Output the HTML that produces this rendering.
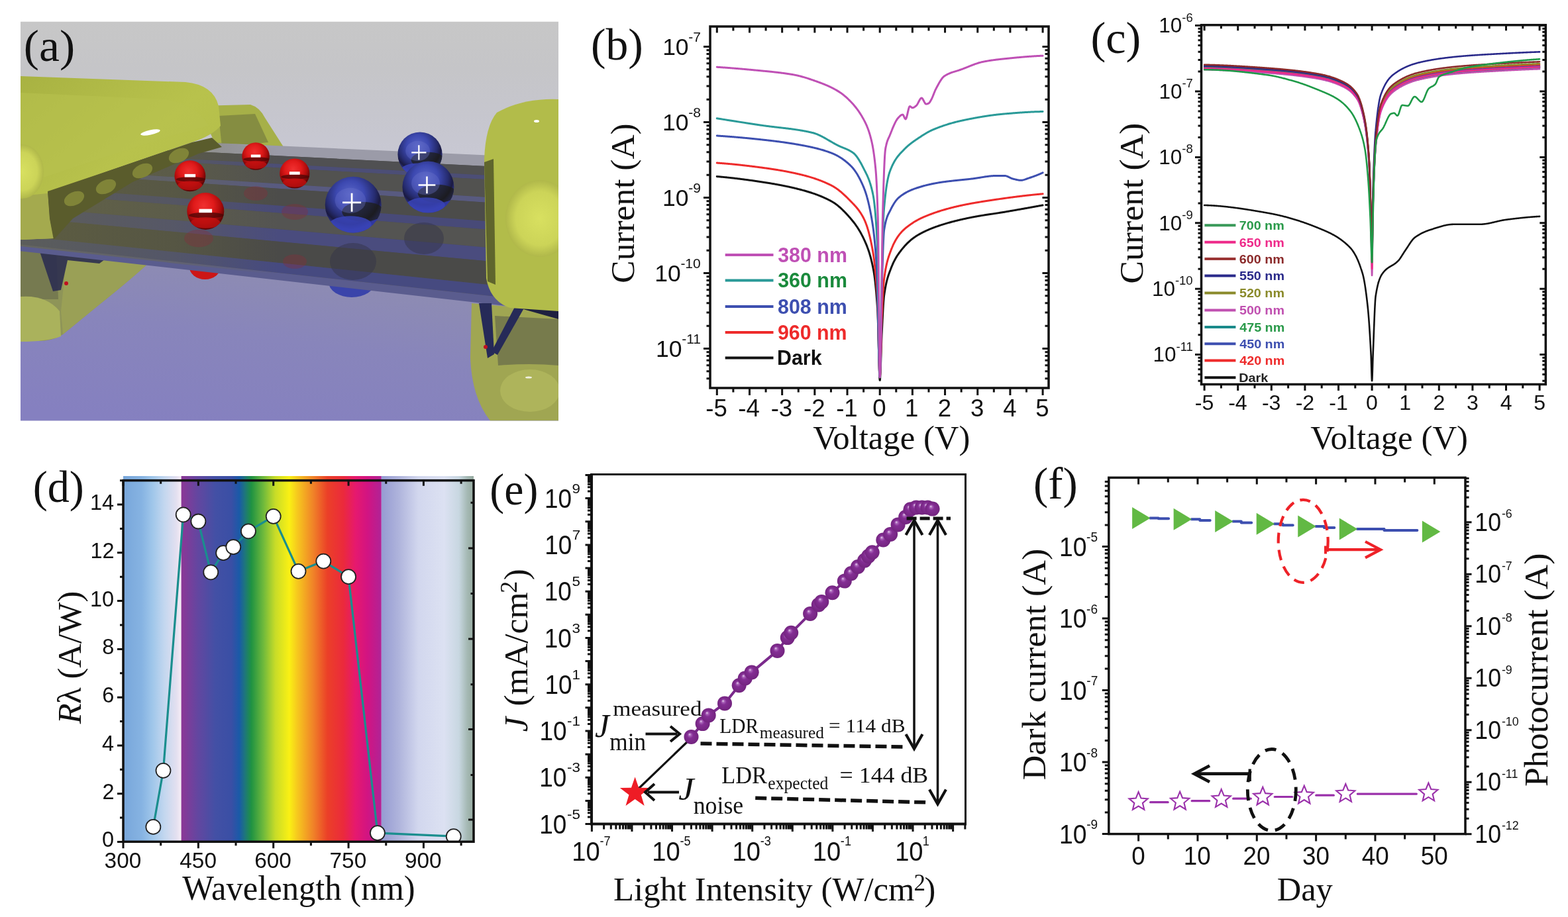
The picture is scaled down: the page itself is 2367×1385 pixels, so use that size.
<!DOCTYPE html><html><head><meta charset="utf-8"><title>Figure</title><style>html,body{margin:0;padding:0;background:#fff;overflow:hidden;}svg{display:block;}</style></head><body><svg width="2367" height="1385" viewBox="0 0 2367 1385"><defs><clipPath id="clipA"><rect x="31" y="32.5" width="812" height="603.0"/></clipPath><linearGradient id="bgA" x1="0" y1="0" x2="0" y2="1"><stop offset="0" stop-color="#c7c7c7"/><stop offset="0.12" stop-color="#c5c5c8"/><stop offset="0.3" stop-color="#c7c7d1"/><stop offset="0.45" stop-color="#cbcbd8"/><stop offset="0.62" stop-color="#9c9cbc"/><stop offset="0.75" stop-color="#8e8ebd"/><stop offset="1" stop-color="#8482c2"/></linearGradient><linearGradient id="yelA" x1="0" y1="0" x2="1" y2="1"><stop offset="0" stop-color="#a8b242"/><stop offset="0.5" stop-color="#b8c24c"/><stop offset="1" stop-color="#b2bc48"/></linearGradient><radialGradient id="capA" cx="0.5" cy="0.5" r="0.5"><stop offset="0" stop-color="#d8e060"/><stop offset="0.7" stop-color="#ccd458"/><stop offset="1" stop-color="#b0b84a"/></radialGradient><radialGradient id="redS" cx="0.45" cy="0.35" r="0.6"><stop offset="0" stop-color="#f03030"/><stop offset="0.45" stop-color="#e01a1a"/><stop offset="0.75" stop-color="#b00c0c"/><stop offset="1" stop-color="#600606"/></radialGradient><radialGradient id="bluS" cx="0.45" cy="0.32" r="0.62"><stop offset="0" stop-color="#5a66c8"/><stop offset="0.4" stop-color="#3c48b0"/><stop offset="0.7" stop-color="#262c70"/><stop offset="0.85" stop-color="#1a1a40"/><stop offset="1" stop-color="#3038a0"/></radialGradient><linearGradient id="floorA" x1="0.2" y1="1" x2="0.6" y2="0"><stop offset="0" stop-color="#8580c0"/><stop offset="0.5" stop-color="#8885bb"/><stop offset="1" stop-color="#908fae"/></linearGradient><linearGradient id="oliveOv" gradientUnits="userSpaceOnUse" x1="31" y1="0" x2="420" y2="0"><stop offset="0" stop-color="#6c6c3c" stop-opacity="0.55"/><stop offset="0.6" stop-color="#6c6c3c" stop-opacity="0.35"/><stop offset="1" stop-color="#6c6c3c" stop-opacity="0"/></linearGradient><clipPath id="rs0"><circle cx="386.1" cy="236" r="20.8"/></clipPath><clipPath id="rs1"><circle cx="286.9" cy="265.7" r="23.5"/></clipPath><clipPath id="rs2"><circle cx="444.8" cy="262" r="22.6"/></clipPath><clipPath id="rs3"><circle cx="310.3" cy="319" r="28"/></clipPath><clipPath id="bs0"><circle cx="634" cy="233" r="33.6"/></clipPath><clipPath id="bs1"><circle cx="533.2" cy="309.2" r="42.5"/></clipPath><clipPath id="bs2"><circle cx="646.4" cy="282.6" r="39"/></clipPath><linearGradient id="spA" x1="0" y1="0" x2="1" y2="0"><stop offset="0" stop-color="#78a6da"/><stop offset="0.32" stop-color="#86b3e2"/><stop offset="0.5" stop-color="#9fc6ea"/><stop offset="0.71" stop-color="#c3d7ef"/><stop offset="0.92" stop-color="#e4e0f0"/><stop offset="0.99" stop-color="#f4ecf5"/></linearGradient><linearGradient id="spB" x1="0" y1="0" x2="1" y2="0"><stop offset="0" stop-color="#8c3796"/><stop offset="0.08" stop-color="#6446a0"/><stop offset="0.17" stop-color="#4350a5"/><stop offset="0.25" stop-color="#3a4fa5"/><stop offset="0.29" stop-color="#1a5aa8"/><stop offset="0.32" stop-color="#1e7878"/><stop offset="0.35" stop-color="#1f9242"/><stop offset="0.41" stop-color="#6eb93c"/><stop offset="0.47" stop-color="#c8dc28"/><stop offset="0.54" stop-color="#faf014"/><stop offset="0.58" stop-color="#f6c81e"/><stop offset="0.66" stop-color="#f08228"/><stop offset="0.73" stop-color="#eb4028"/><stop offset="0.81" stop-color="#eb2a3c"/><stop offset="0.87" stop-color="#e6196e"/><stop offset="0.93" stop-color="#d21482"/><stop offset="1" stop-color="#b02396"/></linearGradient><linearGradient id="spC" x1="0" y1="0" x2="1" y2="0"><stop offset="0" stop-color="#969bd2"/><stop offset="0.19" stop-color="#afb4dc"/><stop offset="0.4" stop-color="#d2d7ee"/><stop offset="0.68" stop-color="#dce1f2"/><stop offset="0.84" stop-color="#c8d7e1"/><stop offset="0.93" stop-color="#a5b9b4"/><stop offset="1" stop-color="#96aaa0"/></linearGradient><clipPath id="clipD"><rect x="186" y="725.7" width="529" height="545.6"/></clipPath><radialGradient id="dotg" cx="0.5" cy="0.5" r="0.5" fx="0.38" fy="0.32"><stop offset="0" stop-color="#e8d8ee"/><stop offset="0.18" stop-color="#a860b8"/><stop offset="0.4" stop-color="#842e94"/><stop offset="1" stop-color="#73247f"/></radialGradient></defs><rect width="2367" height="1385" fill="#ffffff"/><g clip-path="url(#clipA)">
<rect x="31" y="32.5" width="812" height="603.0" fill="url(#bgA)"/>
<polygon points="31,372 775,455 843,470 843,635.5 31,635.5" fill="url(#floorA)"/>
<path d="M31,362 L230,392 Q200,420 150,460 L95,505 Q80,515 60,515 L31,515 Z" fill="#8e9458"/>
<path d="M100,392 L228,394 Q200,420 150,460 L95,505 L92,470 Z" fill="#9aa056"/>
<path d="M31,372 L85,378 L88,452 L31,452 Z" fill="#767a50"/>
<path d="M31,448 Q70,445 90,470 L92,508 Q70,516 31,516 Z" fill="#aab25c"/>
<path d="M57,371 L162,389 L150,398 L102,393 L92,438 L80,440 Z" fill="#2c2e50" opacity="0.9"/>
<circle cx="100" cy="428" r="3" fill="#c01020"/>
<path d="M300,160 L378,158 Q392,162 400,178 L430,225 L330,230 Z" fill="#a6b048"/>
<path d="M330,175 L385,172 L405,215 L335,222 Z" fill="#7d8440" opacity="0.8"/>
<ellipse cx="309.5" cy="402" rx="24" ry="20" fill="#cc1616"/>
<ellipse cx="531" cy="426" rx="35" ry="23" fill="#3a44aa"/>
<polygon points="31,207.17 790,243.37 790,457.55 31,373.6" fill="#4e4e50"/>
<polygon points="31,202.63 790,236.93 790,253.82 31,215.71" fill="#9b9ba8"/>
<polygon points="31,215.71 790,253.82 790,267.76 31,226.49" fill="#505052"/>
<polygon points="31,226.49 790,267.76 790,274.3 31,231.56" fill="#4c4e76"/>
<polygon points="31,231.56 790,274.3 790,301.33 31,252.48" fill="#525250"/>
<polygon points="31,252.48 790,301.33 790,309.57 31,258.85" fill="#585a80"/>
<polygon points="31,258.85 790,309.57 790,338.29 31,281.08" fill="#4c4c4a"/>
<polygon points="31,281.08 790,338.29 790,350.96 31,290.88" fill="#484a78"/>
<polygon points="31,290.88 790,350.96 790,378.41 31,312.13" fill="#545452"/>
<polygon points="31,312.13 790,378.41 790,399.53 31,328.47" fill="#4a4c7e"/>
<polygon points="31,328.47 790,399.53 790,435.43 31,356.26" fill="#4a4a48"/>
<polygon points="31,356.26 790,435.43 790,452.32 31,369.33" fill="#464a80"/>
<polygon points="31,369.33 790,452.32 790,464.99 31,379.14" fill="#5a5c8e"/>
<polygon points="31,300 330,215 420,225 420,415 31,372" fill="url(#oliveOv)"/>
<ellipse cx="386" cy="292" rx="18" ry="10.799999999999999" fill="#8a2a3a" opacity="0.35"/>
<ellipse cx="445" cy="320" rx="20" ry="12.0" fill="#8a2a3a" opacity="0.35"/>
<ellipse cx="300" cy="360" rx="22" ry="13.2" fill="#8a2a3a" opacity="0.35"/>
<ellipse cx="445" cy="395" rx="18" ry="10.799999999999999" fill="#8a2a3a" opacity="0.35"/>
<ellipse cx="533" cy="395" rx="35" ry="28.0" fill="#333348" opacity="0.5"/>
<ellipse cx="640" cy="360" rx="30" ry="24.0" fill="#333348" opacity="0.5"/>
<path d="M31,115 L280,124 Q322,128 330,160 L333,190 Q320,205 290,215 L170,256 L80,288 L72,289 L75,330 L81,360 L31,362 Z" fill="url(#yelA)"/>
<path d="M31,296 L72,292 L75,330 L81,360 L31,362 Z" fill="#a4aa4e"/>
<path d="M31,140 L250,150 Q300,160 315,190 L260,205 L150,240 L60,270 L31,272 Z" fill="#b8c24e" opacity="0.6"/>
<path d="M72,289 L170,256 L290,215 L320,208 L335,222 L300,232 L200,275 L110,330 L81,362 L75,330 Z" fill="#5a5c2c"/>
<ellipse cx="112" cy="300" rx="16" ry="10" transform="rotate(-25 112 300)" fill="#8a8e3c" opacity="0.8"/>
<ellipse cx="160" cy="282" rx="16" ry="10" transform="rotate(-25 160 282)" fill="#8a8e3c" opacity="0.8"/>
<ellipse cx="215" cy="258" rx="16" ry="10" transform="rotate(-25 215 258)" fill="#8a8e3c" opacity="0.8"/>
<ellipse cx="270" cy="235" rx="16" ry="10" transform="rotate(-25 270 235)" fill="#8a8e3c" opacity="0.8"/>
<ellipse cx="33" cy="259" rx="33" ry="41" fill="url(#capA)"/>
<ellipse cx="227" cy="200" rx="15" ry="3.5" transform="rotate(-12 227 200)" fill="#ffffff"/>
<path d="M712,458 L843,470 L843,635.5 L740,635.5 Q712,600 710,540 Z" fill="#a0a652"/>
<path d="M747,477 L843,482 L843,552 Q800,548 752,552 Z" fill="#777b4c"/>
<ellipse cx="800" cy="590" rx="45" ry="32" fill="#b2b85e" opacity="0.8"/>
<ellipse cx="798" cy="570" rx="5" ry="1.6" fill="#f0f0e0"/>
<path d="M723,458 L742,458 L746,535 L736,541 Z" fill="#262a58"/>
<path d="M780,458 L793,462 L751,536 L742,531 Z" fill="#262a58"/>
<path d="M780,455 L843,468 L843,482 L790,467 Z" fill="#1e2040"/>
<circle cx="733" cy="524" r="3" fill="#c01020"/>
<path d="M750,170 Q790,148 843,150 L843,470 L770,465 Q740,455 734,420 L731,240 Q733,190 750,170 Z" fill="#b2bc4a"/>
<path d="M731,245 L745,240 L748,430 L736,425 Z" fill="#505628" opacity="0.85"/>
<ellipse cx="815" cy="330" rx="52" ry="58" fill="url(#capA)"/>
<ellipse cx="810" cy="183" rx="4" ry="2" fill="#fff"/>
<circle cx="386.1" cy="236" r="20.8" fill="url(#redS)"/>
<g clip-path="url(#rs0)">
<ellipse cx="387.14" cy="240.58" rx="19.76" ry="3.33" fill="#4a0505" opacity="0.75"/>
<ellipse cx="386.1" cy="248.9" rx="16.64" ry="6.24" fill="#c01010" opacity="0.8"/>
</g>
<rect x="378.82" y="233.5" width="14.56" height="4.16" fill="#fff"/>
<circle cx="286.9" cy="265.7" r="23.5" fill="url(#redS)"/>
<g clip-path="url(#rs1)">
<ellipse cx="288.07" cy="270.87" rx="22.32" ry="3.76" fill="#4a0505" opacity="0.75"/>
<ellipse cx="286.9" cy="280.27" rx="18.8" ry="7.05" fill="#c01010" opacity="0.8"/>
</g>
<rect x="278.67" y="262.88" width="16.45" height="4.7" fill="#fff"/>
<circle cx="444.8" cy="262" r="22.6" fill="url(#redS)"/>
<g clip-path="url(#rs2)">
<ellipse cx="445.93" cy="266.97" rx="21.47" ry="3.62" fill="#4a0505" opacity="0.75"/>
<ellipse cx="444.8" cy="276.01" rx="18.08" ry="6.78" fill="#c01010" opacity="0.8"/>
</g>
<rect x="436.89" y="259.29" width="15.82" height="4.52" fill="#fff"/>
<circle cx="310.3" cy="319" r="28" fill="url(#redS)"/>
<g clip-path="url(#rs3)">
<ellipse cx="311.7" cy="325.16" rx="26.6" ry="4.48" fill="#4a0505" opacity="0.75"/>
<ellipse cx="310.3" cy="336.36" rx="22.4" ry="8.4" fill="#c01010" opacity="0.8"/>
</g>
<rect x="300.5" y="315.64" width="19.6" height="5.6" fill="#fff"/>
<circle cx="634" cy="233" r="33.6" fill="url(#bluS)"/>
<g clip-path="url(#bs0)">
<ellipse cx="645.76" cy="241.4" rx="25.2" ry="11.76" fill="#1c1c14" opacity="0.7"/>
<ellipse cx="630.64" cy="256.52" rx="25.2" ry="10.08" fill="#3a44b8" opacity="0.85"/>
<ellipse cx="630.64" cy="227.96" rx="18.48" ry="15.12" fill="#6a74cc" opacity="0.35"/>
</g>
<path d="M621.23 230.31h22.18 M632.32 219.22v22.18" stroke="#ffffff" stroke-width="2.2"/>
<circle cx="533.2" cy="309.2" r="42.5" fill="url(#bluS)"/>
<g clip-path="url(#bs1)">
<ellipse cx="548.08" cy="319.82" rx="31.88" ry="14.87" fill="#1c1c14" opacity="0.7"/>
<ellipse cx="528.95" cy="338.95" rx="31.88" ry="12.75" fill="#3a44b8" opacity="0.85"/>
<ellipse cx="528.95" cy="302.82" rx="23.38" ry="19.12" fill="#6a74cc" opacity="0.35"/>
</g>
<path d="M517.05 305.8h28.05 M531.08 291.78v28.05" stroke="#ffffff" stroke-width="2.76"/>
<circle cx="646.4" cy="282.6" r="39" fill="url(#bluS)"/>
<g clip-path="url(#bs2)">
<ellipse cx="660.05" cy="292.35" rx="29.25" ry="13.65" fill="#1c1c14" opacity="0.7"/>
<ellipse cx="642.5" cy="309.9" rx="29.25" ry="11.7" fill="#3a44b8" opacity="0.85"/>
<ellipse cx="642.5" cy="276.75" rx="21.45" ry="17.55" fill="#6a74cc" opacity="0.35"/>
</g>
<path d="M631.58 279.48h25.74 M644.45 266.61v25.74" stroke="#ffffff" stroke-width="2.54"/>
</g>
<text x="35.87" y="92.47" font-family="'Liberation Serif', 'Times New Roman', serif" font-size="67.58" fill="#111" textLength="77.26" lengthAdjust="spacingAndGlyphs">(a)</text>
<polyline points="1082.3,266.58 1083.12,266.65 1083.94,266.72 1084.76,266.79 1085.58,266.86 1086.41,266.93 1087.23,267 1088.05,267.08 1088.87,267.15 1089.69,267.23 1090.51,267.3 1091.33,267.38 1092.15,267.46 1092.97,267.54 1093.79,267.62 1094.62,267.7 1095.44,267.78 1096.26,267.86 1097.08,267.95 1097.9,268.03 1098.72,268.12 1099.54,268.2 1100.36,268.29 1101.18,268.38 1102,268.47 1102.83,268.56 1103.65,268.65 1104.47,268.74 1105.29,268.83 1106.11,268.92 1106.93,269.02 1107.75,269.11 1108.57,269.21 1109.39,269.3 1110.22,269.4 1111.04,269.5 1111.86,269.6 1112.68,269.7 1113.5,269.8 1114.32,269.9 1115.14,270 1115.96,270.1 1116.78,270.2 1117.6,270.3 1118.43,270.41 1119.25,270.51 1120.07,270.62 1120.89,270.72 1121.71,270.83 1122.53,270.94 1123.35,271.04 1124.17,271.15 1124.99,271.26 1125.81,271.37 1126.64,271.48 1127.46,271.59 1128.28,271.7 1129.1,271.81 1129.92,271.93 1130.74,272.04 1131.56,272.15 1132.38,272.27 1133.2,272.38 1134.03,272.5 1134.85,272.61 1135.67,272.73 1136.49,272.85 1137.31,272.96 1138.13,273.08 1138.95,273.2 1139.77,273.32 1140.59,273.44 1141.41,273.56 1142.24,273.68 1143.06,273.8 1143.88,273.92 1144.7,274.04 1145.52,274.16 1146.34,274.28 1147.16,274.4 1147.98,274.53 1148.8,274.65 1149.62,274.77 1150.45,274.9 1151.27,275.02 1152.09,275.15 1152.91,275.28 1153.73,275.4 1154.55,275.53 1155.37,275.66 1156.19,275.79 1157.01,275.92 1157.84,276.05 1158.66,276.18 1159.48,276.32 1160.3,276.45 1161.12,276.58 1161.94,276.72 1162.76,276.85 1163.58,276.99 1164.4,277.13 1165.22,277.27 1166.05,277.41 1166.87,277.55 1167.69,277.69 1168.51,277.83 1169.33,277.98 1170.15,278.12 1170.97,278.27 1171.79,278.42 1172.61,278.56 1173.43,278.71 1174.26,278.86 1175.08,279.02 1175.9,279.17 1176.72,279.32 1177.54,279.48 1178.36,279.64 1179.18,279.79 1180,279.95 1180.82,280.11 1181.65,280.28 1182.47,280.44 1183.29,280.6 1184.11,280.77 1184.93,280.94 1185.75,281.11 1186.57,281.28 1187.39,281.45 1188.21,281.62 1189.03,281.8 1189.86,281.97 1190.68,282.15 1191.5,282.33 1192.32,282.51 1193.14,282.69 1193.96,282.88 1194.78,283.06 1195.6,283.25 1196.42,283.44 1197.24,283.63 1198.07,283.82 1198.89,284.02 1199.71,284.21 1200.53,284.41 1201.35,284.61 1202.17,284.81 1202.99,285.01 1203.81,285.22 1204.63,285.42 1205.46,285.63 1206.28,285.84 1207.1,286.06 1207.92,286.27 1208.74,286.49 1209.56,286.7 1210.38,286.92 1211.2,287.14 1212.02,287.37 1212.84,287.59 1213.67,287.82 1214.49,288.05 1215.31,288.28 1216.13,288.52 1216.95,288.76 1217.77,289 1218.59,289.24 1219.41,289.48 1220.23,289.73 1221.05,289.98 1221.88,290.24 1222.7,290.49 1223.52,290.76 1224.34,291.02 1225.16,291.29 1225.98,291.56 1226.8,291.83 1227.62,292.11 1228.44,292.39 1229.27,292.67 1230.09,292.96 1230.91,293.26 1231.73,293.55 1232.55,293.85 1233.37,294.16 1234.19,294.47 1235.01,294.78 1235.83,295.1 1236.65,295.42 1237.48,295.75 1238.3,296.08 1239.12,296.42 1239.94,296.76 1240.76,297.11 1241.58,297.46 1242.4,297.81 1243.22,298.17 1244.04,298.54 1244.86,298.91 1245.69,299.29 1246.51,299.67 1247.33,300.06 1248.15,300.46 1248.97,300.86 1249.79,301.26 1250.61,301.67 1251.43,302.09 1252.25,302.51 1253.08,302.94 1253.9,303.38 1254.72,303.82 1255.54,304.27 1256.36,304.73 1257.18,305.22 1258,305.72 1258.82,306.25 1259.64,306.79 1260.46,307.35 1261.29,307.93 1262.11,308.53 1262.93,309.15 1263.75,309.78 1264.57,310.43 1265.39,311.1 1266.21,311.79 1267.03,312.49 1267.85,313.2 1268.67,313.93 1269.5,314.68 1270.32,315.44 1271.14,316.22 1271.96,317 1272.78,317.81 1273.6,318.62 1274.42,319.45 1275.24,320.29 1276.06,321.14 1276.89,322.01 1277.71,322.88 1278.53,323.77 1279.35,324.66 1280.17,325.57 1280.99,326.48 1281.81,327.41 1282.63,328.34 1283.45,329.29 1284.27,330.24 1285.1,331.2 1285.92,332.18 1286.74,333.18 1287.56,334.19 1288.38,335.23 1289.2,336.29 1290.02,337.37 1290.84,338.48 1291.66,339.62 1292.48,340.78 1293.31,341.98 1294.13,343.2 1294.95,344.46 1295.77,345.76 1296.59,347.09 1297.41,348.46 1298.23,349.86 1299.05,351.31 1299.87,352.8 1300.7,354.34 1301.52,355.91 1302.34,357.54 1303.16,359.21 1303.98,360.94 1304.8,362.7 1305.62,364.49 1306.44,366.33 1307.26,368.22 1308.08,370.18 1308.53,371.27 1308.66,371.6 1308.79,371.93 1308.91,372.22 1308.92,372.27 1309.05,372.61 1309.19,372.95 1309.32,373.29 1309.45,373.63 1309.58,373.98 1309.71,374.33 1309.73,374.37 1309.84,374.69 1309.98,375.05 1310.11,375.41 1310.24,375.77 1310.37,376.14 1310.5,376.51 1310.55,376.64 1310.63,376.88 1310.76,377.26 1310.9,377.64 1311.03,378.02 1311.16,378.41 1311.29,378.8 1311.37,379.03 1311.42,379.19 1311.55,379.59 1311.69,379.99 1311.82,380.4 1311.95,380.81 1312.08,381.22 1312.19,381.57 1312.21,381.64 1312.34,382.06 1312.48,382.49 1312.61,382.92 1312.74,383.36 1312.87,383.79 1313,384.24 1313.01,384.27 1313.13,384.69 1313.27,385.14 1313.4,385.6 1313.53,386.06 1313.66,386.52 1313.79,387 1313.83,387.14 1313.92,387.47 1314.05,387.95 1314.19,388.44 1314.32,388.93 1314.45,389.43 1314.58,389.93 1314.65,390.2 1314.71,390.43 1314.84,390.94 1314.98,391.46 1315.11,391.98 1315.24,392.51 1315.37,393.05 1315.47,393.47 1315.5,393.58 1315.63,394.13 1315.77,394.68 1315.9,395.23 1316.03,395.8 1316.16,396.36 1316.29,396.94 1316.29,396.95 1316.42,397.52 1316.55,398.1 1316.69,398.69 1316.82,399.29 1316.95,399.9 1317.08,400.51 1317.12,400.67 1317.21,401.12 1317.34,401.75 1317.48,402.38 1317.61,403.01 1317.74,403.66 1317.87,404.3 1317.94,404.64 1318,404.96 1318.13,405.62 1318.27,406.29 1318.4,406.97 1318.53,407.66 1318.66,408.37 1318.76,408.92 1318.79,409.11 1318.92,409.86 1319.05,410.63 1319.19,411.42 1319.32,412.24 1319.45,413.07 1319.58,413.92 1319.58,413.93 1319.71,414.81 1319.84,415.71 1319.98,416.64 1320.11,417.59 1320.24,418.57 1320.37,419.56 1320.4,419.79 1320.5,420.59 1320.63,421.64 1320.77,422.71 1320.9,423.81 1321.03,424.94 1321.16,426.09 1321.22,426.63 1321.29,427.27 1321.42,428.48 1321.55,429.72 1321.69,430.98 1321.82,432.27 1321.95,433.6 1322.04,434.54 1322.08,434.95 1322.21,436.33 1322.34,437.74 1322.48,439.19 1322.61,440.66 1322.74,442.17 1322.86,443.62 1322.87,443.7 1323,445.27 1323.13,446.88 1323.27,448.51 1323.4,450.18 1323.53,451.89 1323.66,453.62 1323.68,453.94 1323.79,455.4 1323.92,457.2 1324.06,459.05 1324.19,460.93 1324.32,462.84 1324.45,464.79 1324.51,465.63 1324.58,466.78 1324.71,468.81 1324.84,470.99 1324.98,473.72 1325.11,476.96 1325.24,480.67 1325.33,483.35 1325.37,484.79 1325.5,489.27 1325.63,494.06 1325.77,499.1 1325.9,504.36 1326.03,509.76 1326.15,514.72 1326.16,515.26 1326.29,520.81 1326.42,526.36 1326.56,531.85 1326.69,537.23 1326.82,542.45 1326.95,547.46 1326.97,548.14 1327.08,552.2 1327.21,556.62 1327.34,560.67 1327.48,564.3 1327.61,567.46 1327.74,570.09 1327.79,570.94 1327.87,572.13 1328,573.55 1328.13,574.29 1328.27,574.3 1328.4,573.72 1328.53,572.58 1328.61,571.62 1328.66,570.95 1328.79,568.85 1328.92,566.35 1329.06,563.47 1329.19,560.27 1329.32,556.79 1329.43,553.61 1329.45,553.08 1329.58,549.17 1329.71,545.12 1329.84,540.96 1329.98,536.75 1330.11,532.52 1330.24,528.32 1330.25,527.91 1330.37,524.2 1330.5,520.19 1330.63,516.35 1330.77,512.72 1330.9,509.34 1331.03,506.25 1331.07,505.28 1331.16,503.51 1331.29,500.9 1331.42,498.27 1331.56,495.63 1331.69,492.97 1331.82,490.32 1331.89,488.78 1331.95,487.67 1332.08,485.03 1332.21,482.41 1332.34,479.82 1332.48,477.26 1332.61,474.74 1332.72,472.72 1332.74,472.27 1332.87,469.86 1333,467.5 1333.13,465.22 1333.27,463.02 1333.4,460.9 1333.53,458.87 1333.54,458.76 1333.66,456.94 1333.79,455.11 1333.92,453.4 1334.06,451.81 1334.19,450.34 1334.32,449.01 1334.36,448.65 1334.45,447.82 1334.58,446.78 1334.71,445.84 1334.85,444.91 1334.98,444.01 1335.11,443.11 1335.18,442.64 1335.24,442.24 1335.37,441.38 1335.5,440.53 1335.63,439.71 1335.77,438.89 1335.9,438.1 1336,437.49 1336.03,437.31 1336.16,436.55 1336.29,435.79 1336.42,435.05 1336.56,434.33 1336.69,433.62 1336.82,432.92 1336.82,432.91 1336.95,432.23 1337.08,431.56 1337.21,430.9 1337.35,430.25 1337.48,429.62 1337.61,428.99 1337.64,428.84 1337.74,428.38 1337.87,427.78 1338,427.19 1338.13,426.61 1338.27,426.05 1338.4,425.49 1338.46,425.22 1338.53,424.94 1338.66,424.4 1338.79,423.88 1338.92,423.36 1339.06,422.85 1339.19,422.35 1339.28,421.99 1339.32,421.86 1339.45,421.37 1339.58,420.9 1339.71,420.43 1339.85,419.97 1339.98,419.52 1340.11,419.08 1340.11,419.07 1340.24,418.63 1340.37,418.2 1340.5,417.78 1340.63,417.36 1340.77,416.95 1340.9,416.54 1340.93,416.45 1341.03,416.14 1341.16,415.74 1341.29,415.35 1341.42,414.96 1341.56,414.57 1341.69,414.2 1341.75,414.03 1341.82,413.82 1341.95,413.45 1342.08,413.08 1342.21,412.72 1342.35,412.35 1342.48,411.99 1342.57,411.75 1342.61,411.64 1342.74,411.28 1342.87,410.93 1343,410.58 1343.13,410.23 1343.27,409.88 1343.39,409.55 1343.4,409.53 1343.53,409.18 1343.66,408.83 1343.79,408.49 1343.92,408.14 1344.06,407.79 1344.19,407.44 1344.21,407.38 1344.32,407.09 1344.45,406.74 1344.58,406.39 1344.71,406.05 1344.85,405.7 1344.98,405.36 1345.03,405.22 1345.11,405.02 1345.24,404.68 1345.37,404.35 1345.5,404.02 1345.64,403.69 1345.77,403.36 1345.85,403.15 1345.9,403.03 1346.03,402.71 1346.16,402.39 1346.29,402.07 1346.42,401.76 1346.56,401.44 1346.67,401.17 1346.69,401.13 1346.82,400.82 1346.95,400.51 1347.08,400.21 1347.21,399.91 1347.35,399.61 1347.48,399.31 1347.49,399.27 1347.61,399.01 1347.74,398.72 1347.87,398.43 1348.32,397.46 1349.14,395.72 1349.96,394.07 1350.78,392.48 1351.6,390.97 1352.42,389.52 1353.24,388.13 1354.06,386.8 1354.88,385.53 1355.7,384.31 1356.53,383.14 1357.35,382 1358.17,380.89 1358.99,379.8 1359.81,378.72 1360.63,377.67 1361.45,376.64 1362.27,375.63 1363.09,374.63 1363.92,373.66 1364.74,372.71 1365.56,371.78 1366.38,370.86 1367.2,369.97 1368.02,369.1 1368.84,368.25 1369.66,367.42 1370.48,366.61 1371.3,365.81 1372.13,365.04 1372.95,364.29 1373.77,363.56 1374.59,362.85 1375.41,362.16 1376.23,361.49 1377.05,360.84 1377.87,360.21 1378.69,359.6 1379.51,359 1380.34,358.43 1381.16,357.88 1381.98,357.35 1382.8,356.82 1383.62,356.31 1384.44,355.8 1385.26,355.3 1386.08,354.81 1386.9,354.33 1387.73,353.86 1388.55,353.39 1389.37,352.93 1390.19,352.48 1391.01,352.04 1391.83,351.6 1392.65,351.18 1393.47,350.76 1394.29,350.34 1395.11,349.93 1395.94,349.53 1396.76,349.14 1397.58,348.75 1398.4,348.37 1399.22,348 1400.04,347.63 1400.86,347.26 1401.68,346.91 1402.5,346.55 1403.32,346.21 1404.15,345.87 1404.97,345.53 1405.79,345.2 1406.61,344.87 1407.43,344.55 1408.25,344.23 1409.07,343.92 1409.89,343.61 1410.71,343.3 1411.54,343 1412.36,342.7 1413.18,342.41 1414,342.12 1414.82,341.83 1415.64,341.55 1416.46,341.27 1417.28,340.99 1418.1,340.71 1418.92,340.44 1419.75,340.17 1420.57,339.9 1421.39,339.64 1422.21,339.37 1423.03,339.12 1423.85,338.86 1424.67,338.6 1425.49,338.35 1426.31,338.1 1427.13,337.86 1427.96,337.61 1428.78,337.37 1429.6,337.13 1430.42,336.89 1431.24,336.66 1432.06,336.42 1432.88,336.19 1433.7,335.97 1434.52,335.74 1435.35,335.52 1436.17,335.29 1436.99,335.07 1437.81,334.86 1438.63,334.64 1439.45,334.43 1440.27,334.22 1441.09,334.01 1441.91,333.8 1442.73,333.59 1443.56,333.39 1444.38,333.19 1445.2,332.99 1446.02,332.79 1446.84,332.59 1447.66,332.39 1448.48,332.2 1449.3,332.01 1450.12,331.82 1450.94,331.63 1451.77,331.44 1452.59,331.26 1453.41,331.07 1454.23,330.89 1455.05,330.71 1455.87,330.53 1456.69,330.35 1457.51,330.17 1458.33,330 1459.16,329.82 1459.98,329.65 1460.8,329.48 1461.62,329.31 1462.44,329.14 1463.26,328.97 1464.08,328.8 1464.9,328.64 1465.72,328.47 1466.54,328.31 1467.37,328.14 1468.19,327.98 1469.01,327.82 1469.83,327.66 1470.65,327.51 1471.47,327.35 1472.29,327.2 1473.11,327.05 1473.93,326.9 1474.75,326.76 1475.58,326.61 1476.4,326.47 1477.22,326.33 1478.04,326.19 1478.86,326.05 1479.68,325.91 1480.5,325.78 1481.32,325.64 1482.14,325.51 1482.97,325.37 1483.79,325.24 1484.61,325.11 1485.43,324.98 1486.25,324.85 1487.07,324.72 1487.89,324.6 1488.71,324.47 1489.53,324.34 1490.35,324.22 1491.18,324.09 1492,323.97 1492.82,323.85 1493.64,323.72 1494.46,323.6 1495.28,323.48 1496.1,323.35 1496.92,323.23 1497.74,323.11 1498.56,322.98 1499.39,322.86 1500.21,322.74 1501.03,322.61 1501.85,322.49 1502.67,322.37 1503.49,322.24 1504.31,322.12 1505.13,321.99 1505.95,321.86 1506.78,321.74 1507.6,321.61 1508.42,321.48 1509.24,321.35 1510.06,321.22 1510.88,321.09 1511.7,320.96 1512.52,320.83 1513.34,320.7 1514.16,320.56 1514.99,320.42 1515.81,320.29 1516.63,320.15 1517.45,320.01 1518.27,319.87 1519.09,319.73 1519.91,319.59 1520.73,319.45 1521.55,319.31 1522.37,319.17 1523.2,319.03 1524.02,318.89 1524.84,318.74 1525.66,318.6 1526.48,318.46 1527.3,318.32 1528.12,318.18 1528.94,318.04 1529.76,317.89 1530.59,317.75 1531.41,317.61 1532.23,317.46 1533.05,317.32 1533.87,317.18 1534.69,317.03 1535.51,316.89 1536.33,316.75 1537.15,316.6 1537.97,316.46 1538.8,316.31 1539.62,316.17 1540.44,316.02 1541.26,315.88 1542.08,315.73 1542.9,315.59 1543.72,315.44 1544.54,315.29 1545.36,315.15 1546.18,315 1547.01,314.85 1547.83,314.71 1548.65,314.56 1549.47,314.41 1550.29,314.27 1551.11,314.12 1551.93,313.97 1552.75,313.82 1553.57,313.67 1554.4,313.53 1555.22,313.38 1556.04,313.23 1556.86,313.08 1557.68,312.93 1558.5,312.78 1559.32,312.63 1560.14,312.48 1560.96,312.33 1561.78,312.18 1562.61,312.03 1563.43,311.88 1564.25,311.73 1565.07,311.58 1565.89,311.42 1566.71,311.27 1567.53,311.12 1568.35,310.97 1569.17,310.82 1569.99,310.66 1570.82,310.51 1571.64,310.36 1572.46,310.21 1573.28,310.05 1574.1,309.9" fill="none" stroke="#111111" stroke-width="3" stroke-linejoin="round" stroke-linecap="round"/>
<polyline points="1082.3,246.06 1083.12,246.11 1083.94,246.17 1084.76,246.23 1085.58,246.28 1086.41,246.34 1087.23,246.4 1088.05,246.46 1088.87,246.52 1089.69,246.59 1090.51,246.65 1091.33,246.71 1092.15,246.78 1092.97,246.84 1093.79,246.91 1094.62,246.98 1095.44,247.05 1096.26,247.12 1097.08,247.19 1097.9,247.26 1098.72,247.33 1099.54,247.4 1100.36,247.48 1101.18,247.55 1102,247.63 1102.83,247.7 1103.65,247.78 1104.47,247.86 1105.29,247.93 1106.11,248.01 1106.93,248.09 1107.75,248.17 1108.57,248.26 1109.39,248.34 1110.22,248.42 1111.04,248.5 1111.86,248.59 1112.68,248.67 1113.5,248.76 1114.32,248.84 1115.14,248.93 1115.96,249.02 1116.78,249.11 1117.6,249.2 1118.43,249.29 1119.25,249.38 1120.07,249.47 1120.89,249.56 1121.71,249.65 1122.53,249.74 1123.35,249.84 1124.17,249.93 1124.99,250.03 1125.81,250.12 1126.64,250.22 1127.46,250.31 1128.28,250.41 1129.1,250.51 1129.92,250.6 1130.74,250.7 1131.56,250.8 1132.38,250.9 1133.2,251 1134.03,251.1 1134.85,251.2 1135.67,251.3 1136.49,251.4 1137.31,251.51 1138.13,251.61 1138.95,251.71 1139.77,251.81 1140.59,251.92 1141.41,252.02 1142.24,252.13 1143.06,252.23 1143.88,252.34 1144.7,252.44 1145.52,252.55 1146.34,252.66 1147.16,252.76 1147.98,252.87 1148.8,252.98 1149.62,253.09 1150.45,253.2 1151.27,253.31 1152.09,253.42 1152.91,253.53 1153.73,253.64 1154.55,253.75 1155.37,253.87 1156.19,253.98 1157.01,254.09 1157.84,254.21 1158.66,254.33 1159.48,254.44 1160.3,254.56 1161.12,254.68 1161.94,254.8 1162.76,254.92 1163.58,255.04 1164.4,255.17 1165.22,255.29 1166.05,255.42 1166.87,255.54 1167.69,255.67 1168.51,255.8 1169.33,255.93 1170.15,256.05 1170.97,256.19 1171.79,256.32 1172.61,256.45 1173.43,256.58 1174.26,256.72 1175.08,256.86 1175.9,256.99 1176.72,257.13 1177.54,257.27 1178.36,257.41 1179.18,257.56 1180,257.7 1180.82,257.85 1181.65,257.99 1182.47,258.14 1183.29,258.29 1184.11,258.44 1184.93,258.59 1185.75,258.74 1186.57,258.9 1187.39,259.05 1188.21,259.21 1189.03,259.37 1189.86,259.53 1190.68,259.69 1191.5,259.85 1192.32,260.02 1193.14,260.18 1193.96,260.35 1194.78,260.52 1195.6,260.69 1196.42,260.86 1197.24,261.03 1198.07,261.21 1198.89,261.39 1199.71,261.57 1200.53,261.75 1201.35,261.93 1202.17,262.11 1202.99,262.3 1203.81,262.48 1204.63,262.67 1205.46,262.86 1206.28,263.05 1207.1,263.25 1207.92,263.44 1208.74,263.64 1209.56,263.84 1210.38,264.04 1211.2,264.25 1212.02,264.46 1212.84,264.66 1213.67,264.88 1214.49,265.09 1215.31,265.31 1216.13,265.53 1216.95,265.75 1217.77,265.97 1218.59,266.2 1219.41,266.43 1220.23,266.66 1221.05,266.9 1221.88,267.14 1222.7,267.38 1223.52,267.63 1224.34,267.88 1225.16,268.13 1225.98,268.38 1226.8,268.64 1227.62,268.9 1228.44,269.17 1229.27,269.44 1230.09,269.71 1230.91,269.99 1231.73,270.27 1232.55,270.55 1233.37,270.84 1234.19,271.13 1235.01,271.43 1235.83,271.73 1236.65,272.04 1237.48,272.34 1238.3,272.66 1239.12,272.97 1239.94,273.3 1240.76,273.62 1241.58,273.95 1242.4,274.29 1243.22,274.63 1244.04,274.97 1244.86,275.32 1245.69,275.68 1246.51,276.03 1247.33,276.4 1248.15,276.77 1248.97,277.14 1249.79,277.52 1250.61,277.91 1251.43,278.29 1252.25,278.69 1253.08,279.09 1253.9,279.5 1254.72,279.91 1255.54,280.32 1256.36,280.76 1257.18,281.21 1258,281.67 1258.82,282.16 1259.64,282.67 1260.46,283.19 1261.29,283.73 1262.11,284.29 1262.93,284.86 1263.75,285.45 1264.57,286.05 1265.39,286.67 1266.21,287.3 1267.03,287.95 1267.85,288.61 1268.67,289.28 1269.5,289.97 1270.32,290.66 1271.14,291.38 1271.96,292.1 1272.78,292.83 1273.6,293.58 1274.42,294.33 1275.24,295.09 1276.06,295.87 1276.89,296.65 1277.71,297.44 1278.53,298.24 1279.35,299.05 1280.17,299.87 1280.99,300.69 1281.81,301.52 1282.63,302.35 1283.45,303.19 1284.27,304.04 1285.1,304.89 1285.92,305.73 1286.74,306.58 1287.56,307.43 1288.38,308.29 1289.2,309.15 1290.02,310.03 1290.84,310.93 1291.66,311.85 1292.48,312.79 1293.31,313.75 1294.13,314.75 1294.95,315.78 1295.77,316.84 1296.59,317.95 1297.41,319.09 1298.23,320.29 1299.05,321.53 1299.87,322.82 1300.7,324.17 1301.52,325.57 1302.34,327.04 1303.16,328.57 1303.98,330.18 1304.8,331.87 1305.62,333.69 1306.44,335.65 1307.26,337.76 1308.08,340.02 1308.53,341.3 1308.66,341.7 1308.79,342.09 1308.91,342.44 1308.92,342.49 1309.05,342.89 1309.19,343.3 1309.32,343.71 1309.45,344.13 1309.58,344.55 1309.71,344.97 1309.73,345.02 1309.84,345.4 1309.98,345.84 1310.11,346.28 1310.24,346.72 1310.37,347.17 1310.5,347.62 1310.55,347.78 1310.63,348.07 1310.76,348.53 1310.9,349 1311.03,349.47 1311.16,349.95 1311.29,350.43 1311.37,350.71 1311.42,350.91 1311.55,351.4 1311.69,351.89 1311.82,352.39 1311.95,352.9 1312.08,353.41 1312.19,353.83 1312.21,353.92 1312.34,354.44 1312.48,354.96 1312.61,355.49 1312.74,356.03 1312.87,356.56 1313,357.11 1313.01,357.15 1313.13,357.66 1313.27,358.21 1313.4,358.77 1313.53,359.34 1313.66,359.91 1313.79,360.48 1313.83,360.66 1313.92,361.06 1314.05,361.65 1314.19,362.24 1314.32,362.83 1314.45,363.44 1314.58,364.04 1314.65,364.38 1314.71,364.66 1314.84,365.27 1314.98,365.9 1315.11,366.53 1315.24,367.16 1315.37,367.8 1315.47,368.31 1315.5,368.45 1315.63,369.1 1315.77,369.76 1315.9,370.42 1316.03,371.09 1316.16,371.76 1316.29,372.44 1316.29,372.46 1316.42,373.13 1316.55,373.82 1316.69,374.52 1316.82,375.22 1316.95,375.93 1317.08,376.65 1317.12,376.84 1317.21,377.37 1317.34,378.1 1317.48,378.83 1317.61,379.59 1317.74,380.35 1317.87,381.13 1317.94,381.53 1318,381.93 1318.13,382.74 1318.27,383.57 1318.4,384.42 1318.53,385.28 1318.66,386.17 1318.76,386.84 1318.79,387.07 1318.92,387.99 1319.05,388.93 1319.19,389.89 1319.32,390.87 1319.45,391.87 1319.58,392.88 1319.58,392.89 1319.71,393.94 1319.84,395 1319.98,396.09 1320.11,397.2 1320.24,398.34 1320.37,399.5 1320.4,399.76 1320.5,400.68 1320.63,401.89 1320.77,403.12 1320.9,404.38 1321.03,405.67 1321.16,406.98 1321.22,407.59 1321.29,408.31 1321.42,409.68 1321.55,411.07 1321.69,412.5 1321.82,413.95 1321.95,415.43 1322.04,416.48 1322.08,416.93 1322.21,418.47 1322.34,420.04 1322.48,421.64 1322.61,423.27 1322.74,424.94 1322.86,426.54 1322.87,426.63 1323,428.36 1323.13,430.12 1323.27,431.92 1323.4,433.75 1323.53,435.61 1323.66,437.51 1323.68,437.86 1323.79,439.44 1323.92,441.41 1324.06,443.42 1324.19,445.46 1324.32,447.58 1324.45,450.13 1324.51,451.36 1324.58,453.18 1324.71,456.68 1324.84,460.58 1324.98,464.85 1325.11,469.44 1325.24,474.32 1325.33,477.68 1325.37,479.44 1325.5,484.76 1325.63,490.24 1325.77,495.83 1325.9,501.51 1326.03,507.22 1326.15,512.36 1326.16,512.92 1326.29,518.58 1326.42,524.15 1326.56,529.59 1326.69,534.86 1326.82,539.92 1326.95,544.72 1326.97,545.37 1327.08,549.23 1327.21,553.4 1327.34,557.2 1327.48,560.57 1327.61,563.49 1327.74,565.91 1327.79,566.69 1327.87,567.78 1328,569.07 1328.13,569.73 1328.27,569.72 1328.4,568.95 1328.53,567.47 1328.61,566.22 1328.66,565.34 1328.79,562.61 1328.92,559.35 1329.06,555.62 1329.19,551.48 1329.32,546.99 1329.43,542.89 1329.45,542.2 1329.58,537.18 1329.71,531.99 1329.84,526.69 1329.98,521.34 1330.11,515.99 1330.24,510.71 1330.25,510.19 1330.37,505.56 1330.5,500.59 1330.63,495.88 1330.77,491.47 1330.9,487.43 1331.03,483.81 1331.07,482.69 1331.16,480.68 1331.29,477.78 1331.42,474.88 1331.56,472 1331.69,469.13 1331.82,466.29 1331.89,464.66 1331.95,463.48 1332.08,460.7 1332.21,457.96 1332.34,455.26 1332.48,452.62 1332.61,450.03 1332.72,447.96 1332.74,447.51 1332.87,445.05 1333,442.66 1333.13,440.35 1333.27,438.13 1333.4,436 1333.53,433.96 1333.54,433.84 1333.66,432.02 1333.79,430.18 1333.92,428.46 1334.06,426.85 1334.19,425.37 1334.32,424.01 1334.36,423.64 1334.45,422.79 1334.58,421.71 1334.71,420.71 1334.85,419.74 1334.98,418.78 1335.11,417.84 1335.18,417.34 1335.24,416.92 1335.37,416.01 1335.5,415.12 1335.63,414.24 1335.77,413.38 1335.9,412.54 1336,411.9 1336.03,411.71 1336.16,410.9 1336.29,410.1 1336.42,409.32 1336.56,408.55 1336.69,407.79 1336.82,407.05 1336.82,407.04 1336.95,406.32 1337.08,405.61 1337.21,404.91 1337.35,404.22 1337.48,403.54 1337.61,402.88 1337.64,402.71 1337.74,402.23 1337.87,401.59 1338,400.96 1338.13,400.35 1338.27,399.74 1338.4,399.15 1338.46,398.86 1338.53,398.57 1338.66,397.99 1338.79,397.43 1338.92,396.88 1339.06,396.33 1339.19,395.8 1339.28,395.41 1339.32,395.28 1339.45,394.76 1339.58,394.25 1339.71,393.76 1339.85,393.27 1339.98,392.78 1340.11,392.32 1340.11,392.31 1340.24,391.84 1340.37,391.38 1340.5,390.93 1340.63,390.48 1340.77,390.04 1340.9,389.61 1340.93,389.52 1341.03,389.18 1341.16,388.76 1341.29,388.35 1341.42,387.94 1341.56,387.53 1341.69,387.13 1341.75,386.95 1341.82,386.73 1341.95,386.34 1342.08,385.95 1342.21,385.57 1342.35,385.19 1342.48,384.81 1342.57,384.55 1342.61,384.44 1342.74,384.07 1342.87,383.7 1343,383.33 1343.13,382.97 1343.27,382.6 1343.39,382.27 1343.4,382.24 1343.53,381.88 1343.66,381.52 1343.79,381.17 1343.92,380.81 1344.06,380.45 1344.19,380.1 1344.21,380.03 1344.32,379.74 1344.45,379.38 1344.58,379.03 1344.71,378.67 1344.85,378.32 1344.98,377.97 1345.03,377.83 1345.11,377.63 1345.24,377.29 1345.37,376.95 1345.5,376.61 1345.64,376.27 1345.77,375.94 1345.85,375.73 1345.9,375.61 1346.03,375.28 1346.16,374.96 1346.29,374.63 1346.42,374.31 1346.56,374 1346.67,373.71 1346.69,373.68 1346.82,373.37 1346.95,373.06 1347.08,372.75 1347.21,372.44 1347.35,372.14 1347.48,371.83 1347.49,371.8 1347.61,371.53 1347.74,371.24 1347.87,370.94 1348.32,369.96 1349.14,368.22 1349.96,366.56 1350.78,364.97 1351.6,363.46 1352.42,362.02 1353.24,360.65 1354.06,359.34 1354.88,358.09 1355.7,356.9 1356.53,355.77 1357.35,354.68 1358.17,353.63 1358.99,352.63 1359.81,351.66 1360.63,350.73 1361.45,349.84 1362.27,348.98 1363.09,348.15 1363.92,347.35 1364.74,346.58 1365.56,345.84 1366.38,345.12 1367.2,344.43 1368.02,343.75 1368.84,343.1 1369.66,342.46 1370.48,341.83 1371.3,341.22 1372.13,340.61 1372.95,340.01 1373.77,339.43 1374.59,338.85 1375.41,338.28 1376.23,337.73 1377.05,337.18 1377.87,336.64 1378.69,336.11 1379.51,335.6 1380.34,335.09 1381.16,334.59 1381.98,334.1 1382.8,333.62 1383.62,333.15 1384.44,332.69 1385.26,332.23 1386.08,331.79 1386.9,331.36 1387.73,330.93 1388.55,330.51 1389.37,330.11 1390.19,329.71 1391.01,329.32 1391.83,328.94 1392.65,328.56 1393.47,328.2 1394.29,327.84 1395.11,327.49 1395.94,327.14 1396.76,326.79 1397.58,326.45 1398.4,326.11 1399.22,325.78 1400.04,325.44 1400.86,325.12 1401.68,324.79 1402.5,324.47 1403.32,324.15 1404.15,323.84 1404.97,323.52 1405.79,323.22 1406.61,322.91 1407.43,322.61 1408.25,322.31 1409.07,322.01 1409.89,321.72 1410.71,321.43 1411.54,321.15 1412.36,320.86 1413.18,320.58 1414,320.3 1414.82,320.03 1415.64,319.76 1416.46,319.49 1417.28,319.22 1418.1,318.96 1418.92,318.7 1419.75,318.44 1420.57,318.18 1421.39,317.93 1422.21,317.68 1423.03,317.44 1423.85,317.19 1424.67,316.95 1425.49,316.71 1426.31,316.47 1427.13,316.24 1427.96,316 1428.78,315.77 1429.6,315.55 1430.42,315.32 1431.24,315.1 1432.06,314.88 1432.88,314.66 1433.7,314.44 1434.52,314.23 1435.35,314.01 1436.17,313.8 1436.99,313.6 1437.81,313.39 1438.63,313.19 1439.45,312.98 1440.27,312.78 1441.09,312.58 1441.91,312.39 1442.73,312.19 1443.56,312 1444.38,311.81 1445.2,311.62 1446.02,311.43 1446.84,311.25 1447.66,311.06 1448.48,310.88 1449.3,310.7 1450.12,310.52 1450.94,310.34 1451.77,310.17 1452.59,309.99 1453.41,309.82 1454.23,309.65 1455.05,309.48 1455.87,309.31 1456.69,309.15 1457.51,308.98 1458.33,308.82 1459.16,308.65 1459.98,308.49 1460.8,308.33 1461.62,308.18 1462.44,308.02 1463.26,307.86 1464.08,307.71 1464.9,307.56 1465.72,307.4 1466.54,307.25 1467.37,307.1 1468.19,306.96 1469.01,306.81 1469.83,306.66 1470.65,306.52 1471.47,306.37 1472.29,306.23 1473.11,306.09 1473.93,305.95 1474.75,305.81 1475.58,305.67 1476.4,305.53 1477.22,305.4 1478.04,305.26 1478.86,305.12 1479.68,304.99 1480.5,304.86 1481.32,304.72 1482.14,304.59 1482.97,304.46 1483.79,304.33 1484.61,304.2 1485.43,304.07 1486.25,303.94 1487.07,303.81 1487.89,303.69 1488.71,303.56 1489.53,303.43 1490.35,303.31 1491.18,303.18 1492,303.06 1492.82,302.93 1493.64,302.81 1494.46,302.68 1495.28,302.56 1496.1,302.44 1496.92,302.31 1497.74,302.19 1498.56,302.07 1499.39,301.95 1500.21,301.82 1501.03,301.7 1501.85,301.58 1502.67,301.46 1503.49,301.34 1504.31,301.22 1505.13,301.1 1505.95,300.98 1506.78,300.86 1507.6,300.74 1508.42,300.62 1509.24,300.51 1510.06,300.39 1510.88,300.27 1511.7,300.15 1512.52,300.04 1513.34,299.92 1514.16,299.8 1514.99,299.69 1515.81,299.57 1516.63,299.46 1517.45,299.35 1518.27,299.23 1519.09,299.12 1519.91,299.01 1520.73,298.89 1521.55,298.78 1522.37,298.67 1523.2,298.56 1524.02,298.45 1524.84,298.34 1525.66,298.23 1526.48,298.12 1527.3,298.01 1528.12,297.9 1528.94,297.79 1529.76,297.69 1530.59,297.58 1531.41,297.47 1532.23,297.37 1533.05,297.26 1533.87,297.16 1534.69,297.06 1535.51,296.95 1536.33,296.85 1537.15,296.75 1537.97,296.65 1538.8,296.54 1539.62,296.44 1540.44,296.34 1541.26,296.24 1542.08,296.14 1542.9,296.05 1543.72,295.95 1544.54,295.85 1545.36,295.75 1546.18,295.66 1547.01,295.56 1547.83,295.47 1548.65,295.37 1549.47,295.28 1550.29,295.19 1551.11,295.1 1551.93,295 1552.75,294.91 1553.57,294.82 1554.4,294.73 1555.22,294.65 1556.04,294.56 1556.86,294.47 1557.68,294.38 1558.5,294.3 1559.32,294.21 1560.14,294.13 1560.96,294.04 1561.78,293.96 1562.61,293.88 1563.43,293.8 1564.25,293.71 1565.07,293.63 1565.89,293.55 1566.71,293.48 1567.53,293.4 1568.35,293.32 1569.17,293.24 1569.99,293.17 1570.82,293.09 1571.64,293.02 1572.46,292.94 1573.28,292.87 1574.1,292.8" fill="none" stroke="#ee2b2b" stroke-width="3" stroke-linejoin="round" stroke-linecap="round"/>
<polyline points="1082.3,205.02 1083.12,205.07 1083.94,205.12 1084.76,205.17 1085.58,205.22 1086.41,205.27 1087.23,205.33 1088.05,205.38 1088.87,205.44 1089.69,205.49 1090.51,205.55 1091.33,205.6 1092.15,205.66 1092.97,205.72 1093.79,205.77 1094.62,205.83 1095.44,205.89 1096.26,205.95 1097.08,206.01 1097.9,206.07 1098.72,206.13 1099.54,206.2 1100.36,206.26 1101.18,206.32 1102,206.39 1102.83,206.45 1103.65,206.52 1104.47,206.58 1105.29,206.65 1106.11,206.71 1106.93,206.78 1107.75,206.85 1108.57,206.92 1109.39,206.99 1110.22,207.05 1111.04,207.12 1111.86,207.19 1112.68,207.26 1113.5,207.34 1114.32,207.41 1115.14,207.48 1115.96,207.55 1116.78,207.63 1117.6,207.7 1118.43,207.77 1119.25,207.85 1120.07,207.92 1120.89,208 1121.71,208.07 1122.53,208.15 1123.35,208.23 1124.17,208.3 1124.99,208.38 1125.81,208.46 1126.64,208.54 1127.46,208.61 1128.28,208.69 1129.1,208.77 1129.92,208.85 1130.74,208.93 1131.56,209.01 1132.38,209.09 1133.2,209.18 1134.03,209.26 1134.85,209.34 1135.67,209.42 1136.49,209.5 1137.31,209.59 1138.13,209.67 1138.95,209.75 1139.77,209.84 1140.59,209.92 1141.41,210.01 1142.24,210.09 1143.06,210.18 1143.88,210.26 1144.7,210.35 1145.52,210.44 1146.34,210.52 1147.16,210.61 1147.98,210.7 1148.8,210.78 1149.62,210.87 1150.45,210.96 1151.27,211.05 1152.09,211.14 1152.91,211.23 1153.73,211.32 1154.55,211.41 1155.37,211.5 1156.19,211.59 1157.01,211.68 1157.84,211.77 1158.66,211.87 1159.48,211.96 1160.3,212.05 1161.12,212.15 1161.94,212.24 1162.76,212.34 1163.58,212.44 1164.4,212.53 1165.22,212.63 1166.05,212.73 1166.87,212.83 1167.69,212.93 1168.51,213.03 1169.33,213.13 1170.15,213.23 1170.97,213.33 1171.79,213.44 1172.61,213.54 1173.43,213.65 1174.26,213.75 1175.08,213.86 1175.9,213.96 1176.72,214.07 1177.54,214.18 1178.36,214.29 1179.18,214.4 1180,214.51 1180.82,214.63 1181.65,214.74 1182.47,214.85 1183.29,214.97 1184.11,215.08 1184.93,215.2 1185.75,215.32 1186.57,215.44 1187.39,215.56 1188.21,215.68 1189.03,215.8 1189.86,215.92 1190.68,216.05 1191.5,216.17 1192.32,216.3 1193.14,216.43 1193.96,216.55 1194.78,216.68 1195.6,216.81 1196.42,216.95 1197.24,217.08 1198.07,217.21 1198.89,217.35 1199.71,217.48 1200.53,217.62 1201.35,217.76 1202.17,217.9 1202.99,218.04 1203.81,218.18 1204.63,218.33 1205.46,218.47 1206.28,218.62 1207.1,218.77 1207.92,218.92 1208.74,219.06 1209.56,219.22 1210.38,219.37 1211.2,219.52 1212.02,219.67 1212.84,219.83 1213.67,219.98 1214.49,220.14 1215.31,220.3 1216.13,220.46 1216.95,220.62 1217.77,220.78 1218.59,220.95 1219.41,221.12 1220.23,221.28 1221.05,221.45 1221.88,221.63 1222.7,221.8 1223.52,221.98 1224.34,222.16 1225.16,222.34 1225.98,222.52 1226.8,222.71 1227.62,222.9 1228.44,223.09 1229.27,223.28 1230.09,223.48 1230.91,223.68 1231.73,223.88 1232.55,224.08 1233.37,224.29 1234.19,224.5 1235.01,224.71 1235.83,224.93 1236.65,225.15 1237.48,225.38 1238.3,225.6 1239.12,225.83 1239.94,226.07 1240.76,226.31 1241.58,226.55 1242.4,226.79 1243.22,227.04 1244.04,227.29 1244.86,227.55 1245.69,227.81 1246.51,228.08 1247.33,228.35 1248.15,228.62 1248.97,228.9 1249.79,229.18 1250.61,229.47 1251.43,229.76 1252.25,230.06 1253.08,230.36 1253.9,230.66 1254.72,230.97 1255.54,231.29 1256.36,231.61 1257.18,231.95 1258,232.3 1258.82,232.66 1259.64,233.03 1260.46,233.41 1261.29,233.81 1262.11,234.22 1262.93,234.64 1263.75,235.08 1264.57,235.52 1265.39,235.98 1266.21,236.46 1267.03,236.94 1267.85,237.45 1268.67,237.96 1269.5,238.49 1270.32,239.03 1271.14,239.58 1271.96,240.15 1272.78,240.74 1273.6,241.33 1274.42,241.95 1275.24,242.57 1276.06,243.21 1276.89,243.87 1277.71,244.54 1278.53,245.23 1279.35,245.93 1280.17,246.65 1280.99,247.38 1281.81,248.13 1282.63,248.89 1283.45,249.67 1284.27,250.47 1285.1,251.29 1285.92,252.15 1286.74,253.06 1287.56,254.02 1288.38,255.02 1289.2,256.06 1290.02,257.15 1290.84,258.29 1291.66,259.48 1292.48,260.71 1293.31,262 1294.13,263.33 1294.95,264.72 1295.77,266.15 1296.59,267.63 1297.41,269.17 1298.23,270.76 1299.05,272.4 1299.87,274.09 1300.7,275.84 1301.52,277.64 1302.34,279.5 1303.16,281.41 1303.98,283.38 1304.8,285.44 1305.62,287.64 1306.44,289.99 1307.26,292.49 1308.08,295.17 1308.53,296.69 1308.66,297.15 1308.79,297.61 1308.91,298.02 1308.92,298.08 1309.05,298.55 1309.19,299.03 1309.32,299.52 1309.45,300 1309.58,300.5 1309.71,300.99 1309.73,301.05 1309.84,301.5 1309.98,302 1310.11,302.52 1310.24,303.03 1310.37,303.56 1310.5,304.08 1310.55,304.27 1310.63,304.61 1310.76,305.15 1310.9,305.69 1311.03,306.24 1311.16,306.79 1311.29,307.35 1311.37,307.68 1311.42,307.92 1311.55,308.48 1311.69,309.06 1311.82,309.64 1311.95,310.22 1312.08,310.81 1312.19,311.3 1312.21,311.4 1312.34,312 1312.48,312.61 1312.61,313.22 1312.74,313.84 1312.87,314.46 1313,315.09 1313.01,315.13 1313.13,315.72 1313.27,316.36 1313.4,317.01 1313.53,317.66 1313.66,318.31 1313.79,318.97 1313.83,319.18 1313.92,319.64 1314.05,320.32 1314.19,320.99 1314.32,321.68 1314.45,322.37 1314.58,323.07 1314.65,323.45 1314.71,323.77 1314.84,324.48 1314.98,325.2 1315.11,325.92 1315.24,326.64 1315.37,327.38 1315.47,327.96 1315.5,328.12 1315.63,328.86 1315.77,329.61 1315.9,330.37 1316.03,331.14 1316.16,331.91 1316.29,332.69 1316.29,332.71 1316.42,333.48 1316.55,334.28 1316.69,335.09 1316.82,335.92 1316.95,336.75 1317.08,337.59 1317.12,337.82 1317.21,338.45 1317.34,339.32 1317.48,340.2 1317.61,341.1 1317.74,342.02 1317.87,342.94 1317.94,343.42 1318,343.89 1318.13,344.85 1318.27,345.82 1318.4,346.82 1318.53,347.83 1318.66,348.86 1318.76,349.64 1318.79,349.91 1318.92,350.98 1319.05,352.07 1319.19,353.18 1319.32,354.31 1319.45,355.46 1319.58,356.62 1319.58,356.64 1319.71,357.83 1319.84,359.05 1319.98,360.3 1320.11,361.57 1320.24,362.87 1320.37,364.19 1320.4,364.49 1320.5,365.53 1320.63,366.91 1320.77,368.31 1320.9,369.74 1321.03,371.19 1321.16,372.68 1321.22,373.38 1321.29,374.2 1321.42,375.74 1321.55,377.32 1321.69,378.93 1321.82,380.56 1321.95,382.24 1322.04,383.43 1322.08,383.94 1322.21,385.68 1322.34,387.45 1322.48,389.25 1322.61,391.1 1322.74,392.97 1322.86,394.77 1322.87,394.88 1323,396.83 1323.13,398.82 1323.27,400.84 1323.4,403.08 1323.53,405.8 1323.66,408.96 1323.68,409.58 1323.79,412.54 1323.92,416.51 1324.06,420.84 1324.19,425.5 1324.32,430.46 1324.45,435.69 1324.51,437.97 1324.58,441.16 1324.71,446.84 1324.84,452.69 1324.98,458.7 1325.11,464.83 1325.24,471.04 1325.33,475.19 1325.37,477.32 1325.5,483.62 1325.63,489.93 1325.77,496.2 1325.9,502.41 1326.03,508.54 1326.15,513.95 1326.16,514.54 1326.29,520.39 1326.42,526.06 1326.56,531.52 1326.69,536.75 1326.82,541.7 1326.95,546.35 1326.97,546.98 1327.08,550.67 1327.21,554.63 1327.34,558.2 1327.48,561.35 1327.61,564.05 1327.74,566.27 1327.79,566.98 1327.87,567.98 1328,569.14 1328.13,569.74 1328.27,569.67 1328.4,568.5 1328.53,566.25 1328.61,564.35 1328.66,563.01 1328.79,558.87 1328.92,553.93 1329.06,548.27 1329.19,541.98 1329.32,535.16 1329.43,528.95 1329.45,527.9 1329.58,520.3 1329.71,512.43 1329.84,504.39 1329.98,496.28 1330.11,488.19 1330.24,480.2 1330.25,479.42 1330.37,472.41 1330.5,464.92 1330.63,457.8 1330.77,451.16 1330.9,445.08 1331.03,439.65 1331.07,437.98 1331.16,434.97 1331.29,430.62 1331.42,426.23 1331.56,421.83 1331.69,417.43 1331.82,413.05 1331.89,410.52 1331.95,408.68 1332.08,404.36 1332.21,400.09 1332.34,395.89 1332.48,391.76 1332.61,387.73 1332.72,384.51 1332.74,383.8 1332.87,380 1333,376.33 1333.13,372.8 1333.27,369.44 1333.4,366.25 1333.53,363.25 1333.54,363.08 1333.66,360.45 1333.79,357.86 1333.92,355.5 1334.06,353.38 1334.19,351.52 1334.32,349.93 1334.36,349.51 1334.45,348.61 1334.58,347.59 1334.71,346.76 1334.85,345.95 1334.98,345.16 1335.11,344.38 1335.18,343.97 1335.24,343.62 1335.37,342.88 1335.5,342.16 1335.63,341.45 1335.77,340.76 1335.9,340.09 1336,339.58 1336.03,339.43 1336.16,338.79 1336.29,338.17 1336.42,337.55 1336.56,336.96 1336.69,336.38 1336.82,335.81 1336.82,335.8 1336.95,335.25 1337.08,334.71 1337.21,334.19 1337.35,333.67 1337.48,333.17 1337.61,332.68 1337.64,332.56 1337.74,332.21 1337.87,331.74 1338,331.29 1338.13,330.84 1338.27,330.41 1338.4,329.99 1338.46,329.79 1338.53,329.58 1338.66,329.18 1338.79,328.79 1338.92,328.4 1339.06,328.03 1339.19,327.66 1339.28,327.4 1339.32,327.31 1339.45,326.96 1339.58,326.62 1339.71,326.29 1339.85,325.96 1339.98,325.64 1340.11,325.34 1340.11,325.33 1340.24,325.02 1340.37,324.72 1340.5,324.43 1340.63,324.14 1340.77,323.85 1340.9,323.57 1340.93,323.51 1341.03,323.3 1341.16,323.03 1341.29,322.76 1341.42,322.5 1341.56,322.24 1341.69,321.98 1341.75,321.86 1341.82,321.72 1341.95,321.47 1342.08,321.22 1342.21,320.97 1342.35,320.72 1342.48,320.48 1342.57,320.3 1342.61,320.23 1342.74,319.98 1342.87,319.74 1343,319.49 1343.13,319.25 1343.27,319 1343.39,318.77 1343.4,318.75 1343.53,318.5 1343.66,318.25 1343.79,318 1343.92,317.75 1344.06,317.49 1344.19,317.23 1344.21,317.18 1344.32,316.96 1344.45,316.7 1344.58,316.43 1344.71,316.16 1344.85,315.9 1344.98,315.63 1345.03,315.53 1345.11,315.37 1345.24,315.11 1345.37,314.85 1345.5,314.59 1345.64,314.34 1345.77,314.08 1345.85,313.92 1345.9,313.83 1346.03,313.58 1346.16,313.33 1346.29,313.08 1346.42,312.83 1346.56,312.58 1346.67,312.37 1346.69,312.34 1346.82,312.1 1346.95,311.85 1347.08,311.61 1347.21,311.37 1347.35,311.14 1347.48,310.9 1347.49,310.87 1347.61,310.67 1347.74,310.43 1347.87,310.2 1348.32,309.43 1349.14,308.06 1349.96,306.74 1350.78,305.49 1351.6,304.31 1352.42,303.19 1353.24,302.14 1354.06,301.17 1354.88,300.26 1355.7,299.43 1356.53,298.67 1357.35,297.98 1358.17,297.3 1358.99,296.65 1359.81,296.02 1360.63,295.4 1361.45,294.81 1362.27,294.23 1363.09,293.67 1363.92,293.13 1364.74,292.6 1365.56,292.1 1366.38,291.6 1367.2,291.13 1368.02,290.66 1368.84,290.22 1369.66,289.78 1370.48,289.36 1371.3,288.95 1372.13,288.56 1372.95,288.17 1373.77,287.8 1374.59,287.44 1375.41,287.09 1376.23,286.75 1377.05,286.41 1377.87,286.09 1378.69,285.78 1379.51,285.47 1380.34,285.17 1381.16,284.88 1381.98,284.59 1382.8,284.31 1383.62,284.03 1384.44,283.75 1385.26,283.48 1386.08,283.22 1386.9,282.96 1387.73,282.7 1388.55,282.45 1389.37,282.2 1390.19,281.95 1391.01,281.71 1391.83,281.47 1392.65,281.24 1393.47,281.01 1394.29,280.79 1395.11,280.57 1395.94,280.35 1396.76,280.13 1397.58,279.92 1398.4,279.72 1399.22,279.51 1400.04,279.31 1400.86,279.12 1401.68,278.92 1402.5,278.73 1403.32,278.55 1404.15,278.36 1404.97,278.18 1405.79,278.01 1406.61,277.83 1407.43,277.66 1408.25,277.5 1409.07,277.33 1409.89,277.17 1410.71,277.01 1411.54,276.86 1412.36,276.71 1413.18,276.56 1414,276.41 1414.82,276.26 1415.64,276.12 1416.46,275.98 1417.28,275.85 1418.1,275.72 1418.92,275.58 1419.75,275.46 1420.57,275.33 1421.39,275.21 1422.21,275.09 1423.03,274.97 1423.85,274.85 1424.67,274.73 1425.49,274.62 1426.31,274.51 1427.13,274.4 1427.96,274.3 1428.78,274.19 1429.6,274.09 1430.42,273.98 1431.24,273.88 1432.06,273.78 1432.88,273.69 1433.7,273.59 1434.52,273.5 1435.35,273.4 1436.17,273.31 1436.99,273.22 1437.81,273.13 1438.63,273.04 1439.45,272.95 1440.27,272.86 1441.09,272.78 1441.91,272.69 1442.73,272.61 1443.56,272.52 1444.38,272.44 1445.2,272.35 1446.02,272.27 1446.84,272.18 1447.66,272.1 1448.48,272.02 1449.3,271.94 1450.12,271.85 1450.94,271.77 1451.77,271.69 1452.59,271.6 1453.41,271.52 1454.23,271.44 1455.05,271.35 1455.87,271.27 1456.69,271.18 1457.51,271.1 1458.33,271.01 1459.16,270.92 1459.98,270.84 1460.8,270.75 1461.62,270.66 1462.44,270.57 1463.26,270.48 1464.08,270.38 1464.9,270.29 1465.72,270.2 1466.54,270.1 1467.37,270 1468.19,269.9 1469.01,269.8 1469.83,269.69 1470.65,269.57 1471.47,269.46 1472.29,269.34 1473.11,269.21 1473.93,269.09 1474.75,268.96 1475.58,268.83 1476.4,268.7 1477.22,268.57 1478.04,268.43 1478.86,268.3 1479.68,268.16 1480.5,268.03 1481.32,267.89 1482.14,267.76 1482.97,267.62 1483.79,267.49 1484.61,267.36 1485.43,267.23 1486.25,267.1 1487.07,266.98 1487.89,266.85 1488.71,266.73 1489.53,266.62 1490.35,266.5 1491.18,266.4 1492,266.29 1492.82,266.19 1493.64,266.1 1494.46,266.01 1495.28,265.92 1496.1,265.84 1496.92,265.77 1497.74,265.7 1498.56,265.64 1499.39,265.59 1500.21,265.55 1501.03,265.51 1501.85,265.48 1502.67,265.46 1503.49,265.44 1504.31,265.44 1505.13,265.44 1505.95,265.44 1506.78,265.44 1507.6,265.44 1508.42,265.44 1509.24,265.44 1510.06,265.44 1510.88,265.44 1511.7,265.44 1512.52,265.44 1513.34,265.44 1514.16,265.44 1514.99,265.44 1515.81,265.44 1516.63,265.44 1517.45,265.49 1518.27,265.63 1519.09,265.84 1519.91,266.11 1520.73,266.43 1521.55,266.79 1522.37,267.18 1523.2,267.58 1524.02,268 1524.84,268.41 1525.66,268.8 1526.48,269.17 1527.3,269.51 1528.12,269.79 1528.94,270.02 1529.76,270.23 1530.59,270.44 1531.41,270.65 1532.23,270.86 1533.05,271.07 1533.87,271.26 1534.69,271.45 1535.51,271.63 1536.33,271.79 1537.15,271.93 1537.97,272.05 1538.8,272.15 1539.62,272.22 1540.44,272.27 1541.26,272.28 1542.08,272.24 1542.9,272.16 1543.72,272.03 1544.54,271.86 1545.36,271.65 1546.18,271.42 1547.01,271.16 1547.83,270.88 1548.65,270.58 1549.47,270.28 1550.29,269.98 1551.11,269.67 1551.93,269.37 1552.75,269.09 1553.57,268.82 1554.4,268.55 1555.22,268.28 1556.04,268.01 1556.86,267.73 1557.68,267.45 1558.5,267.16 1559.32,266.87 1560.14,266.58 1560.96,266.28 1561.78,265.97 1562.61,265.66 1563.43,265.35 1564.25,265.03 1565.07,264.71 1565.89,264.39 1566.71,264.06 1567.53,263.72 1568.35,263.38 1569.17,263.04 1569.99,262.69 1570.82,262.34 1571.64,261.98 1572.46,261.62 1573.28,261.25 1574.1,260.88" fill="none" stroke="#3d4fb0" stroke-width="3" stroke-linejoin="round" stroke-linecap="round"/>
<polyline points="1082.3,178.8 1083.12,178.93 1083.94,179.06 1084.76,179.19 1085.58,179.33 1086.41,179.46 1087.23,179.59 1088.05,179.72 1088.87,179.85 1089.69,179.98 1090.51,180.11 1091.33,180.24 1092.15,180.37 1092.97,180.5 1093.79,180.63 1094.62,180.76 1095.44,180.89 1096.26,181.02 1097.08,181.15 1097.9,181.28 1098.72,181.41 1099.54,181.54 1100.36,181.67 1101.18,181.8 1102,181.93 1102.83,182.06 1103.65,182.19 1104.47,182.32 1105.29,182.45 1106.11,182.58 1106.93,182.71 1107.75,182.84 1108.57,182.96 1109.39,183.09 1110.22,183.22 1111.04,183.35 1111.86,183.48 1112.68,183.61 1113.5,183.74 1114.32,183.86 1115.14,183.99 1115.96,184.12 1116.78,184.25 1117.6,184.37 1118.43,184.5 1119.25,184.63 1120.07,184.76 1120.89,184.88 1121.71,185.01 1122.53,185.14 1123.35,185.27 1124.17,185.39 1124.99,185.52 1125.81,185.65 1126.64,185.77 1127.46,185.9 1128.28,186.03 1129.1,186.15 1129.92,186.28 1130.74,186.4 1131.56,186.53 1132.38,186.66 1133.2,186.78 1134.03,186.91 1134.85,187.03 1135.67,187.16 1136.49,187.28 1137.31,187.41 1138.13,187.53 1138.95,187.66 1139.77,187.78 1140.59,187.91 1141.41,188.03 1142.24,188.16 1143.06,188.28 1143.88,188.41 1144.7,188.53 1145.52,188.66 1146.34,188.78 1147.16,188.9 1147.98,189.03 1148.8,189.15 1149.62,189.27 1150.45,189.39 1151.27,189.51 1152.09,189.63 1152.91,189.74 1153.73,189.86 1154.55,189.97 1155.37,190.08 1156.19,190.19 1157.01,190.3 1157.84,190.4 1158.66,190.51 1159.48,190.61 1160.3,190.72 1161.12,190.82 1161.94,190.92 1162.76,191.02 1163.58,191.12 1164.4,191.22 1165.22,191.32 1166.05,191.42 1166.87,191.51 1167.69,191.61 1168.51,191.71 1169.33,191.8 1170.15,191.9 1170.97,191.99 1171.79,192.09 1172.61,192.18 1173.43,192.27 1174.26,192.37 1175.08,192.46 1175.9,192.56 1176.72,192.65 1177.54,192.74 1178.36,192.84 1179.18,192.93 1180,193.03 1180.82,193.12 1181.65,193.22 1182.47,193.31 1183.29,193.41 1184.11,193.5 1184.93,193.6 1185.75,193.7 1186.57,193.8 1187.39,193.89 1188.21,193.99 1189.03,194.1 1189.86,194.2 1190.68,194.3 1191.5,194.4 1192.32,194.51 1193.14,194.61 1193.96,194.72 1194.78,194.83 1195.6,194.94 1196.42,195.05 1197.24,195.16 1198.07,195.27 1198.89,195.39 1199.71,195.5 1200.53,195.62 1201.35,195.74 1202.17,195.86 1202.99,195.99 1203.81,196.11 1204.63,196.24 1205.46,196.37 1206.28,196.5 1207.1,196.63 1207.92,196.76 1208.74,196.9 1209.56,197.04 1210.38,197.18 1211.2,197.32 1212.02,197.47 1212.84,197.62 1213.67,197.77 1214.49,197.92 1215.31,198.08 1216.13,198.24 1216.95,198.4 1217.77,198.56 1218.59,198.73 1219.41,198.9 1220.23,199.07 1221.05,199.24 1221.88,199.42 1222.7,199.6 1223.52,199.79 1224.34,199.98 1225.16,200.17 1225.98,200.36 1226.8,200.56 1227.62,200.77 1228.44,201.01 1229.27,201.26 1230.09,201.52 1230.91,201.8 1231.73,202.1 1232.55,202.4 1233.37,202.73 1234.19,203.06 1235.01,203.41 1235.83,203.77 1236.65,204.15 1237.48,204.53 1238.3,204.92 1239.12,205.33 1239.94,205.74 1240.76,206.16 1241.58,206.59 1242.4,207.02 1243.22,207.47 1244.04,207.92 1244.86,208.37 1245.69,208.83 1246.51,209.3 1247.33,209.77 1248.15,210.24 1248.97,210.71 1249.79,211.19 1250.61,211.67 1251.43,212.15 1252.25,212.63 1253.08,213.11 1253.9,213.59 1254.72,214.07 1255.54,214.54 1256.36,215.02 1257.18,215.49 1258,215.95 1258.82,216.42 1259.64,216.88 1260.46,217.33 1261.29,217.78 1262.11,218.22 1262.93,218.65 1263.75,219.08 1264.57,219.5 1265.39,219.91 1266.21,220.31 1267.03,220.69 1267.85,221.06 1268.67,221.42 1269.5,221.77 1270.32,222.11 1271.14,222.44 1271.96,222.78 1272.78,223.11 1273.6,223.43 1274.42,223.77 1275.24,224.1 1276.06,224.44 1276.89,224.78 1277.71,225.13 1278.53,225.5 1279.35,225.87 1280.17,226.26 1280.99,226.66 1281.81,227.08 1282.63,227.52 1283.45,227.98 1284.27,228.46 1285.1,228.96 1285.92,229.49 1286.74,230.05 1287.56,230.64 1288.38,231.25 1289.2,231.93 1290.02,232.69 1290.84,233.53 1291.66,234.46 1292.48,235.45 1293.31,236.51 1294.13,237.64 1294.95,238.83 1295.77,240.08 1296.59,241.39 1297.41,242.74 1298.23,244.14 1299.05,245.59 1299.87,247.07 1300.7,248.59 1301.52,250.14 1302.34,251.71 1303.16,253.32 1303.98,254.94 1304.8,256.56 1305.62,258.16 1306.44,259.76 1307.26,261.38 1308.08,263.04 1308.53,263.97 1308.66,264.24 1308.79,264.52 1308.91,264.77 1308.92,264.81 1309.05,265.09 1309.19,265.38 1309.32,265.67 1309.45,265.96 1309.58,266.26 1309.71,266.55 1309.73,266.59 1309.84,266.85 1309.98,267.16 1310.11,267.46 1310.24,267.77 1310.37,268.08 1310.5,268.4 1310.55,268.51 1310.63,268.72 1310.76,269.04 1310.9,269.37 1311.03,269.69 1311.16,270.03 1311.29,270.36 1311.37,270.56 1311.42,270.7 1311.55,271.05 1311.69,271.4 1311.82,271.75 1311.95,272.11 1312.08,272.47 1312.19,272.77 1312.21,272.83 1312.34,273.2 1312.48,273.58 1312.61,273.95 1312.74,274.34 1312.87,274.73 1313,275.12 1313.01,275.15 1313.13,275.52 1313.27,275.92 1313.4,276.33 1313.53,276.74 1313.66,277.16 1313.79,277.59 1313.83,277.72 1313.92,278.02 1314.05,278.45 1314.19,278.89 1314.32,279.34 1314.45,279.8 1314.58,280.25 1314.65,280.51 1314.71,280.72 1314.84,281.19 1314.98,281.67 1315.11,282.15 1315.24,282.64 1315.37,283.14 1315.47,283.53 1315.5,283.64 1315.63,284.15 1315.77,284.67 1315.9,285.19 1316.03,285.72 1316.16,286.26 1316.29,286.81 1316.29,286.82 1316.42,287.36 1316.55,287.92 1316.69,288.48 1316.82,289.06 1316.95,289.64 1317.08,290.23 1317.12,290.39 1317.21,290.83 1317.34,291.43 1317.48,292.04 1317.61,292.67 1317.74,293.29 1317.87,293.93 1317.94,294.26 1318,294.59 1318.13,295.27 1318.27,295.98 1318.4,296.71 1318.53,297.47 1318.66,298.27 1318.76,298.88 1318.79,299.09 1318.92,299.94 1319.05,300.83 1319.19,301.74 1319.32,302.69 1319.45,303.66 1319.58,304.66 1319.58,304.68 1319.71,305.72 1319.84,306.8 1319.98,307.91 1320.11,309.06 1320.24,310.25 1320.37,311.47 1320.4,311.75 1320.5,312.73 1320.63,314.02 1320.77,315.36 1320.9,316.73 1321.03,318.14 1321.16,319.6 1321.22,320.28 1321.29,321.09 1321.42,322.62 1321.55,324.2 1321.69,325.82 1321.82,327.48 1321.95,329.18 1322.04,330.41 1322.08,330.93 1322.21,332.72 1322.34,334.56 1322.48,336.44 1322.61,338.37 1322.74,340.35 1322.86,342.26 1322.87,342.37 1323,344.45 1323.13,346.57 1323.27,348.74 1323.4,350.96 1323.53,353.23 1323.66,355.55 1323.68,355.98 1323.79,357.92 1323.92,360.35 1324.06,362.82 1324.19,365.36 1324.32,368.02 1324.45,371.49 1324.51,373.23 1324.58,375.87 1324.71,381.09 1324.84,387.08 1324.98,393.76 1325.11,401.05 1325.24,408.89 1325.33,414.34 1325.37,417.2 1325.5,425.9 1325.63,434.93 1325.77,444.2 1325.9,453.66 1326.03,463.21 1326.15,471.84 1326.16,472.79 1326.29,482.32 1326.42,491.73 1326.56,500.95 1326.69,509.91 1326.82,518.52 1326.95,526.72 1326.97,527.83 1327.08,534.43 1327.21,541.57 1327.34,548.08 1327.48,553.89 1327.61,558.9 1327.74,563.07 1327.79,564.41 1327.87,566.3 1328,568.52 1328.13,569.67 1328.27,569.61 1328.4,567.97 1328.53,564.85 1328.61,562.23 1328.66,560.38 1328.79,554.73 1328.92,548.05 1329.06,540.48 1329.19,532.19 1329.32,523.31 1329.43,515.35 1329.45,514.02 1329.58,504.45 1329.71,494.76 1329.84,485.1 1329.98,475.63 1330.11,466.49 1330.24,457.85 1330.25,457.02 1330.37,449.84 1330.5,442.63 1330.63,436.36 1330.77,430.79 1330.9,425.21 1331.03,419.63 1331.07,417.73 1331.16,414.04 1331.29,408.47 1331.42,402.93 1331.56,397.43 1331.69,391.99 1331.82,386.63 1331.89,383.57 1331.95,381.36 1332.08,376.18 1332.21,371.13 1332.34,366.2 1332.48,361.43 1332.61,356.81 1332.72,353.16 1332.74,352.37 1332.87,348.11 1333,344.06 1333.13,340.23 1333.27,336.64 1333.4,333.29 1333.53,330.2 1333.54,330.03 1333.66,327.38 1333.79,324.86 1333.92,322.64 1334.06,320.75 1334.19,319.12 1334.32,317.53 1334.36,317.07 1334.45,315.98 1334.58,314.45 1334.71,312.94 1334.85,311.47 1334.98,310.02 1335.11,308.59 1335.18,307.84 1335.24,307.2 1335.37,305.82 1335.5,304.48 1335.63,303.15 1335.77,301.85 1335.9,300.58 1336,299.61 1336.03,299.33 1336.16,298.1 1336.29,296.9 1336.42,295.72 1336.56,294.56 1336.69,293.42 1336.82,292.31 1336.82,292.29 1336.95,291.22 1337.08,290.15 1337.21,289.1 1337.35,288.07 1337.48,287.07 1337.61,286.08 1337.64,285.83 1337.74,285.12 1337.87,284.17 1338,283.24 1338.13,282.34 1338.27,281.45 1338.4,280.58 1338.46,280.16 1338.53,279.73 1338.66,278.9 1338.79,278.08 1338.92,277.29 1339.06,276.51 1339.19,275.75 1339.28,275.2 1339.32,275 1339.45,274.27 1339.58,273.56 1339.71,272.87 1339.85,272.19 1339.98,271.52 1340.11,270.89 1340.11,270.87 1340.24,270.24 1340.37,269.62 1340.5,269.01 1340.63,268.42 1340.77,267.84 1340.9,267.28 1340.93,267.16 1341.03,266.72 1341.16,266.19 1341.29,265.66 1341.42,265.15 1341.56,264.64 1341.69,264.15 1341.75,263.94 1341.82,263.68 1341.95,263.21 1342.08,262.75 1342.21,262.31 1342.35,261.87 1342.48,261.45 1342.57,261.16 1342.61,261.03 1342.74,260.63 1342.87,260.23 1343,259.84 1343.13,259.46 1343.27,259.09 1343.39,258.75 1343.4,258.73 1343.53,258.37 1343.66,258.02 1343.79,257.67 1343.92,257.33 1344.06,256.98 1344.19,256.64 1344.21,256.58 1344.32,256.3 1344.45,255.97 1344.58,255.64 1344.71,255.31 1344.85,254.98 1344.98,254.66 1345.03,254.52 1345.11,254.34 1345.24,254.02 1345.37,253.7 1345.5,253.39 1345.64,253.08 1345.77,252.77 1345.85,252.57 1345.9,252.47 1346.03,252.16 1346.16,251.86 1346.29,251.57 1346.42,251.27 1346.56,250.98 1346.67,250.72 1346.69,250.69 1346.82,250.4 1346.95,250.12 1347.08,249.84 1347.21,249.56 1347.35,249.28 1347.48,249.01 1347.49,248.97 1347.61,248.73 1347.74,248.46 1347.87,248.2 1348.32,247.31 1349.14,245.74 1349.96,244.24 1350.78,242.83 1351.6,241.49 1352.42,240.22 1353.24,239 1354.06,237.85 1354.88,236.75 1355.7,235.7 1356.53,234.69 1357.35,233.72 1358.17,232.78 1358.99,231.87 1359.81,230.99 1360.63,230.12 1361.45,229.27 1362.27,228.43 1363.09,227.59 1363.92,226.75 1364.74,225.9 1365.56,225.05 1366.38,224.22 1367.2,223.41 1368.02,222.63 1368.84,221.86 1369.66,221.11 1370.48,220.39 1371.3,219.68 1372.13,218.98 1372.95,218.31 1373.77,217.64 1374.59,216.99 1375.41,216.36 1376.23,215.73 1377.05,215.12 1377.87,214.52 1378.69,213.93 1379.51,213.34 1380.34,212.77 1381.16,212.2 1381.98,211.63 1382.8,211.08 1383.62,210.52 1384.44,209.97 1385.26,209.42 1386.08,208.87 1386.9,208.32 1387.73,207.77 1388.55,207.23 1389.37,206.68 1390.19,206.14 1391.01,205.6 1391.83,205.07 1392.65,204.54 1393.47,204.02 1394.29,203.5 1395.11,202.99 1395.94,202.48 1396.76,201.98 1397.58,201.49 1398.4,201 1399.22,200.52 1400.04,200.05 1400.86,199.59 1401.68,199.14 1402.5,198.7 1403.32,198.28 1404.15,197.86 1404.97,197.45 1405.79,197.06 1406.61,196.67 1407.43,196.3 1408.25,195.95 1409.07,195.6 1409.89,195.26 1410.71,194.92 1411.54,194.58 1412.36,194.25 1413.18,193.92 1414,193.6 1414.82,193.28 1415.64,192.96 1416.46,192.65 1417.28,192.33 1418.1,192.03 1418.92,191.72 1419.75,191.42 1420.57,191.12 1421.39,190.83 1422.21,190.54 1423.03,190.25 1423.85,189.96 1424.67,189.68 1425.49,189.41 1426.31,189.13 1427.13,188.86 1427.96,188.59 1428.78,188.33 1429.6,188.07 1430.42,187.81 1431.24,187.55 1432.06,187.3 1432.88,187.05 1433.7,186.81 1434.52,186.56 1435.35,186.33 1436.17,186.09 1436.99,185.86 1437.81,185.63 1438.63,185.4 1439.45,185.18 1440.27,184.96 1441.09,184.74 1441.91,184.53 1442.73,184.32 1443.56,184.11 1444.38,183.9 1445.2,183.7 1446.02,183.5 1446.84,183.31 1447.66,183.11 1448.48,182.92 1449.3,182.74 1450.12,182.55 1450.94,182.37 1451.77,182.19 1452.59,182.02 1453.41,181.84 1454.23,181.67 1455.05,181.49 1455.87,181.32 1456.69,181.15 1457.51,180.98 1458.33,180.81 1459.16,180.64 1459.98,180.47 1460.8,180.3 1461.62,180.14 1462.44,179.97 1463.26,179.81 1464.08,179.65 1464.9,179.49 1465.72,179.32 1466.54,179.17 1467.37,179.01 1468.19,178.85 1469.01,178.69 1469.83,178.54 1470.65,178.38 1471.47,178.23 1472.29,178.08 1473.11,177.93 1473.93,177.78 1474.75,177.63 1475.58,177.49 1476.4,177.34 1477.22,177.2 1478.04,177.05 1478.86,176.91 1479.68,176.77 1480.5,176.63 1481.32,176.49 1482.14,176.36 1482.97,176.22 1483.79,176.09 1484.61,175.95 1485.43,175.82 1486.25,175.69 1487.07,175.56 1487.89,175.44 1488.71,175.31 1489.53,175.19 1490.35,175.06 1491.18,174.94 1492,174.82 1492.82,174.7 1493.64,174.59 1494.46,174.47 1495.28,174.36 1496.1,174.24 1496.92,174.13 1497.74,174.02 1498.56,173.92 1499.39,173.81 1500.21,173.7 1501.03,173.6 1501.85,173.5 1502.67,173.4 1503.49,173.3 1504.31,173.2 1505.13,173.11 1505.95,173.02 1506.78,172.92 1507.6,172.83 1508.42,172.74 1509.24,172.66 1510.06,172.57 1510.88,172.49 1511.7,172.41 1512.52,172.33 1513.34,172.25 1514.16,172.17 1514.99,172.1 1515.81,172.03 1516.63,171.95 1517.45,171.88 1518.27,171.81 1519.09,171.74 1519.91,171.67 1520.73,171.6 1521.55,171.54 1522.37,171.47 1523.2,171.4 1524.02,171.33 1524.84,171.26 1525.66,171.19 1526.48,171.13 1527.3,171.06 1528.12,170.99 1528.94,170.93 1529.76,170.86 1530.59,170.8 1531.41,170.73 1532.23,170.67 1533.05,170.6 1533.87,170.54 1534.69,170.48 1535.51,170.42 1536.33,170.36 1537.15,170.29 1537.97,170.23 1538.8,170.18 1539.62,170.12 1540.44,170.06 1541.26,170 1542.08,169.94 1542.9,169.89 1543.72,169.83 1544.54,169.78 1545.36,169.73 1546.18,169.67 1547.01,169.62 1547.83,169.57 1548.65,169.52 1549.47,169.47 1550.29,169.42 1551.11,169.38 1551.93,169.33 1552.75,169.29 1553.57,169.24 1554.4,169.2 1555.22,169.16 1556.04,169.12 1556.86,169.08 1557.68,169.04 1558.5,169 1559.32,168.97 1560.14,168.93 1560.96,168.9 1561.78,168.87 1562.61,168.83 1563.43,168.8 1564.25,168.78 1565.07,168.75 1565.89,168.72 1566.71,168.7 1567.53,168.67 1568.35,168.65 1569.17,168.63 1569.99,168.61 1570.82,168.6 1571.64,168.58 1572.46,168.56 1573.28,168.55 1574.1,168.54" fill="none" stroke="#2a9a98" stroke-width="3" stroke-linejoin="round" stroke-linecap="round"/>
<polyline points="1082.3,101.28 1083.12,101.33 1083.94,101.39 1084.76,101.44 1085.58,101.49 1086.41,101.55 1087.23,101.6 1088.05,101.66 1088.87,101.72 1089.69,101.77 1090.51,101.83 1091.33,101.89 1092.15,101.94 1092.97,102 1093.79,102.06 1094.62,102.12 1095.44,102.18 1096.26,102.24 1097.08,102.3 1097.9,102.36 1098.72,102.42 1099.54,102.49 1100.36,102.55 1101.18,102.61 1102,102.67 1102.83,102.74 1103.65,102.8 1104.47,102.87 1105.29,102.93 1106.11,103 1106.93,103.06 1107.75,103.13 1108.57,103.19 1109.39,103.26 1110.22,103.33 1111.04,103.39 1111.86,103.46 1112.68,103.53 1113.5,103.6 1114.32,103.67 1115.14,103.74 1115.96,103.81 1116.78,103.88 1117.6,103.95 1118.43,104.02 1119.25,104.09 1120.07,104.16 1120.89,104.23 1121.71,104.31 1122.53,104.38 1123.35,104.45 1124.17,104.52 1124.99,104.6 1125.81,104.67 1126.64,104.75 1127.46,104.82 1128.28,104.9 1129.1,104.97 1129.92,105.05 1130.74,105.12 1131.56,105.2 1132.38,105.27 1133.2,105.35 1134.03,105.43 1134.85,105.51 1135.67,105.58 1136.49,105.66 1137.31,105.74 1138.13,105.82 1138.95,105.9 1139.77,105.97 1140.59,106.05 1141.41,106.13 1142.24,106.21 1143.06,106.29 1143.88,106.36 1144.7,106.44 1145.52,106.52 1146.34,106.59 1147.16,106.67 1147.98,106.75 1148.8,106.83 1149.62,106.9 1150.45,106.98 1151.27,107.06 1152.09,107.14 1152.91,107.22 1153.73,107.3 1154.55,107.37 1155.37,107.45 1156.19,107.53 1157.01,107.61 1157.84,107.69 1158.66,107.77 1159.48,107.86 1160.3,107.94 1161.12,108.02 1161.94,108.1 1162.76,108.19 1163.58,108.27 1164.4,108.36 1165.22,108.44 1166.05,108.53 1166.87,108.62 1167.69,108.71 1168.51,108.8 1169.33,108.89 1170.15,108.98 1170.97,109.07 1171.79,109.16 1172.61,109.26 1173.43,109.35 1174.26,109.45 1175.08,109.55 1175.9,109.65 1176.72,109.75 1177.54,109.85 1178.36,109.95 1179.18,110.06 1180,110.16 1180.82,110.27 1181.65,110.38 1182.47,110.49 1183.29,110.6 1184.11,110.71 1184.93,110.82 1185.75,110.94 1186.57,111.06 1187.39,111.17 1188.21,111.29 1189.03,111.42 1189.86,111.54 1190.68,111.67 1191.5,111.79 1192.32,111.92 1193.14,112.06 1193.96,112.19 1194.78,112.32 1195.6,112.46 1196.42,112.6 1197.24,112.74 1198.07,112.89 1198.89,113.04 1199.71,113.2 1200.53,113.36 1201.35,113.53 1202.17,113.71 1202.99,113.89 1203.81,114.07 1204.63,114.26 1205.46,114.46 1206.28,114.66 1207.1,114.86 1207.92,115.07 1208.74,115.29 1209.56,115.51 1210.38,115.73 1211.2,115.96 1212.02,116.19 1212.84,116.42 1213.67,116.66 1214.49,116.9 1215.31,117.15 1216.13,117.4 1216.95,117.65 1217.77,117.9 1218.59,118.16 1219.41,118.42 1220.23,118.69 1221.05,118.96 1221.88,119.23 1222.7,119.5 1223.52,119.77 1224.34,120.05 1225.16,120.33 1225.98,120.61 1226.8,120.9 1227.62,121.18 1228.44,121.47 1229.27,121.76 1230.09,122.05 1230.91,122.34 1231.73,122.63 1232.55,122.93 1233.37,123.22 1234.19,123.52 1235.01,123.82 1235.83,124.11 1236.65,124.41 1237.48,124.72 1238.3,125.02 1239.12,125.33 1239.94,125.64 1240.76,125.96 1241.58,126.28 1242.4,126.6 1243.22,126.93 1244.04,127.26 1244.86,127.59 1245.69,127.93 1246.51,128.27 1247.33,128.62 1248.15,128.98 1248.97,129.34 1249.79,129.7 1250.61,130.07 1251.43,130.45 1252.25,130.83 1253.08,131.21 1253.9,131.61 1254.72,132.01 1255.54,132.41 1256.36,132.83 1257.18,133.24 1258,133.67 1258.82,134.1 1259.64,134.54 1260.46,134.99 1261.29,135.45 1262.11,135.91 1262.93,136.38 1263.75,136.86 1264.57,137.35 1265.39,137.85 1266.21,138.36 1267.03,138.88 1267.85,139.43 1268.67,139.99 1269.5,140.56 1270.32,141.16 1271.14,141.76 1271.96,142.39 1272.78,143.03 1273.6,143.68 1274.42,144.36 1275.24,145.04 1276.06,145.74 1276.89,146.46 1277.71,147.19 1278.53,147.94 1279.35,148.7 1280.17,149.47 1280.99,150.26 1281.81,151.07 1282.63,151.88 1283.45,152.71 1284.27,153.56 1285.1,154.42 1285.92,155.29 1286.74,156.19 1287.56,157.1 1288.38,158.03 1289.2,158.98 1290.02,159.96 1290.84,160.96 1291.66,161.98 1292.48,163.02 1293.31,164.09 1294.13,165.19 1294.95,166.32 1295.77,167.48 1296.59,168.66 1297.41,169.88 1298.23,171.13 1299.05,172.41 1299.87,173.73 1300.7,175.08 1301.52,176.46 1302.34,177.89 1303.16,179.35 1303.98,180.85 1304.8,182.39 1305.62,183.98 1306.44,185.63 1307.26,187.36 1308.08,189.18 1308.53,190.21 1308.66,190.52 1308.79,190.84 1308.91,191.11 1308.92,191.15 1309.05,191.47 1309.19,191.8 1309.32,192.12 1309.45,192.45 1309.58,192.79 1309.71,193.12 1309.73,193.16 1309.84,193.46 1309.98,193.81 1310.11,194.16 1310.24,194.51 1310.37,194.86 1310.5,195.22 1310.55,195.35 1310.63,195.59 1310.76,195.95 1310.9,196.32 1311.03,196.7 1311.16,197.08 1311.29,197.46 1311.37,197.69 1311.42,197.85 1311.55,198.24 1311.69,198.64 1311.82,199.04 1311.95,199.44 1312.08,199.85 1312.19,200.2 1312.21,200.27 1312.34,200.69 1312.48,201.11 1312.61,201.54 1312.74,201.97 1312.87,202.41 1313,202.86 1313.01,202.89 1313.13,203.3 1313.27,203.76 1313.4,204.22 1313.53,204.68 1313.66,205.15 1313.79,205.63 1313.83,205.77 1313.92,206.11 1314.05,206.59 1314.19,207.08 1314.32,207.57 1314.45,208.07 1314.58,208.58 1314.65,208.86 1314.71,209.09 1314.84,209.6 1314.98,210.13 1315.11,210.66 1315.24,211.19 1315.37,211.74 1315.47,212.17 1315.5,212.29 1315.63,212.85 1315.77,213.42 1315.9,213.99 1316.03,214.58 1316.16,215.18 1316.29,215.79 1316.29,215.8 1316.42,216.4 1316.55,217.03 1316.69,217.67 1316.82,218.32 1316.95,218.98 1317.08,219.66 1317.12,219.84 1317.21,220.35 1317.34,221.05 1317.48,221.76 1317.61,222.49 1317.74,223.24 1317.87,223.99 1317.94,224.38 1318,224.76 1318.13,225.55 1318.27,226.36 1318.4,227.17 1318.53,228.01 1318.66,228.86 1318.76,229.51 1318.79,229.73 1318.92,230.62 1319.05,231.52 1319.19,232.45 1319.32,233.39 1319.45,234.35 1319.58,235.31 1319.58,235.33 1319.71,236.33 1319.84,237.35 1319.98,238.39 1320.11,239.45 1320.24,240.53 1320.37,241.63 1320.4,241.88 1320.5,242.76 1320.63,243.91 1320.77,245.08 1320.9,246.27 1321.03,247.49 1321.16,248.73 1321.22,249.31 1321.29,249.99 1321.42,251.28 1321.55,252.6 1321.69,253.94 1321.82,255.3 1321.95,256.73 1322.04,257.8 1322.08,258.27 1322.21,259.9 1322.34,261.64 1322.48,263.49 1322.61,265.44 1322.74,267.5 1322.86,269.54 1322.87,269.67 1323,271.96 1323.13,274.36 1323.27,276.88 1323.4,279.52 1323.53,282.28 1323.66,285.16 1323.68,285.7 1323.79,288.17 1323.92,291.3 1324.06,294.57 1324.19,297.96 1324.32,301.49 1324.45,305.15 1324.51,306.74 1324.58,308.95 1324.71,312.89 1324.84,316.97 1324.98,321.19 1325.11,325.56 1325.24,330.08 1325.33,333.46 1325.37,335.52 1325.5,342.81 1325.63,351.75 1325.77,362.14 1325.9,373.78 1326.03,386.48 1326.15,398.65 1326.16,400.02 1326.29,414.22 1326.42,428.87 1326.56,443.78 1326.69,458.73 1326.82,473.54 1326.95,488 1326.97,489.99 1327.08,501.91 1327.21,515.07 1327.34,527.29 1327.48,538.36 1327.61,548.09 1327.74,556.27 1327.79,558.93 1327.87,562.7 1328,567.18 1328.13,569.52 1328.27,569.68 1328.4,568.61 1328.53,566.57 1328.61,564.89 1328.66,563.7 1328.79,560.12 1328.92,555.93 1329.06,551.27 1329.19,546.25 1329.32,540.99 1329.43,536.38 1329.45,535.62 1329.58,530.26 1329.71,524.96 1329.84,518.92 1329.98,511.9 1330.11,504.02 1330.24,495.35 1330.25,494.46 1330.37,486.01 1330.5,476.1 1330.63,465.71 1330.77,454.95 1330.9,443.91 1331.03,432.7 1331.07,428.88 1331.16,421.41 1331.29,410.14 1331.42,399 1331.56,388.09 1331.69,377.49 1331.82,367.33 1331.89,361.68 1331.95,357.68 1332.08,348.67 1332.21,340.37 1332.34,332.9 1332.48,326.36 1332.61,320.83 1332.72,316.9 1332.74,316.03 1332.87,311.29 1333,306.63 1333.13,302.05 1333.27,297.55 1333.4,293.13 1333.53,288.81 1333.54,288.56 1333.66,284.58 1333.79,280.45 1333.92,276.43 1334.06,272.51 1334.19,268.72 1334.32,265.04 1334.36,263.97 1334.45,261.49 1334.58,258.06 1334.71,254.78 1334.85,251.63 1334.98,248.62 1335.11,245.77 1335.18,244.3 1335.24,243.06 1335.37,240.52 1335.5,238.14 1335.63,235.93 1335.77,233.89 1335.9,232.03 1336,230.71 1336.03,230.35 1336.16,228.86 1336.29,227.57 1336.42,226.47 1336.56,225.57 1336.69,224.79 1336.82,224.04 1336.82,224.03 1336.95,223.32 1337.08,222.61 1337.21,221.93 1337.35,221.28 1337.48,220.64 1337.61,220.03 1337.64,219.87 1337.74,219.43 1337.87,218.86 1338,218.3 1338.13,217.76 1338.27,217.24 1338.4,216.74 1338.46,216.5 1338.53,216.25 1338.66,215.78 1338.79,215.33 1338.92,214.89 1339.06,214.46 1339.19,214.05 1339.28,213.75 1339.32,213.65 1339.45,213.26 1339.58,212.88 1339.71,212.52 1339.85,212.16 1339.98,211.81 1340.11,211.48 1340.11,211.47 1340.24,211.14 1340.37,210.82 1340.5,210.51 1340.63,210.2 1340.77,209.89 1340.9,209.59 1340.93,209.53 1341.03,209.3 1341.16,209.01 1341.29,208.72 1341.42,208.44 1341.56,208.15 1341.69,207.87 1341.75,207.74 1341.82,207.59 1341.95,207.3 1342.08,207.02 1342.21,206.74 1342.35,206.45 1342.48,206.16 1342.57,205.96 1342.61,205.87 1342.74,205.57 1342.87,205.27 1343,204.96 1343.13,204.65 1343.27,204.33 1343.39,204.02 1343.4,204 1343.53,203.67 1343.66,203.33 1343.79,203 1343.92,202.67 1344.06,202.33 1344.19,202 1344.21,201.94 1344.32,201.66 1344.45,201.33 1344.58,200.99 1344.71,200.66 1344.85,200.33 1344.98,199.99 1345.03,199.86 1345.11,199.66 1345.24,199.33 1345.37,199 1345.5,198.67 1345.64,198.34 1345.77,198.01 1345.85,197.79 1345.9,197.68 1346.03,197.35 1346.16,197.02 1346.29,196.69 1346.42,196.36 1346.56,196.04 1346.67,195.75 1346.69,195.71 1346.82,195.39 1346.95,195.07 1347.08,194.74 1347.21,194.42 1347.35,194.1 1347.48,193.78 1347.49,193.74 1347.61,193.47 1347.74,193.15 1347.87,192.84 1348.32,191.79 1349.14,189.89 1349.96,188.06 1350.78,186.32 1351.6,184.67 1352.42,183.12 1353.24,181.7 1354.06,180.4 1354.88,179.24 1355.7,178.22 1356.53,177.36 1357.35,176.53 1358.17,175.71 1358.99,174.95 1359.81,174.28 1360.63,173.72 1361.45,173.33 1362.27,173.12 1363.09,173.31 1363.92,174.5 1364.74,176.28 1365.56,178.13 1366.38,179.51 1367.2,179.91 1368.02,178.74 1368.84,176.24 1369.66,172.89 1370.48,169.19 1371.3,165.63 1372.13,162.7 1372.95,160.9 1373.77,160.6 1374.59,161.03 1375.41,161.7 1376.23,162.37 1377.05,162.79 1377.87,162.8 1378.69,162.59 1379.51,162.22 1380.34,161.73 1381.16,161.14 1381.98,160.49 1382.8,159.82 1383.62,159.11 1384.44,158.07 1385.26,156.72 1386.08,155.17 1386.9,153.54 1387.73,151.94 1388.55,150.47 1389.37,149.26 1390.19,148.41 1391.01,148.03 1391.83,148.27 1392.65,149.13 1393.47,150.43 1394.29,151.99 1395.11,153.61 1395.94,155.11 1396.76,156.31 1397.58,157.02 1398.4,157.13 1399.22,157.01 1400.04,156.8 1400.86,156.5 1401.68,156.14 1402.5,155.63 1403.32,154.69 1404.15,153.43 1404.97,151.98 1405.79,150.5 1406.61,148.96 1407.43,147.17 1408.25,145.21 1409.07,143.13 1409.89,141.02 1410.71,138.95 1411.54,136.98 1412.36,135.19 1413.18,133.61 1414,132.07 1414.82,130.52 1415.64,128.99 1416.46,127.47 1417.28,125.99 1418.1,124.55 1418.92,123.16 1419.75,121.82 1420.57,120.56 1421.39,119.38 1422.21,118.29 1423.03,117.29 1423.85,116.41 1424.67,115.65 1425.49,115.02 1426.31,114.48 1427.13,113.96 1427.96,113.48 1428.78,113.01 1429.6,112.57 1430.42,112.15 1431.24,111.75 1432.06,111.37 1432.88,111.01 1433.7,110.66 1434.52,110.33 1435.35,110.01 1436.17,109.71 1436.99,109.41 1437.81,109.13 1438.63,108.85 1439.45,108.59 1440.27,108.33 1441.09,108.07 1441.91,107.82 1442.73,107.57 1443.56,107.32 1444.38,107.07 1445.2,106.83 1446.02,106.58 1446.84,106.32 1447.66,106.06 1448.48,105.8 1449.3,105.53 1450.12,105.25 1450.94,104.96 1451.77,104.65 1452.59,104.35 1453.41,104.03 1454.23,103.72 1455.05,103.4 1455.87,103.08 1456.69,102.75 1457.51,102.43 1458.33,102.1 1459.16,101.77 1459.98,101.44 1460.8,101.11 1461.62,100.78 1462.44,100.45 1463.26,100.12 1464.08,99.79 1464.9,99.46 1465.72,99.14 1466.54,98.82 1467.37,98.5 1468.19,98.18 1469.01,97.87 1469.83,97.57 1470.65,97.26 1471.47,96.96 1472.29,96.67 1473.11,96.38 1473.93,96.1 1474.75,95.83 1475.58,95.56 1476.4,95.3 1477.22,95.05 1478.04,94.81 1478.86,94.57 1479.68,94.35 1480.5,94.13 1481.32,93.92 1482.14,93.72 1482.97,93.54 1483.79,93.36 1484.61,93.2 1485.43,93.04 1486.25,92.88 1487.07,92.73 1487.89,92.58 1488.71,92.43 1489.53,92.28 1490.35,92.14 1491.18,92 1492,91.87 1492.82,91.73 1493.64,91.6 1494.46,91.47 1495.28,91.35 1496.1,91.23 1496.92,91.1 1497.74,90.99 1498.56,90.87 1499.39,90.76 1500.21,90.64 1501.03,90.53 1501.85,90.43 1502.67,90.32 1503.49,90.22 1504.31,90.11 1505.13,90.01 1505.95,89.91 1506.78,89.82 1507.6,89.72 1508.42,89.63 1509.24,89.53 1510.06,89.44 1510.88,89.35 1511.7,89.26 1512.52,89.17 1513.34,89.08 1514.16,88.99 1514.99,88.9 1515.81,88.82 1516.63,88.73 1517.45,88.65 1518.27,88.56 1519.09,88.48 1519.91,88.39 1520.73,88.31 1521.55,88.23 1522.37,88.14 1523.2,88.06 1524.02,87.98 1524.84,87.89 1525.66,87.81 1526.48,87.73 1527.3,87.65 1528.12,87.57 1528.94,87.49 1529.76,87.41 1530.59,87.33 1531.41,87.25 1532.23,87.17 1533.05,87.09 1533.87,87.02 1534.69,86.94 1535.51,86.86 1536.33,86.79 1537.15,86.71 1537.97,86.64 1538.8,86.56 1539.62,86.49 1540.44,86.42 1541.26,86.35 1542.08,86.28 1542.9,86.2 1543.72,86.13 1544.54,86.07 1545.36,86 1546.18,85.93 1547.01,85.86 1547.83,85.8 1548.65,85.73 1549.47,85.67 1550.29,85.6 1551.11,85.54 1551.93,85.48 1552.75,85.42 1553.57,85.36 1554.4,85.3 1555.22,85.24 1556.04,85.18 1556.86,85.13 1557.68,85.07 1558.5,85.02 1559.32,84.96 1560.14,84.91 1560.96,84.86 1561.78,84.81 1562.61,84.76 1563.43,84.71 1564.25,84.66 1565.07,84.61 1565.89,84.57 1566.71,84.53 1567.53,84.48 1568.35,84.44 1569.17,84.4 1569.99,84.36 1570.82,84.32 1571.64,84.28 1572.46,84.25 1573.28,84.21 1574.1,84.18" fill="none" stroke="#bf50b5" stroke-width="3" stroke-linejoin="round" stroke-linecap="round"/>
<rect x="1072" y="40" width="511" height="546" fill="none" stroke="#111" stroke-width="3.5"/>
<path d="M1082.3 586v11M1131.48 586v11M1180.66 586v11M1229.84 586v11M1279.02 586v11M1328.2 586v11M1377.38 586v11M1426.56 586v11M1475.74 586v11M1524.92 586v11M1574.1 586v11" stroke="#111" stroke-width="3" fill="none"/>
<path d="M1106.89 586v6.5M1156.07 586v6.5M1205.25 586v6.5M1254.43 586v6.5M1303.61 586v6.5M1352.79 586v6.5M1401.97 586v6.5M1451.15 586v6.5M1500.33 586v6.5M1549.51 586v6.5" stroke="#111" stroke-width="3" fill="none"/>
<path d="M1082.3 40v9.5M1131.48 40v9.5M1180.66 40v9.5M1229.84 40v9.5M1279.02 40v9.5M1328.2 40v9.5M1377.38 40v9.5M1426.56 40v9.5M1475.74 40v9.5M1524.92 40v9.5M1574.1 40v9.5" stroke="#111" stroke-width="3" fill="none"/>
<path d="M1106.89 40v6.5M1156.07 40v6.5M1205.25 40v6.5M1254.43 40v6.5M1303.61 40v6.5M1352.79 40v6.5M1401.97 40v6.5M1451.15 40v6.5M1500.33 40v6.5M1549.51 40v6.5" stroke="#111" stroke-width="3" fill="none"/>
<path d="M1072 526.5h-10M1072 412.5h-10M1072 298.5h-10M1072 184.5h-10M1072 70.5h-10" stroke="#111" stroke-width="3" fill="none"/>
<path d="M1072 571.87h-5.5M1072 560.82h-5.5M1072 551.79h-5.5M1072 544.16h-5.5M1072 537.55h-5.5M1072 531.72h-5.5M1072 492.18h-5.5M1072 472.11h-5.5M1072 457.87h-5.5M1072 446.82h-5.5M1072 437.79h-5.5M1072 430.16h-5.5M1072 423.55h-5.5M1072 417.72h-5.5M1072 378.18h-5.5M1072 358.11h-5.5M1072 343.87h-5.5M1072 332.82h-5.5M1072 323.79h-5.5M1072 316.16h-5.5M1072 309.55h-5.5M1072 303.72h-5.5M1072 264.18h-5.5M1072 244.11h-5.5M1072 229.87h-5.5M1072 218.82h-5.5M1072 209.79h-5.5M1072 202.16h-5.5M1072 195.55h-5.5M1072 189.72h-5.5M1072 150.18h-5.5M1072 130.11h-5.5M1072 115.87h-5.5M1072 104.82h-5.5M1072 95.79h-5.5M1072 88.16h-5.5M1072 81.55h-5.5M1072 75.72h-5.5" stroke="#111" stroke-width="3" fill="none"/>
<path d="M1583 526.5h-9.5M1583 412.5h-9.5M1583 298.5h-9.5M1583 184.5h-9.5M1583 70.5h-9.5" stroke="#111" stroke-width="3" fill="none"/>
<path d="M1583 571.87h-5.5M1583 560.82h-5.5M1583 551.79h-5.5M1583 544.16h-5.5M1583 537.55h-5.5M1583 531.72h-5.5M1583 492.18h-5.5M1583 472.11h-5.5M1583 457.87h-5.5M1583 446.82h-5.5M1583 437.79h-5.5M1583 430.16h-5.5M1583 423.55h-5.5M1583 417.72h-5.5M1583 378.18h-5.5M1583 358.11h-5.5M1583 343.87h-5.5M1583 332.82h-5.5M1583 323.79h-5.5M1583 316.16h-5.5M1583 309.55h-5.5M1583 303.72h-5.5M1583 264.18h-5.5M1583 244.11h-5.5M1583 229.87h-5.5M1583 218.82h-5.5M1583 209.79h-5.5M1583 202.16h-5.5M1583 195.55h-5.5M1583 189.72h-5.5M1583 150.18h-5.5M1583 130.11h-5.5M1583 115.87h-5.5M1583 104.82h-5.5M1583 95.79h-5.5M1583 88.16h-5.5M1583 81.55h-5.5M1583 75.72h-5.5" stroke="#111" stroke-width="3" fill="none"/>
<text x="989.96" y="538.75" font-family="'Liberation Sans', Arial, sans-serif" font-size="35.5" fill="#111">10</text>
<text x="1029.17" y="519.25" font-family="'Liberation Sans', Arial, sans-serif" font-size="21" fill="#111">-11</text>
<text x="988.17" y="424.75" font-family="'Liberation Sans', Arial, sans-serif" font-size="35.5" fill="#111">10</text>
<text x="1027.39" y="405.25" font-family="'Liberation Sans', Arial, sans-serif" font-size="21" fill="#111">-10</text>
<text x="1000.04" y="310.75" font-family="'Liberation Sans', Arial, sans-serif" font-size="35.5" fill="#111">10</text>
<text x="1039.26" y="291.25" font-family="'Liberation Sans', Arial, sans-serif" font-size="21" fill="#111">-9</text>
<text x="999.93" y="196.75" font-family="'Liberation Sans', Arial, sans-serif" font-size="35.5" fill="#111">10</text>
<text x="1039.15" y="177.25" font-family="'Liberation Sans', Arial, sans-serif" font-size="21" fill="#111">-8</text>
<text x="1000.14" y="82.75" font-family="'Liberation Sans', Arial, sans-serif" font-size="35.5" fill="#111">10</text>
<text x="1039.36" y="63.25" font-family="'Liberation Sans', Arial, sans-serif" font-size="21" fill="#111">-7</text>
<text x="1065.32" y="628.84" font-family="'Liberation Sans', Arial, sans-serif" font-size="36.6" fill="#111">-5</text>
<text x="1114.32" y="629.03" font-family="'Liberation Sans', Arial, sans-serif" font-size="36.6" fill="#111">-4</text>
<text x="1163.68" y="629.03" font-family="'Liberation Sans', Arial, sans-serif" font-size="36.6" fill="#111">-3</text>
<text x="1213.04" y="629.21" font-family="'Liberation Sans', Arial, sans-serif" font-size="36.6" fill="#111">-2</text>
<text x="1262.13" y="629.03" font-family="'Liberation Sans', Arial, sans-serif" font-size="36.6" fill="#111">-1</text>
<text x="1317.35" y="629.03" font-family="'Liberation Sans', Arial, sans-serif" font-size="36.6" fill="#111">0</text>
<text x="1366.07" y="629.03" font-family="'Liberation Sans', Arial, sans-serif" font-size="36.6" fill="#111">1</text>
<text x="1415.8" y="629.21" font-family="'Liberation Sans', Arial, sans-serif" font-size="36.6" fill="#111">2</text>
<text x="1464.98" y="629.03" font-family="'Liberation Sans', Arial, sans-serif" font-size="36.6" fill="#111">3</text>
<text x="1514.35" y="629.03" font-family="'Liberation Sans', Arial, sans-serif" font-size="36.6" fill="#111">4</text>
<text x="1563.34" y="628.84" font-family="'Liberation Sans', Arial, sans-serif" font-size="36.6" fill="#111">5</text>
<text transform="translate(957.4 427.66) rotate(-90)" x="0" y="0" font-family="'Liberation Serif', 'Times New Roman', serif" font-size="51.65" fill="#111" textLength="241.37" lengthAdjust="spacingAndGlyphs">Current (A)</text>
<text x="1227.29" y="678.17" font-family="'Liberation Serif', 'Times New Roman', serif" font-size="51.32" fill="#111" textLength="236.98" lengthAdjust="spacingAndGlyphs">Voltage (V)</text>
<text x="891.96" y="89.99" font-family="'Liberation Serif', 'Times New Roman', serif" font-size="67.03" fill="#111" textLength="78.82" lengthAdjust="spacingAndGlyphs">(b)</text>
<line x1="1094.7" y1="385.1" x2="1167.5" y2="385.1" stroke="#bf50b5" stroke-width="4"/>
<text x="1174.24" y="395.9" font-family="'Liberation Sans', Arial, sans-serif" font-size="31.8" font-weight="bold" fill="#bf50b5" textLength="104.66" lengthAdjust="spacingAndGlyphs">380 nm</text>
<line x1="1094.7" y1="423.6" x2="1167.5" y2="423.6" stroke="#2a9a98" stroke-width="4"/>
<text x="1174.24" y="434.4" font-family="'Liberation Sans', Arial, sans-serif" font-size="31.8" font-weight="bold" fill="#1a8a3c" textLength="104.66" lengthAdjust="spacingAndGlyphs">360 nm</text>
<line x1="1094.7" y1="463.1" x2="1167.5" y2="463.1" stroke="#3d4fb0" stroke-width="4"/>
<text x="1174.09" y="473.9" font-family="'Liberation Sans', Arial, sans-serif" font-size="31.8" font-weight="bold" fill="#3d4fb0" textLength="104.66" lengthAdjust="spacingAndGlyphs">808 nm</text>
<line x1="1094.7" y1="502.1" x2="1167.5" y2="502.1" stroke="#ee2b2b" stroke-width="4"/>
<text x="1173.94" y="512.9" font-family="'Liberation Sans', Arial, sans-serif" font-size="31.8" font-weight="bold" fill="#ee2b2b" textLength="104.66" lengthAdjust="spacingAndGlyphs">960 nm</text>
<line x1="1094.7" y1="540.6" x2="1167.5" y2="540.6" stroke="#111111" stroke-width="4"/>
<text x="1173.03" y="551.4" font-family="'Liberation Sans', Arial, sans-serif" font-size="31.8" font-weight="bold" fill="#111111" textLength="67.53" lengthAdjust="spacingAndGlyphs">Dark</text>
<polyline points="1818.1,101.22 1818.94,101.24 1819.79,101.25 1820.63,101.27 1821.48,101.29 1822.32,101.31 1823.17,101.33 1824.01,101.35 1824.86,101.37 1825.7,101.39 1826.55,101.41 1827.39,101.44 1828.24,101.46 1829.08,101.48 1829.93,101.51 1830.77,101.53 1831.62,101.56 1832.46,101.59 1833.31,101.61 1834.15,101.64 1834.99,101.67 1835.84,101.7 1836.68,101.73 1837.53,101.76 1838.37,101.79 1839.22,101.82 1840.06,101.85 1840.91,101.89 1841.75,101.92 1842.6,101.95 1843.44,101.99 1844.29,102.02 1845.13,102.06 1845.98,102.09 1846.82,102.13 1847.67,102.17 1848.51,102.21 1849.36,102.24 1850.2,102.28 1851.04,102.32 1851.89,102.36 1852.73,102.4 1853.58,102.44 1854.42,102.48 1855.27,102.53 1856.11,102.57 1856.96,102.61 1857.8,102.65 1858.65,102.7 1859.49,102.74 1860.34,102.79 1861.18,102.83 1862.03,102.88 1862.87,102.92 1863.72,102.97 1864.56,103.01 1865.41,103.06 1866.25,103.11 1867.09,103.16 1867.94,103.2 1868.78,103.25 1869.63,103.3 1870.47,103.35 1871.32,103.4 1872.16,103.45 1873.01,103.5 1873.85,103.55 1874.7,103.6 1875.54,103.66 1876.39,103.71 1877.23,103.76 1878.08,103.81 1878.92,103.87 1879.77,103.92 1880.61,103.97 1881.46,104.03 1882.3,104.08 1883.15,104.14 1883.99,104.19 1884.83,104.25 1885.68,104.3 1886.52,104.36 1887.37,104.41 1888.21,104.47 1889.06,104.53 1889.9,104.58 1890.75,104.64 1891.59,104.7 1892.44,104.75 1893.28,104.81 1894.13,104.87 1894.97,104.93 1895.82,104.99 1896.66,105.04 1897.51,105.1 1898.35,105.16 1899.2,105.22 1900.04,105.28 1900.88,105.34 1901.73,105.4 1902.57,105.46 1903.42,105.52 1904.26,105.58 1905.11,105.64 1905.95,105.7 1906.8,105.76 1907.64,105.82 1908.49,105.88 1909.33,105.95 1910.18,106.01 1911.02,106.07 1911.87,106.13 1912.71,106.19 1913.56,106.25 1914.4,106.32 1915.25,106.38 1916.09,106.44 1916.93,106.5 1917.78,106.57 1918.62,106.63 1919.47,106.7 1920.31,106.76 1921.16,106.83 1922,106.89 1922.85,106.96 1923.69,107.03 1924.54,107.09 1925.38,107.16 1926.23,107.23 1927.07,107.3 1927.92,107.37 1928.76,107.44 1929.61,107.51 1930.45,107.58 1931.3,107.65 1932.14,107.73 1932.98,107.8 1933.83,107.87 1934.67,107.95 1935.52,108.02 1936.36,108.1 1937.21,108.18 1938.05,108.25 1938.9,108.33 1939.74,108.41 1940.59,108.49 1941.43,108.57 1942.28,108.65 1943.12,108.74 1943.97,108.82 1944.81,108.9 1945.66,108.99 1946.5,109.07 1947.35,109.16 1948.19,109.25 1949.03,109.34 1949.88,109.43 1950.72,109.52 1951.57,109.61 1952.41,109.7 1953.26,109.79 1954.1,109.89 1954.95,109.98 1955.79,110.08 1956.64,110.18 1957.48,110.27 1958.33,110.37 1959.17,110.48 1960.02,110.58 1960.86,110.68 1961.71,110.78 1962.55,110.89 1963.4,111 1964.24,111.1 1965.08,111.21 1965.93,111.32 1966.77,111.43 1967.62,111.55 1968.46,111.66 1969.31,111.77 1970.15,111.89 1971,112.01 1971.84,112.13 1972.69,112.25 1973.53,112.37 1974.38,112.49 1975.22,112.61 1976.07,112.74 1976.91,112.87 1977.76,113 1978.6,113.13 1979.45,113.26 1980.29,113.39 1981.14,113.52 1981.98,113.66 1982.82,113.8 1983.67,113.93 1984.51,114.07 1985.36,114.22 1986.2,114.36 1987.05,114.5 1987.89,114.65 1988.74,114.8 1989.58,114.95 1990.43,115.1 1991.27,115.25 1992.12,115.41 1992.96,115.57 1993.81,115.74 1994.65,115.91 1995.5,116.09 1996.34,116.27 1997.19,116.45 1998.03,116.64 1998.87,116.84 1999.72,117.04 2000.56,117.24 2001.41,117.46 2002.25,117.67 2003.1,117.89 2003.94,118.12 2004.79,118.35 2005.63,118.59 2006.48,118.84 2007.32,119.09 2008.17,119.34 2009.01,119.61 2009.86,119.87 2010.7,120.15 2011.55,120.43 2012.39,120.71 2013.24,121.01 2014.08,121.31 2014.92,121.61 2015.77,121.93 2016.61,122.25 2017.46,122.57 2018.3,122.9 2019.15,123.24 2019.99,123.59 2020.84,123.95 2021.68,124.31 2022.53,124.67 2023.37,125.05 2024.22,125.43 2025.06,125.82 2025.91,126.22 2026.75,126.63 2027.6,127.04 2028.44,127.46 2029.29,127.89 2030.13,128.33 2030.97,128.79 2031.82,129.27 2032.66,129.77 2033.51,130.3 2034.35,130.85 2035.2,131.43 2036.04,132.04 2036.89,132.68 2037.73,133.35 2038.58,134.06 2039.42,134.8 2040.27,135.58 2041.11,136.4 2041.96,137.26 2042.8,138.16 2043.65,139.1 2044.49,140.09 2045.34,141.13 2046.18,142.21 2047.02,143.34 2047.87,144.53 2048.71,145.77 2049.56,147.12 2050.4,148.7 2050.86,149.65 2051,149.94 2051.13,150.24 2051.25,150.5 2051.27,150.54 2051.4,150.85 2051.54,151.16 2051.67,151.48 2051.81,151.81 2051.94,152.14 2052.08,152.48 2052.09,152.52 2052.21,152.82 2052.35,153.17 2052.48,153.53 2052.62,153.89 2052.76,154.25 2052.89,154.62 2052.94,154.76 2053.03,155 2053.16,155.38 2053.3,155.77 2053.43,156.17 2053.57,156.57 2053.7,156.97 2053.78,157.21 2053.84,157.38 2053.97,157.8 2054.11,158.22 2054.24,158.64 2054.38,159.08 2054.52,159.52 2054.63,159.88 2054.65,159.96 2054.79,160.41 2054.92,160.86 2055.06,161.32 2055.19,161.79 2055.33,162.26 2055.46,162.74 2055.47,162.77 2055.6,163.22 2055.73,163.71 2055.87,164.2 2056,164.7 2056.14,165.2 2056.28,165.71 2056.32,165.87 2056.41,166.23 2056.55,166.75 2056.68,167.27 2056.82,167.81 2056.95,168.34 2057.09,168.88 2057.16,169.18 2057.22,169.43 2057.36,169.99 2057.49,170.54 2057.63,171.11 2057.76,171.68 2057.9,172.25 2058.01,172.71 2058.04,172.83 2058.17,173.42 2058.31,174.01 2058.44,174.61 2058.58,175.21 2058.71,175.81 2058.85,176.43 2058.85,176.44 2058.98,177.05 2059.12,177.68 2059.25,178.32 2059.39,178.97 2059.52,179.63 2059.66,180.3 2059.7,180.48 2059.8,180.99 2059.93,181.68 2060.07,182.39 2060.2,183.11 2060.34,183.84 2060.47,184.59 2060.54,184.97 2060.61,185.35 2060.74,186.13 2060.88,186.92 2061.01,187.73 2061.15,188.55 2061.28,189.39 2061.39,190.03 2061.42,190.25 2061.56,191.12 2061.69,192.02 2061.83,192.93 2061.96,193.86 2062.1,194.82 2062.23,195.77 2062.23,195.79 2062.37,196.78 2062.5,197.8 2062.64,198.83 2062.77,199.89 2062.91,200.97 2063.04,202.08 2063.07,202.33 2063.18,203.21 2063.32,204.36 2063.45,205.54 2063.59,206.74 2063.72,207.97 2063.86,209.23 2063.92,209.82 2063.99,210.51 2064.13,211.82 2064.26,213.16 2064.4,214.52 2064.53,215.92 2064.67,217.34 2064.76,218.36 2064.8,218.8 2064.94,220.28 2065.08,221.8 2065.21,223.34 2065.35,224.92 2065.48,226.53 2065.61,228.08 2065.62,228.18 2065.75,229.85 2065.89,231.56 2066.02,233.31 2066.16,235.09 2066.29,236.9 2066.43,238.76 2066.45,239.1 2066.56,240.65 2066.7,242.73 2066.84,245.09 2066.97,247.72 2067.11,250.59 2067.24,253.69 2067.3,255.07 2067.38,257.02 2067.51,260.55 2067.65,264.27 2067.78,268.17 2067.92,272.23 2068.05,276.44 2068.14,279.3 2068.19,280.78 2068.32,285.25 2068.46,289.82 2068.6,294.48 2068.73,299.21 2068.87,304.01 2068.99,308.38 2069,308.86 2069.14,313.74 2069.27,318.64 2069.41,323.54 2069.54,328.44 2069.68,333.66 2069.81,340.03 2069.83,341 2069.95,347.26 2070.08,355.02 2070.22,362.97 2070.36,370.79 2070.49,378.14 2070.63,384.69 2070.68,386.9 2070.76,390.1 2070.9,394.03 2071.03,396.16 2071.17,396.02 2071.3,392.83 2071.44,386.99 2071.52,382.27 2071.57,379.03 2071.71,369.5 2071.84,358.95 2071.98,347.92 2072.12,336.96 2072.25,326.62 2072.37,318.64 2072.39,317.44 2072.52,309.97 2072.66,304.64 2072.79,300.05 2072.93,295.58 2073.06,291.24 2073.2,287.02 2073.21,286.61 2073.33,282.92 2073.47,278.94 2073.6,275.08 2073.74,271.34 2073.88,267.71 2074.01,264.19 2074.06,263.03 2074.15,260.79 2074.28,257.51 2074.42,254.33 2074.55,251.26 2074.69,248.3 2074.82,245.44 2074.9,243.84 2074.96,242.7 2075.09,240.05 2075.23,237.51 2075.36,235.07 2075.5,232.73 2075.64,230.49 2075.75,228.73 2075.77,228.34 2075.91,226.3 2076.04,224.34 2076.18,222.48 2076.31,220.72 2076.45,219.04 2076.58,217.45 2076.59,217.37 2076.72,215.95 2076.85,214.48 2076.99,213.03 2077.12,211.6 2077.26,210.19 2077.4,208.8 2077.44,208.39 2077.53,207.43 2077.67,206.08 2077.8,204.75 2077.94,203.44 2078.07,202.15 2078.21,200.88 2078.28,200.21 2078.34,199.63 2078.48,198.4 2078.61,197.19 2078.75,195.99 2078.88,194.82 2079.02,193.67 2079.13,192.79 2079.16,192.53 2079.29,191.42 2079.43,190.32 2079.56,189.25 2079.7,188.19 2079.83,187.15 2079.97,186.13 2079.97,186.12 2080.1,185.13 2080.24,184.15 2080.37,183.19 2080.51,182.25 2080.64,181.32 2080.78,180.42 2080.81,180.19 2080.92,179.53 2081.05,178.66 2081.19,177.81 2081.32,176.98 2081.46,176.16 2081.59,175.37 2081.66,174.98 2081.73,174.59 2081.86,173.83 2082,173.09 2082.13,172.37 2082.27,171.66 2082.4,170.98 2082.5,170.49 2082.54,170.31 2082.68,169.66 2082.81,169.03 2082.95,168.41 2083.08,167.81 2083.22,167.24 2083.35,166.69 2083.35,166.67 2083.49,166.13 2083.62,165.6 2083.76,165.09 2083.89,164.6 2084.03,164.13 2084.16,163.67 2084.19,163.57 2084.3,163.23 2084.44,162.81 2084.57,162.4 2084.71,162.01 2084.84,161.64 2084.98,161.27 2085.04,161.1 2085.11,160.9 2085.25,160.54 2085.38,160.18 2085.52,159.82 2085.65,159.46 2085.79,159.11 2085.88,158.87 2085.92,158.76 2086.06,158.42 2086.2,158.07 2086.33,157.73 2086.47,157.4 2086.6,157.06 2086.73,156.75 2086.74,156.73 2086.87,156.4 2087.01,156.08 2087.14,155.75 2087.28,155.43 2087.41,155.12 2087.55,154.8 2087.57,154.75 2087.68,154.49 2087.82,154.18 2087.96,153.87 2088.09,153.57 2088.23,153.27 2088.36,152.97 2088.42,152.85 2088.5,152.67 2088.63,152.38 2088.77,152.09 2088.9,151.8 2089.04,151.52 2089.17,151.23 2089.26,151.05 2089.31,150.95 2089.44,150.68 2089.58,150.4 2089.72,150.13 2089.85,149.86 2089.99,149.59 2090.11,149.35 2090.12,149.32 2090.26,149.06 2090.39,148.8 2090.53,148.54 2090.66,148.29 2090.8,148.03 2090.93,147.78 2090.95,147.75 2091.07,147.53 2091.2,147.29 2091.34,147.04 2091.8,146.24 2092.64,144.81 2093.49,143.47 2094.33,142.2 2095.18,141.01 2096.02,139.89 2096.86,138.84 2097.71,137.84 2098.55,136.91 2099.4,136.03 2100.24,135.2 2101.09,134.42 2101.93,133.68 2102.78,132.98 2103.62,132.32 2104.47,131.68 2105.31,131.05 2106.16,130.44 2107,129.85 2107.85,129.26 2108.69,128.69 2109.54,128.13 2110.38,127.59 2111.23,127.05 2112.07,126.53 2112.91,126.02 2113.76,125.52 2114.6,125.03 2115.45,124.56 2116.29,124.09 2117.14,123.64 2117.98,123.19 2118.83,122.76 2119.67,122.34 2120.52,121.93 2121.36,121.53 2122.21,121.13 2123.05,120.75 2123.9,120.38 2124.74,120.02 2125.59,119.66 2126.43,119.32 2127.28,118.98 2128.12,118.66 2128.96,118.34 2129.81,118.03 2130.65,117.73 2131.5,117.43 2132.34,117.14 2133.19,116.87 2134.03,116.59 2134.88,116.33 2135.72,116.07 2136.57,115.82 2137.41,115.58 2138.26,115.35 2139.1,115.12 2139.95,114.89 2140.79,114.67 2141.64,114.46 2142.48,114.26 2143.33,114.06 2144.17,113.86 2145.01,113.66 2145.86,113.47 2146.7,113.28 2147.55,113.09 2148.39,112.91 2149.24,112.73 2150.08,112.55 2150.93,112.37 2151.77,112.2 2152.62,112.02 2153.46,111.85 2154.31,111.69 2155.15,111.52 2156,111.36 2156.84,111.2 2157.69,111.04 2158.53,110.88 2159.38,110.73 2160.22,110.58 2161.06,110.43 2161.91,110.28 2162.75,110.13 2163.6,109.99 2164.44,109.85 2165.29,109.71 2166.13,109.57 2166.98,109.43 2167.82,109.3 2168.67,109.17 2169.51,109.04 2170.36,108.91 2171.2,108.78 2172.05,108.66 2172.89,108.54 2173.74,108.41 2174.58,108.29 2175.43,108.18 2176.27,108.06 2177.12,107.95 2177.96,107.83 2178.8,107.72 2179.65,107.61 2180.49,107.5 2181.34,107.4 2182.18,107.29 2183.03,107.19 2183.87,107.08 2184.72,106.98 2185.56,106.88 2186.41,106.78 2187.25,106.69 2188.1,106.59 2188.94,106.5 2189.79,106.4 2190.63,106.31 2191.48,106.22 2192.32,106.13 2193.17,106.04 2194.01,105.95 2194.85,105.86 2195.7,105.78 2196.54,105.69 2197.39,105.61 2198.23,105.53 2199.08,105.44 2199.92,105.36 2200.77,105.28 2201.61,105.2 2202.46,105.12 2203.3,105.04 2204.15,104.97 2204.99,104.89 2205.84,104.82 2206.68,104.74 2207.53,104.67 2208.37,104.6 2209.22,104.53 2210.06,104.45 2210.9,104.38 2211.75,104.32 2212.59,104.25 2213.44,104.18 2214.28,104.11 2215.13,104.05 2215.97,103.98 2216.82,103.92 2217.66,103.85 2218.51,103.79 2219.35,103.73 2220.2,103.67 2221.04,103.61 2221.89,103.54 2222.73,103.48 2223.58,103.43 2224.42,103.37 2225.27,103.31 2226.11,103.25 2226.95,103.19 2227.8,103.14 2228.64,103.08 2229.49,103.03 2230.33,102.97 2231.18,102.92 2232.02,102.86 2232.87,102.81 2233.71,102.76 2234.56,102.7 2235.4,102.65 2236.25,102.6 2237.09,102.55 2237.94,102.5 2238.78,102.45 2239.63,102.4 2240.47,102.35 2241.32,102.3 2242.16,102.25 2243,102.2 2243.85,102.15 2244.69,102.1 2245.54,102.05 2246.38,102 2247.23,101.95 2248.07,101.91 2248.92,101.86 2249.76,101.81 2250.61,101.76 2251.45,101.72 2252.3,101.67 2253.14,101.62 2253.99,101.57 2254.83,101.53 2255.68,101.48 2256.52,101.43 2257.37,101.39 2258.21,101.34 2259.05,101.29 2259.9,101.25 2260.74,101.2 2261.59,101.15 2262.43,101.11 2263.28,101.06 2264.12,101.01 2264.97,100.97 2265.81,100.92 2266.66,100.88 2267.5,100.83 2268.35,100.78 2269.19,100.74 2270.04,100.69 2270.88,100.65 2271.73,100.6 2272.57,100.56 2273.42,100.52 2274.26,100.47 2275.11,100.43 2275.95,100.38 2276.79,100.34 2277.64,100.3 2278.48,100.25 2279.33,100.21 2280.17,100.17 2281.02,100.12 2281.86,100.08 2282.71,100.04 2283.55,100 2284.4,99.95 2285.24,99.91 2286.09,99.87 2286.93,99.83 2287.78,99.79 2288.62,99.75 2289.47,99.71 2290.31,99.67 2291.16,99.63 2292,99.59 2292.84,99.55 2293.69,99.51 2294.53,99.47 2295.38,99.43 2296.22,99.39 2297.07,99.35 2297.91,99.31 2298.76,99.27 2299.6,99.23 2300.45,99.2 2301.29,99.16 2302.14,99.12 2302.98,99.08 2303.83,99.05 2304.67,99.01 2305.52,98.97 2306.36,98.94 2307.21,98.9 2308.05,98.87 2308.89,98.83 2309.74,98.8 2310.58,98.76 2311.43,98.73 2312.27,98.69 2313.12,98.66 2313.96,98.62 2314.81,98.59 2315.65,98.56 2316.5,98.52 2317.34,98.49 2318.19,98.46 2319.03,98.43 2319.88,98.4 2320.72,98.36 2321.57,98.33 2322.41,98.3 2323.26,98.27 2324.1,98.24" fill="none" stroke="#ee2b2b" stroke-width="2.6" stroke-linejoin="round" stroke-linecap="round"/>
<polyline points="1818.1,102.22 1818.94,102.23 1819.79,102.25 1820.63,102.27 1821.48,102.28 1822.32,102.3 1823.17,102.32 1824.01,102.34 1824.86,102.36 1825.7,102.38 1826.55,102.41 1827.39,102.43 1828.24,102.45 1829.08,102.48 1829.93,102.5 1830.77,102.53 1831.62,102.55 1832.46,102.58 1833.31,102.61 1834.15,102.63 1834.99,102.66 1835.84,102.69 1836.68,102.72 1837.53,102.75 1838.37,102.78 1839.22,102.82 1840.06,102.85 1840.91,102.88 1841.75,102.91 1842.6,102.95 1843.44,102.98 1844.29,103.02 1845.13,103.05 1845.98,103.09 1846.82,103.12 1847.67,103.16 1848.51,103.2 1849.36,103.24 1850.2,103.28 1851.04,103.32 1851.89,103.36 1852.73,103.4 1853.58,103.44 1854.42,103.48 1855.27,103.52 1856.11,103.56 1856.96,103.6 1857.8,103.65 1858.65,103.69 1859.49,103.73 1860.34,103.78 1861.18,103.82 1862.03,103.87 1862.87,103.92 1863.72,103.96 1864.56,104.01 1865.41,104.06 1866.25,104.1 1867.09,104.15 1867.94,104.2 1868.78,104.25 1869.63,104.3 1870.47,104.35 1871.32,104.4 1872.16,104.45 1873.01,104.5 1873.85,104.55 1874.7,104.6 1875.54,104.65 1876.39,104.7 1877.23,104.75 1878.08,104.81 1878.92,104.86 1879.77,104.91 1880.61,104.97 1881.46,105.02 1882.3,105.08 1883.15,105.13 1883.99,105.18 1884.83,105.24 1885.68,105.3 1886.52,105.35 1887.37,105.41 1888.21,105.46 1889.06,105.52 1889.9,105.58 1890.75,105.63 1891.59,105.69 1892.44,105.75 1893.28,105.81 1894.13,105.86 1894.97,105.92 1895.82,105.98 1896.66,106.04 1897.51,106.1 1898.35,106.16 1899.2,106.22 1900.04,106.28 1900.88,106.33 1901.73,106.39 1902.57,106.45 1903.42,106.51 1904.26,106.57 1905.11,106.64 1905.95,106.7 1906.8,106.76 1907.64,106.82 1908.49,106.88 1909.33,106.94 1910.18,107 1911.02,107.06 1911.87,107.12 1912.71,107.19 1913.56,107.25 1914.4,107.31 1915.25,107.37 1916.09,107.43 1916.93,107.5 1917.78,107.56 1918.62,107.63 1919.47,107.69 1920.31,107.75 1921.16,107.82 1922,107.89 1922.85,107.95 1923.69,108.02 1924.54,108.09 1925.38,108.15 1926.23,108.22 1927.07,108.29 1927.92,108.36 1928.76,108.43 1929.61,108.5 1930.45,108.57 1931.3,108.65 1932.14,108.72 1932.98,108.79 1933.83,108.87 1934.67,108.94 1935.52,109.02 1936.36,109.09 1937.21,109.17 1938.05,109.25 1938.9,109.33 1939.74,109.4 1940.59,109.48 1941.43,109.57 1942.28,109.65 1943.12,109.73 1943.97,109.81 1944.81,109.9 1945.66,109.98 1946.5,110.07 1947.35,110.15 1948.19,110.24 1949.03,110.33 1949.88,110.42 1950.72,110.51 1951.57,110.6 1952.41,110.69 1953.26,110.79 1954.1,110.88 1954.95,110.98 1955.79,111.07 1956.64,111.17 1957.48,111.27 1958.33,111.37 1959.17,111.47 1960.02,111.57 1960.86,111.67 1961.71,111.78 1962.55,111.88 1963.4,111.99 1964.24,112.1 1965.08,112.21 1965.93,112.32 1966.77,112.43 1967.62,112.54 1968.46,112.65 1969.31,112.77 1970.15,112.88 1971,113 1971.84,113.12 1972.69,113.24 1973.53,113.36 1974.38,113.48 1975.22,113.61 1976.07,113.73 1976.91,113.86 1977.76,113.99 1978.6,114.12 1979.45,114.25 1980.29,114.38 1981.14,114.52 1981.98,114.65 1982.82,114.79 1983.67,114.93 1984.51,115.07 1985.36,115.21 1986.2,115.35 1987.05,115.5 1987.89,115.64 1988.74,115.79 1989.58,115.94 1990.43,116.09 1991.27,116.25 1992.12,116.4 1992.96,116.57 1993.81,116.73 1994.65,116.9 1995.5,117.08 1996.34,117.26 1997.19,117.45 1998.03,117.64 1998.87,117.83 1999.72,118.03 2000.56,118.24 2001.41,118.45 2002.25,118.67 2003.1,118.89 2003.94,119.12 2004.79,119.35 2005.63,119.59 2006.48,119.83 2007.32,120.08 2008.17,120.34 2009.01,120.6 2009.86,120.87 2010.7,121.14 2011.55,121.42 2012.39,121.71 2013.24,122 2014.08,122.3 2014.92,122.61 2015.77,122.92 2016.61,123.24 2017.46,123.57 2018.3,123.9 2019.15,124.24 2019.99,124.59 2020.84,124.94 2021.68,125.3 2022.53,125.67 2023.37,126.04 2024.22,126.43 2025.06,126.82 2025.91,127.22 2026.75,127.62 2027.6,128.04 2028.44,128.46 2029.29,128.89 2030.13,129.33 2030.97,129.79 2031.82,130.27 2032.66,130.77 2033.51,131.29 2034.35,131.85 2035.2,132.43 2036.04,133.04 2036.89,133.68 2037.73,134.35 2038.58,135.05 2039.42,135.8 2040.27,136.57 2041.11,137.39 2041.96,138.25 2042.8,139.15 2043.65,140.09 2044.49,141.08 2045.34,142.12 2046.18,143.2 2047.02,144.34 2047.87,145.52 2048.71,146.76 2049.56,148.12 2050.4,149.7 2050.86,150.64 2051,150.93 2051.13,151.23 2051.25,151.49 2051.27,151.53 2051.4,151.84 2051.54,152.16 2051.67,152.48 2051.81,152.81 2051.94,153.14 2052.08,153.47 2052.09,153.51 2052.21,153.82 2052.35,154.17 2052.48,154.52 2052.62,154.88 2052.76,155.25 2052.89,155.62 2052.94,155.75 2053.03,156 2053.16,156.38 2053.3,156.77 2053.43,157.16 2053.57,157.56 2053.7,157.96 2053.78,158.2 2053.84,158.37 2053.97,158.79 2054.11,159.21 2054.24,159.64 2054.38,160.07 2054.52,160.51 2054.63,160.88 2054.65,160.95 2054.79,161.4 2054.92,161.86 2055.06,162.32 2055.19,162.78 2055.33,163.25 2055.46,163.73 2055.47,163.76 2055.6,164.21 2055.73,164.7 2055.87,165.19 2056,165.69 2056.14,166.2 2056.28,166.71 2056.32,166.86 2056.41,167.22 2056.55,167.74 2056.68,168.27 2056.82,168.8 2056.95,169.34 2057.09,169.88 2057.16,170.18 2057.22,170.43 2057.36,170.98 2057.49,171.54 2057.63,172.1 2057.76,172.67 2057.9,173.25 2058.01,173.7 2058.04,173.83 2058.17,174.41 2058.31,175 2058.44,175.6 2058.58,176.2 2058.71,176.81 2058.85,177.42 2058.85,177.44 2058.98,178.04 2059.12,178.68 2059.25,179.32 2059.39,179.97 2059.52,180.63 2059.66,181.3 2059.7,181.48 2059.8,181.98 2059.93,182.68 2060.07,183.38 2060.2,184.1 2060.34,184.84 2060.47,185.58 2060.54,185.97 2060.61,186.34 2060.74,187.12 2060.88,187.91 2061.01,188.72 2061.15,189.54 2061.28,190.38 2061.39,191.02 2061.42,191.24 2061.56,192.12 2061.69,193.01 2061.83,193.93 2061.96,194.86 2062.1,195.81 2062.23,196.77 2062.23,196.78 2062.37,197.78 2062.5,198.79 2062.64,199.83 2062.77,200.89 2062.91,201.97 2063.04,203.07 2063.07,203.32 2063.18,204.2 2063.32,205.36 2063.45,206.53 2063.59,207.74 2063.72,208.97 2063.86,210.22 2063.92,210.81 2063.99,211.5 2064.13,212.81 2064.26,214.15 2064.4,215.52 2064.53,216.91 2064.67,218.34 2064.76,219.36 2064.8,219.79 2064.94,221.28 2065.08,222.79 2065.21,224.34 2065.35,225.92 2065.48,227.53 2065.61,229.08 2065.62,229.17 2065.75,230.85 2065.89,232.56 2066.02,234.3 2066.16,236.08 2066.29,237.9 2066.43,239.75 2066.45,240.09 2066.56,241.64 2066.7,243.75 2066.84,246.16 2066.97,248.86 2067.11,251.83 2067.24,255.05 2067.3,256.48 2067.38,258.5 2067.51,262.17 2067.65,266.02 2067.78,270.05 2067.92,274.23 2068.05,278.55 2068.14,281.48 2068.19,282.99 2068.32,287.52 2068.46,292.13 2068.6,296.8 2068.73,301.51 2068.87,306.24 2068.99,310.51 2069,310.98 2069.14,315.69 2069.27,320.37 2069.41,325 2069.54,329.54 2069.68,334.28 2069.81,339.84 2069.83,340.68 2069.95,346.01 2070.08,352.54 2070.22,359.16 2070.36,365.61 2070.49,371.64 2070.63,376.98 2070.68,378.78 2070.76,381.37 2070.9,384.56 2071.03,386.27 2071.17,386.14 2071.3,383.44 2071.44,378.46 2071.52,374.44 2071.57,371.68 2071.71,363.53 2071.84,354.49 2071.98,345 2072.12,335.51 2072.25,326.5 2072.37,319.46 2072.39,318.4 2072.52,311.67 2072.66,306.69 2072.79,302.31 2072.93,298.01 2073.06,293.82 2073.2,289.72 2073.21,289.32 2073.33,285.72 2073.47,281.82 2073.6,278.01 2073.74,274.31 2073.88,270.7 2074.01,267.19 2074.06,266.02 2074.15,263.77 2074.28,260.46 2074.42,257.25 2074.55,254.13 2074.69,251.12 2074.82,248.2 2074.9,246.56 2074.96,245.38 2075.09,242.67 2075.23,240.05 2075.36,237.53 2075.5,235.12 2075.64,232.8 2075.75,230.99 2075.77,230.59 2075.91,228.48 2076.04,226.47 2076.18,224.56 2076.31,222.75 2076.45,221.05 2076.58,219.44 2076.59,219.36 2076.72,217.94 2076.85,216.47 2076.99,215.02 2077.12,213.59 2077.26,212.18 2077.4,210.79 2077.44,210.38 2077.53,209.42 2077.67,208.07 2077.8,206.74 2077.94,205.43 2078.07,204.14 2078.21,202.87 2078.28,202.19 2078.34,201.62 2078.48,200.39 2078.61,199.17 2078.75,197.98 2078.88,196.81 2079.02,195.66 2079.13,194.77 2079.16,194.52 2079.29,193.41 2079.43,192.31 2079.56,191.24 2079.7,190.18 2079.83,189.14 2079.97,188.12 2079.97,188.11 2080.1,187.12 2080.24,186.14 2080.37,185.18 2080.51,184.23 2080.64,183.31 2080.78,182.4 2080.81,182.18 2080.92,181.52 2081.05,180.65 2081.19,179.8 2081.32,178.96 2081.46,178.15 2081.59,177.36 2081.66,176.97 2081.73,176.58 2081.86,175.82 2082,175.08 2082.13,174.36 2082.27,173.65 2082.4,172.97 2082.5,172.47 2082.54,172.3 2082.68,171.65 2082.81,171.01 2082.95,170.4 2083.08,169.8 2083.22,169.22 2083.35,168.68 2083.35,168.66 2083.49,168.12 2083.62,167.59 2083.76,167.08 2083.89,166.59 2084.03,166.11 2084.16,165.66 2084.19,165.56 2084.3,165.22 2084.44,164.79 2084.57,164.39 2084.71,164 2084.84,163.63 2084.98,163.26 2085.04,163.09 2085.11,162.89 2085.25,162.52 2085.38,162.16 2085.52,161.81 2085.65,161.45 2085.79,161.1 2085.88,160.86 2085.92,160.75 2086.06,160.4 2086.2,160.06 2086.33,159.72 2086.47,159.38 2086.6,159.05 2086.73,158.74 2086.74,158.72 2086.87,158.39 2087.01,158.06 2087.14,157.74 2087.28,157.42 2087.41,157.1 2087.55,156.79 2087.57,156.74 2087.68,156.48 2087.82,156.17 2087.96,155.86 2088.09,155.56 2088.23,155.26 2088.36,154.96 2088.42,154.84 2088.5,154.66 2088.63,154.37 2088.77,154.08 2088.9,153.79 2089.04,153.5 2089.17,153.22 2089.26,153.04 2089.31,152.94 2089.44,152.66 2089.58,152.39 2089.72,152.12 2089.85,151.85 2089.99,151.58 2090.11,151.34 2090.12,151.31 2090.26,151.05 2090.39,150.79 2090.53,150.53 2090.66,150.27 2090.8,150.02 2090.93,149.77 2090.95,149.74 2091.07,149.52 2091.2,149.27 2091.34,149.03 2091.8,148.22 2092.64,146.8 2093.49,145.45 2094.33,144.19 2095.18,143 2096.02,141.88 2096.86,140.82 2097.71,139.83 2098.55,138.9 2099.4,138.02 2100.24,137.19 2101.09,136.41 2101.93,135.67 2102.78,134.97 2103.62,134.3 2104.47,133.67 2105.31,133.04 2106.16,132.43 2107,131.84 2107.85,131.25 2108.69,130.68 2109.54,130.12 2110.38,129.57 2111.23,129.04 2112.07,128.52 2112.91,128.01 2113.76,127.51 2114.6,127.02 2115.45,126.54 2116.29,126.08 2117.14,125.63 2117.98,125.18 2118.83,124.75 2119.67,124.33 2120.52,123.92 2121.36,123.51 2122.21,123.12 2123.05,122.74 2123.9,122.37 2124.74,122.01 2125.59,121.65 2126.43,121.31 2127.28,120.97 2128.12,120.64 2128.96,120.33 2129.81,120.02 2130.65,119.71 2131.5,119.42 2132.34,119.13 2133.19,118.85 2134.03,118.58 2134.88,118.32 2135.72,118.06 2136.57,117.81 2137.41,117.57 2138.26,117.33 2139.1,117.1 2139.95,116.88 2140.79,116.66 2141.64,116.45 2142.48,116.24 2143.33,116.04 2144.17,115.85 2145.01,115.65 2145.86,115.46 2146.7,115.27 2147.55,115.08 2148.39,114.9 2149.24,114.72 2150.08,114.54 2150.93,114.36 2151.77,114.18 2152.62,114.01 2153.46,113.84 2154.31,113.67 2155.15,113.51 2156,113.35 2156.84,113.18 2157.69,113.03 2158.53,112.87 2159.38,112.72 2160.22,112.56 2161.06,112.41 2161.91,112.27 2162.75,112.12 2163.6,111.98 2164.44,111.83 2165.29,111.7 2166.13,111.56 2166.98,111.42 2167.82,111.29 2168.67,111.16 2169.51,111.03 2170.36,110.9 2171.2,110.77 2172.05,110.65 2172.89,110.52 2173.74,110.4 2174.58,110.28 2175.43,110.16 2176.27,110.05 2177.12,109.93 2177.96,109.82 2178.8,109.71 2179.65,109.6 2180.49,109.49 2181.34,109.38 2182.18,109.28 2183.03,109.17 2183.87,109.07 2184.72,108.97 2185.56,108.87 2186.41,108.77 2187.25,108.67 2188.1,108.58 2188.94,108.48 2189.79,108.39 2190.63,108.3 2191.48,108.21 2192.32,108.12 2193.17,108.03 2194.01,107.94 2194.85,107.85 2195.7,107.77 2196.54,107.68 2197.39,107.6 2198.23,107.51 2199.08,107.43 2199.92,107.35 2200.77,107.27 2201.61,107.19 2202.46,107.11 2203.3,107.03 2204.15,106.96 2204.99,106.88 2205.84,106.8 2206.68,106.73 2207.53,106.66 2208.37,106.58 2209.22,106.51 2210.06,106.44 2210.9,106.37 2211.75,106.3 2212.59,106.24 2213.44,106.17 2214.28,106.1 2215.13,106.04 2215.97,105.97 2216.82,105.91 2217.66,105.84 2218.51,105.78 2219.35,105.72 2220.2,105.65 2221.04,105.59 2221.89,105.53 2222.73,105.47 2223.58,105.41 2224.42,105.35 2225.27,105.3 2226.11,105.24 2226.95,105.18 2227.8,105.13 2228.64,105.07 2229.49,105.01 2230.33,104.96 2231.18,104.91 2232.02,104.85 2232.87,104.8 2233.71,104.74 2234.56,104.69 2235.4,104.64 2236.25,104.59 2237.09,104.54 2237.94,104.49 2238.78,104.43 2239.63,104.38 2240.47,104.33 2241.32,104.28 2242.16,104.23 2243,104.18 2243.85,104.14 2244.69,104.09 2245.54,104.04 2246.38,103.99 2247.23,103.94 2248.07,103.89 2248.92,103.85 2249.76,103.8 2250.61,103.75 2251.45,103.7 2252.3,103.66 2253.14,103.61 2253.99,103.56 2254.83,103.52 2255.68,103.47 2256.52,103.42 2257.37,103.38 2258.21,103.33 2259.05,103.28 2259.9,103.23 2260.74,103.19 2261.59,103.14 2262.43,103.09 2263.28,103.05 2264.12,103 2264.97,102.96 2265.81,102.91 2266.66,102.86 2267.5,102.82 2268.35,102.77 2269.19,102.73 2270.04,102.68 2270.88,102.64 2271.73,102.59 2272.57,102.55 2273.42,102.5 2274.26,102.46 2275.11,102.42 2275.95,102.37 2276.79,102.33 2277.64,102.28 2278.48,102.24 2279.33,102.2 2280.17,102.15 2281.02,102.11 2281.86,102.07 2282.71,102.03 2283.55,101.98 2284.4,101.94 2285.24,101.9 2286.09,101.86 2286.93,101.82 2287.78,101.78 2288.62,101.74 2289.47,101.69 2290.31,101.65 2291.16,101.61 2292,101.57 2292.84,101.53 2293.69,101.49 2294.53,101.45 2295.38,101.41 2296.22,101.38 2297.07,101.34 2297.91,101.3 2298.76,101.26 2299.6,101.22 2300.45,101.18 2301.29,101.15 2302.14,101.11 2302.98,101.07 2303.83,101.04 2304.67,101 2305.52,100.96 2306.36,100.93 2307.21,100.89 2308.05,100.85 2308.89,100.82 2309.74,100.78 2310.58,100.75 2311.43,100.71 2312.27,100.68 2313.12,100.65 2313.96,100.61 2314.81,100.58 2315.65,100.55 2316.5,100.51 2317.34,100.48 2318.19,100.45 2319.03,100.41 2319.88,100.38 2320.72,100.35 2321.57,100.32 2322.41,100.29 2323.26,100.26 2324.1,100.23" fill="none" stroke="#3d4fb0" stroke-width="2.6" stroke-linejoin="round" stroke-linecap="round"/>
<polyline points="1818.1,104.2 1818.94,104.22 1819.79,104.24 1820.63,104.25 1821.48,104.27 1822.32,104.29 1823.17,104.31 1824.01,104.33 1824.86,104.35 1825.7,104.37 1826.55,104.39 1827.39,104.42 1828.24,104.44 1829.08,104.46 1829.93,104.49 1830.77,104.51 1831.62,104.54 1832.46,104.57 1833.31,104.59 1834.15,104.62 1834.99,104.65 1835.84,104.68 1836.68,104.71 1837.53,104.74 1838.37,104.77 1839.22,104.8 1840.06,104.84 1840.91,104.87 1841.75,104.9 1842.6,104.94 1843.44,104.97 1844.29,105 1845.13,105.04 1845.98,105.08 1846.82,105.11 1847.67,105.15 1848.51,105.19 1849.36,105.23 1850.2,105.26 1851.04,105.3 1851.89,105.34 1852.73,105.38 1853.58,105.42 1854.42,105.47 1855.27,105.51 1856.11,105.55 1856.96,105.59 1857.8,105.64 1858.65,105.68 1859.49,105.72 1860.34,105.77 1861.18,105.81 1862.03,105.86 1862.87,105.9 1863.72,105.95 1864.56,106 1865.41,106.04 1866.25,106.09 1867.09,106.14 1867.94,106.19 1868.78,106.24 1869.63,106.28 1870.47,106.33 1871.32,106.38 1872.16,106.43 1873.01,106.48 1873.85,106.54 1874.7,106.59 1875.54,106.64 1876.39,106.69 1877.23,106.74 1878.08,106.8 1878.92,106.85 1879.77,106.9 1880.61,106.96 1881.46,107.01 1882.3,107.06 1883.15,107.12 1883.99,107.17 1884.83,107.23 1885.68,107.28 1886.52,107.34 1887.37,107.39 1888.21,107.45 1889.06,107.51 1889.9,107.56 1890.75,107.62 1891.59,107.68 1892.44,107.74 1893.28,107.79 1894.13,107.85 1894.97,107.91 1895.82,107.97 1896.66,108.03 1897.51,108.09 1898.35,108.14 1899.2,108.2 1900.04,108.26 1900.88,108.32 1901.73,108.38 1902.57,108.44 1903.42,108.5 1904.26,108.56 1905.11,108.62 1905.95,108.68 1906.8,108.74 1907.64,108.81 1908.49,108.87 1909.33,108.93 1910.18,108.99 1911.02,109.05 1911.87,109.11 1912.71,109.17 1913.56,109.23 1914.4,109.3 1915.25,109.36 1916.09,109.42 1916.93,109.49 1917.78,109.55 1918.62,109.61 1919.47,109.68 1920.31,109.74 1921.16,109.81 1922,109.87 1922.85,109.94 1923.69,110.01 1924.54,110.07 1925.38,110.14 1926.23,110.21 1927.07,110.28 1927.92,110.35 1928.76,110.42 1929.61,110.49 1930.45,110.56 1931.3,110.63 1932.14,110.71 1932.98,110.78 1933.83,110.85 1934.67,110.93 1935.52,111 1936.36,111.08 1937.21,111.16 1938.05,111.24 1938.9,111.31 1939.74,111.39 1940.59,111.47 1941.43,111.55 1942.28,111.63 1943.12,111.72 1943.97,111.8 1944.81,111.88 1945.66,111.97 1946.5,112.05 1947.35,112.14 1948.19,112.23 1949.03,112.32 1949.88,112.41 1950.72,112.5 1951.57,112.59 1952.41,112.68 1953.26,112.77 1954.1,112.87 1954.95,112.96 1955.79,113.06 1956.64,113.16 1957.48,113.26 1958.33,113.36 1959.17,113.46 1960.02,113.56 1960.86,113.66 1961.71,113.77 1962.55,113.87 1963.4,113.98 1964.24,114.08 1965.08,114.19 1965.93,114.3 1966.77,114.41 1967.62,114.53 1968.46,114.64 1969.31,114.76 1970.15,114.87 1971,114.99 1971.84,115.11 1972.69,115.23 1973.53,115.35 1974.38,115.47 1975.22,115.6 1976.07,115.72 1976.91,115.85 1977.76,115.98 1978.6,116.11 1979.45,116.24 1980.29,116.37 1981.14,116.51 1981.98,116.64 1982.82,116.78 1983.67,116.92 1984.51,117.06 1985.36,117.2 1986.2,117.34 1987.05,117.49 1987.89,117.63 1988.74,117.78 1989.58,117.93 1990.43,118.08 1991.27,118.23 1992.12,118.39 1992.96,118.55 1993.81,118.72 1994.65,118.89 1995.5,119.07 1996.34,119.25 1997.19,119.43 1998.03,119.62 1998.87,119.82 1999.72,120.02 2000.56,120.23 2001.41,120.44 2002.25,120.65 2003.1,120.88 2003.94,121.1 2004.79,121.34 2005.63,121.57 2006.48,121.82 2007.32,122.07 2008.17,122.33 2009.01,122.59 2009.86,122.86 2010.7,123.13 2011.55,123.41 2012.39,123.7 2013.24,123.99 2014.08,124.29 2014.92,124.6 2015.77,124.91 2016.61,125.23 2017.46,125.55 2018.3,125.89 2019.15,126.23 2019.99,126.57 2020.84,126.93 2021.68,127.29 2022.53,127.66 2023.37,128.03 2024.22,128.42 2025.06,128.81 2025.91,129.21 2026.75,129.61 2027.6,130.02 2028.44,130.45 2029.29,130.88 2030.13,131.32 2030.97,131.77 2031.82,132.25 2032.66,132.76 2033.51,133.28 2034.35,133.83 2035.2,134.41 2036.04,135.02 2036.89,135.66 2037.73,136.34 2038.58,137.04 2039.42,137.78 2040.27,138.56 2041.11,139.38 2041.96,140.24 2042.8,141.14 2043.65,142.08 2044.49,143.07 2045.34,144.11 2046.18,145.19 2047.02,146.33 2047.87,147.51 2048.71,148.75 2049.56,150.11 2050.4,151.68 2050.86,152.63 2051,152.92 2051.13,153.22 2051.25,153.48 2051.27,153.52 2051.4,153.83 2051.54,154.15 2051.67,154.47 2051.81,154.79 2051.94,155.13 2052.08,155.46 2052.09,155.5 2052.21,155.81 2052.35,156.15 2052.48,156.51 2052.62,156.87 2052.76,157.24 2052.89,157.61 2052.94,157.74 2053.03,157.98 2053.16,158.37 2053.3,158.75 2053.43,159.15 2053.57,159.55 2053.7,159.95 2053.78,160.19 2053.84,160.36 2053.97,160.78 2054.11,161.2 2054.24,161.63 2054.38,162.06 2054.52,162.5 2054.63,162.86 2054.65,162.94 2054.79,163.39 2054.92,163.84 2055.06,164.31 2055.19,164.77 2055.33,165.24 2055.46,165.72 2055.47,165.75 2055.6,166.2 2055.73,166.69 2055.87,167.18 2056,167.68 2056.14,168.18 2056.28,168.69 2056.32,168.85 2056.41,169.21 2056.55,169.73 2056.68,170.26 2056.82,170.79 2056.95,171.32 2057.09,171.87 2057.16,172.17 2057.22,172.41 2057.36,172.97 2057.49,173.53 2057.63,174.09 2057.76,174.66 2057.9,175.23 2058.01,175.69 2058.04,175.81 2058.17,176.4 2058.31,176.99 2058.44,177.59 2058.58,178.19 2058.71,178.8 2058.85,179.41 2058.85,179.43 2058.98,180.03 2059.12,180.66 2059.25,181.3 2059.39,181.95 2059.52,182.61 2059.66,183.29 2059.7,183.47 2059.8,183.97 2059.93,184.66 2060.07,185.37 2060.2,186.09 2060.34,186.82 2060.47,187.57 2060.54,187.95 2060.61,188.33 2060.74,189.11 2060.88,189.9 2061.01,190.71 2061.15,191.53 2061.28,192.37 2061.39,193.01 2061.42,193.23 2061.56,194.11 2061.69,195 2061.83,195.91 2061.96,196.85 2062.1,197.8 2062.23,198.76 2062.23,198.77 2062.37,199.76 2062.5,200.78 2062.64,201.82 2062.77,202.87 2062.91,203.96 2063.04,205.06 2063.07,205.31 2063.18,206.19 2063.32,207.34 2063.45,208.52 2063.59,209.72 2063.72,210.95 2063.86,212.21 2063.92,212.8 2063.99,213.49 2064.13,214.8 2064.26,216.14 2064.4,217.51 2064.53,218.9 2064.67,220.33 2064.76,221.34 2064.8,221.78 2064.94,223.26 2065.08,224.78 2065.21,226.33 2065.35,227.9 2065.48,229.51 2065.61,231.06 2065.62,231.16 2065.75,232.84 2065.89,234.55 2066.02,236.29 2066.16,238.07 2066.29,239.89 2066.43,241.74 2066.45,242.08 2066.56,243.63 2066.7,245.73 2066.84,248.13 2066.97,250.8 2067.11,253.75 2067.24,256.93 2067.3,258.35 2067.38,260.35 2067.51,263.97 2067.65,267.79 2067.78,271.78 2067.92,275.93 2068.05,280.22 2068.14,283.12 2068.19,284.62 2068.32,289.14 2068.46,293.73 2068.6,298.4 2068.73,303.12 2068.87,307.87 2068.99,312.16 2069,312.64 2069.14,317.4 2069.27,322.14 2069.41,326.85 2069.54,331.5 2069.68,336.38 2069.81,342.16 2069.83,343.03 2069.95,348.62 2070.08,355.49 2070.22,362.47 2070.36,369.3 2070.49,375.68 2070.63,381.35 2070.68,383.25 2070.76,386.01 2070.9,389.4 2071.03,391.23 2071.17,391.09 2071.3,388.27 2071.44,383.08 2071.52,378.89 2071.57,376 2071.71,367.51 2071.84,358.09 2071.98,348.22 2072.12,338.37 2072.25,329.02 2072.37,321.75 2072.39,320.65 2072.52,313.73 2072.66,308.67 2072.79,304.22 2072.93,299.88 2073.06,295.65 2073.2,291.52 2073.21,291.12 2073.33,287.49 2073.47,283.57 2073.6,279.75 2073.74,276.03 2073.88,272.42 2074.01,268.91 2074.06,267.74 2074.15,265.5 2074.28,262.19 2074.42,258.99 2074.55,255.88 2074.69,252.88 2074.82,249.98 2074.9,248.35 2074.96,247.18 2075.09,244.49 2075.23,241.89 2075.36,239.39 2075.5,237 2075.64,234.7 2075.75,232.9 2075.77,232.51 2075.91,230.41 2076.04,228.42 2076.18,226.52 2076.31,224.73 2076.45,223.03 2076.58,221.43 2076.59,221.34 2076.72,219.93 2076.85,218.46 2076.99,217.01 2077.12,215.58 2077.26,214.17 2077.4,212.78 2077.44,212.37 2077.53,211.41 2077.67,210.06 2077.8,208.73 2077.94,207.42 2078.07,206.13 2078.21,204.86 2078.28,204.18 2078.34,203.6 2078.48,202.37 2078.61,201.16 2078.75,199.97 2078.88,198.8 2079.02,197.64 2079.13,196.76 2079.16,196.51 2079.29,195.4 2079.43,194.3 2079.56,193.22 2079.7,192.17 2079.83,191.13 2079.97,190.11 2079.97,190.09 2080.1,189.11 2080.24,188.13 2080.37,187.17 2080.51,186.22 2080.64,185.3 2080.78,184.39 2080.81,184.16 2080.92,183.5 2081.05,182.63 2081.19,181.78 2081.32,180.95 2081.46,180.14 2081.59,179.34 2081.66,178.96 2081.73,178.57 2081.86,177.81 2082,177.07 2082.13,176.35 2082.27,175.64 2082.4,174.95 2082.5,174.46 2082.54,174.29 2082.68,173.64 2082.81,173 2082.95,172.39 2083.08,171.79 2083.22,171.21 2083.35,170.66 2083.35,170.65 2083.49,170.11 2083.62,169.58 2083.76,169.07 2083.89,168.58 2084.03,168.1 2084.16,167.65 2084.19,167.55 2084.3,167.2 2084.44,166.78 2084.57,166.38 2084.71,165.99 2084.84,165.61 2084.98,165.24 2085.04,165.08 2085.11,164.88 2085.25,164.51 2085.38,164.15 2085.52,163.79 2085.65,163.44 2085.79,163.09 2085.88,162.85 2085.92,162.74 2086.06,162.39 2086.2,162.05 2086.33,161.71 2086.47,161.37 2086.6,161.04 2086.73,160.73 2086.74,160.71 2086.87,160.38 2087.01,160.05 2087.14,159.73 2087.28,159.41 2087.41,159.09 2087.55,158.78 2087.57,158.72 2087.68,158.46 2087.82,158.16 2087.96,157.85 2088.09,157.55 2088.23,157.24 2088.36,156.95 2088.42,156.82 2088.5,156.65 2088.63,156.36 2088.77,156.07 2088.9,155.78 2089.04,155.49 2089.17,155.21 2089.26,155.03 2089.31,154.93 2089.44,154.65 2089.58,154.38 2089.72,154.1 2089.85,153.83 2089.99,153.57 2090.11,153.33 2090.12,153.3 2090.26,153.04 2090.39,152.78 2090.53,152.52 2090.66,152.26 2090.8,152.01 2090.93,151.76 2090.95,151.73 2091.07,151.51 2091.2,151.26 2091.34,151.02 2091.8,150.21 2092.64,148.79 2093.49,147.44 2094.33,146.18 2095.18,144.99 2096.02,143.87 2096.86,142.81 2097.71,141.82 2098.55,140.89 2099.4,140.01 2100.24,139.18 2101.09,138.4 2101.93,137.66 2102.78,136.96 2103.62,136.29 2104.47,135.65 2105.31,135.03 2106.16,134.42 2107,133.82 2107.85,133.24 2108.69,132.67 2109.54,132.11 2110.38,131.56 2111.23,131.03 2112.07,130.5 2112.91,129.99 2113.76,129.5 2114.6,129.01 2115.45,128.53 2116.29,128.07 2117.14,127.61 2117.98,127.17 2118.83,126.74 2119.67,126.32 2120.52,125.9 2121.36,125.5 2122.21,125.11 2123.05,124.73 2123.9,124.36 2124.74,123.99 2125.59,123.64 2126.43,123.29 2127.28,122.96 2128.12,122.63 2128.96,122.31 2129.81,122 2130.65,121.7 2131.5,121.41 2132.34,121.12 2133.19,120.84 2134.03,120.57 2134.88,120.31 2135.72,120.05 2136.57,119.8 2137.41,119.56 2138.26,119.32 2139.1,119.09 2139.95,118.87 2140.79,118.65 2141.64,118.44 2142.48,118.23 2143.33,118.03 2144.17,117.83 2145.01,117.64 2145.86,117.45 2146.7,117.26 2147.55,117.07 2148.39,116.89 2149.24,116.7 2150.08,116.52 2150.93,116.35 2151.77,116.17 2152.62,116 2153.46,115.83 2154.31,115.66 2155.15,115.5 2156,115.33 2156.84,115.17 2157.69,115.01 2158.53,114.86 2159.38,114.7 2160.22,114.55 2161.06,114.4 2161.91,114.25 2162.75,114.11 2163.6,113.96 2164.44,113.82 2165.29,113.68 2166.13,113.55 2166.98,113.41 2167.82,113.28 2168.67,113.14 2169.51,113.01 2170.36,112.89 2171.2,112.76 2172.05,112.63 2172.89,112.51 2173.74,112.39 2174.58,112.27 2175.43,112.15 2176.27,112.04 2177.12,111.92 2177.96,111.81 2178.8,111.7 2179.65,111.59 2180.49,111.48 2181.34,111.37 2182.18,111.27 2183.03,111.16 2183.87,111.06 2184.72,110.96 2185.56,110.86 2186.41,110.76 2187.25,110.66 2188.1,110.57 2188.94,110.47 2189.79,110.38 2190.63,110.29 2191.48,110.19 2192.32,110.1 2193.17,110.01 2194.01,109.93 2194.85,109.84 2195.7,109.75 2196.54,109.67 2197.39,109.58 2198.23,109.5 2199.08,109.42 2199.92,109.34 2200.77,109.26 2201.61,109.18 2202.46,109.1 2203.3,109.02 2204.15,108.94 2204.99,108.87 2205.84,108.79 2206.68,108.72 2207.53,108.65 2208.37,108.57 2209.22,108.5 2210.06,108.43 2210.9,108.36 2211.75,108.29 2212.59,108.22 2213.44,108.16 2214.28,108.09 2215.13,108.02 2215.97,107.96 2216.82,107.89 2217.66,107.83 2218.51,107.77 2219.35,107.7 2220.2,107.64 2221.04,107.58 2221.89,107.52 2222.73,107.46 2223.58,107.4 2224.42,107.34 2225.27,107.28 2226.11,107.23 2226.95,107.17 2227.8,107.11 2228.64,107.06 2229.49,107 2230.33,106.95 2231.18,106.89 2232.02,106.84 2232.87,106.79 2233.71,106.73 2234.56,106.68 2235.4,106.63 2236.25,106.58 2237.09,106.52 2237.94,106.47 2238.78,106.42 2239.63,106.37 2240.47,106.32 2241.32,106.27 2242.16,106.22 2243,106.17 2243.85,106.12 2244.69,106.08 2245.54,106.03 2246.38,105.98 2247.23,105.93 2248.07,105.88 2248.92,105.83 2249.76,105.79 2250.61,105.74 2251.45,105.69 2252.3,105.64 2253.14,105.6 2253.99,105.55 2254.83,105.5 2255.68,105.46 2256.52,105.41 2257.37,105.36 2258.21,105.32 2259.05,105.27 2259.9,105.22 2260.74,105.18 2261.59,105.13 2262.43,105.08 2263.28,105.04 2264.12,104.99 2264.97,104.94 2265.81,104.9 2266.66,104.85 2267.5,104.81 2268.35,104.76 2269.19,104.72 2270.04,104.67 2270.88,104.63 2271.73,104.58 2272.57,104.54 2273.42,104.49 2274.26,104.45 2275.11,104.4 2275.95,104.36 2276.79,104.32 2277.64,104.27 2278.48,104.23 2279.33,104.19 2280.17,104.14 2281.02,104.1 2281.86,104.06 2282.71,104.01 2283.55,103.97 2284.4,103.93 2285.24,103.89 2286.09,103.85 2286.93,103.81 2287.78,103.76 2288.62,103.72 2289.47,103.68 2290.31,103.64 2291.16,103.6 2292,103.56 2292.84,103.52 2293.69,103.48 2294.53,103.44 2295.38,103.4 2296.22,103.36 2297.07,103.32 2297.91,103.29 2298.76,103.25 2299.6,103.21 2300.45,103.17 2301.29,103.13 2302.14,103.1 2302.98,103.06 2303.83,103.02 2304.67,102.99 2305.52,102.95 2306.36,102.91 2307.21,102.88 2308.05,102.84 2308.89,102.81 2309.74,102.77 2310.58,102.74 2311.43,102.7 2312.27,102.67 2313.12,102.63 2313.96,102.6 2314.81,102.57 2315.65,102.53 2316.5,102.5 2317.34,102.47 2318.19,102.44 2319.03,102.4 2319.88,102.37 2320.72,102.34 2321.57,102.31 2322.41,102.28 2323.26,102.25 2324.1,102.22" fill="none" stroke="#1a8a8a" stroke-width="2.6" stroke-linejoin="round" stroke-linecap="round"/>
<polyline points="1818.1,105.2 1818.94,105.21 1819.79,105.23 1820.63,105.25 1821.48,105.27 1822.32,105.28 1823.17,105.3 1824.01,105.32 1824.86,105.34 1825.7,105.37 1826.55,105.39 1827.39,105.41 1828.24,105.43 1829.08,105.46 1829.93,105.48 1830.77,105.51 1831.62,105.53 1832.46,105.56 1833.31,105.59 1834.15,105.62 1834.99,105.65 1835.84,105.67 1836.68,105.7 1837.53,105.73 1838.37,105.77 1839.22,105.8 1840.06,105.83 1840.91,105.86 1841.75,105.9 1842.6,105.93 1843.44,105.96 1844.29,106 1845.13,106.03 1845.98,106.07 1846.82,106.11 1847.67,106.14 1848.51,106.18 1849.36,106.22 1850.2,106.26 1851.04,106.3 1851.89,106.34 1852.73,106.38 1853.58,106.42 1854.42,106.46 1855.27,106.5 1856.11,106.54 1856.96,106.59 1857.8,106.63 1858.65,106.67 1859.49,106.72 1860.34,106.76 1861.18,106.81 1862.03,106.85 1862.87,106.9 1863.72,106.94 1864.56,106.99 1865.41,107.04 1866.25,107.08 1867.09,107.13 1867.94,107.18 1868.78,107.23 1869.63,107.28 1870.47,107.33 1871.32,107.38 1872.16,107.43 1873.01,107.48 1873.85,107.53 1874.7,107.58 1875.54,107.63 1876.39,107.68 1877.23,107.74 1878.08,107.79 1878.92,107.84 1879.77,107.9 1880.61,107.95 1881.46,108 1882.3,108.06 1883.15,108.11 1883.99,108.17 1884.83,108.22 1885.68,108.28 1886.52,108.33 1887.37,108.39 1888.21,108.45 1889.06,108.5 1889.9,108.56 1890.75,108.62 1891.59,108.67 1892.44,108.73 1893.28,108.79 1894.13,108.85 1894.97,108.9 1895.82,108.96 1896.66,109.02 1897.51,109.08 1898.35,109.14 1899.2,109.2 1900.04,109.26 1900.88,109.32 1901.73,109.38 1902.57,109.44 1903.42,109.5 1904.26,109.56 1905.11,109.62 1905.95,109.68 1906.8,109.74 1907.64,109.8 1908.49,109.86 1909.33,109.92 1910.18,109.98 1911.02,110.04 1911.87,110.11 1912.71,110.17 1913.56,110.23 1914.4,110.29 1915.25,110.35 1916.09,110.42 1916.93,110.48 1917.78,110.54 1918.62,110.61 1919.47,110.67 1920.31,110.74 1921.16,110.8 1922,110.87 1922.85,110.93 1923.69,111 1924.54,111.07 1925.38,111.14 1926.23,111.21 1927.07,111.27 1927.92,111.34 1928.76,111.41 1929.61,111.49 1930.45,111.56 1931.3,111.63 1932.14,111.7 1932.98,111.77 1933.83,111.85 1934.67,111.92 1935.52,112 1936.36,112.07 1937.21,112.15 1938.05,112.23 1938.9,112.31 1939.74,112.39 1940.59,112.47 1941.43,112.55 1942.28,112.63 1943.12,112.71 1943.97,112.79 1944.81,112.88 1945.66,112.96 1946.5,113.05 1947.35,113.14 1948.19,113.22 1949.03,113.31 1949.88,113.4 1950.72,113.49 1951.57,113.58 1952.41,113.68 1953.26,113.77 1954.1,113.86 1954.95,113.96 1955.79,114.05 1956.64,114.15 1957.48,114.25 1958.33,114.35 1959.17,114.45 1960.02,114.55 1960.86,114.66 1961.71,114.76 1962.55,114.87 1963.4,114.97 1964.24,115.08 1965.08,115.19 1965.93,115.3 1966.77,115.41 1967.62,115.52 1968.46,115.63 1969.31,115.75 1970.15,115.87 1971,115.98 1971.84,116.1 1972.69,116.22 1973.53,116.34 1974.38,116.47 1975.22,116.59 1976.07,116.72 1976.91,116.84 1977.76,116.97 1978.6,117.1 1979.45,117.23 1980.29,117.37 1981.14,117.5 1981.98,117.63 1982.82,117.77 1983.67,117.91 1984.51,118.05 1985.36,118.19 1986.2,118.34 1987.05,118.48 1987.89,118.63 1988.74,118.77 1989.58,118.92 1990.43,119.07 1991.27,119.23 1992.12,119.39 1992.96,119.55 1993.81,119.71 1994.65,119.89 1995.5,120.06 1996.34,120.24 1997.19,120.43 1998.03,120.62 1998.87,120.81 1999.72,121.02 2000.56,121.22 2001.41,121.43 2002.25,121.65 2003.1,121.87 2003.94,122.1 2004.79,122.33 2005.63,122.57 2006.48,122.81 2007.32,123.06 2008.17,123.32 2009.01,123.58 2009.86,123.85 2010.7,124.12 2011.55,124.4 2012.39,124.69 2013.24,124.98 2014.08,125.28 2014.92,125.59 2015.77,125.9 2016.61,126.22 2017.46,126.55 2018.3,126.88 2019.15,127.22 2019.99,127.57 2020.84,127.92 2021.68,128.28 2022.53,128.65 2023.37,129.03 2024.22,129.41 2025.06,129.8 2025.91,130.2 2026.75,130.61 2027.6,131.02 2028.44,131.44 2029.29,131.87 2030.13,132.31 2030.97,132.77 2031.82,133.25 2032.66,133.75 2033.51,134.28 2034.35,134.83 2035.2,135.41 2036.04,136.02 2036.89,136.66 2037.73,137.33 2038.58,138.04 2039.42,138.78 2040.27,139.56 2041.11,140.37 2041.96,141.23 2042.8,142.13 2043.65,143.08 2044.49,144.07 2045.34,145.1 2046.18,146.19 2047.02,147.32 2047.87,148.51 2048.71,149.75 2049.56,151.1 2050.4,152.68 2050.86,153.62 2051,153.91 2051.13,154.21 2051.25,154.48 2051.27,154.52 2051.4,154.82 2051.54,155.14 2051.67,155.46 2051.81,155.79 2051.94,156.12 2052.08,156.46 2052.09,156.49 2052.21,156.8 2052.35,157.15 2052.48,157.5 2052.62,157.86 2052.76,158.23 2052.89,158.6 2052.94,158.73 2053.03,158.98 2053.16,159.36 2053.3,159.75 2053.43,160.14 2053.57,160.54 2053.7,160.95 2053.78,161.19 2053.84,161.36 2053.97,161.77 2054.11,162.19 2054.24,162.62 2054.38,163.05 2054.52,163.49 2054.63,163.86 2054.65,163.94 2054.79,164.38 2054.92,164.84 2055.06,165.3 2055.19,165.76 2055.33,166.24 2055.46,166.71 2055.47,166.75 2055.6,167.19 2055.73,167.68 2055.87,168.18 2056,168.67 2056.14,169.18 2056.28,169.69 2056.32,169.85 2056.41,170.2 2056.55,170.72 2056.68,171.25 2056.82,171.78 2056.95,172.32 2057.09,172.86 2057.16,173.16 2057.22,173.41 2057.36,173.96 2057.49,174.52 2057.63,175.08 2057.76,175.65 2057.9,176.23 2058.01,176.68 2058.04,176.81 2058.17,177.39 2058.31,177.98 2058.44,178.58 2058.58,179.18 2058.71,179.79 2058.85,180.4 2058.85,180.42 2058.98,181.03 2059.12,181.66 2059.25,182.3 2059.39,182.95 2059.52,183.61 2059.66,184.28 2059.7,184.46 2059.8,184.96 2059.93,185.66 2060.07,186.37 2060.2,187.08 2060.34,187.82 2060.47,188.57 2060.54,188.95 2060.61,189.33 2060.74,190.1 2060.88,190.89 2061.01,191.7 2061.15,192.53 2061.28,193.37 2061.39,194 2061.42,194.22 2061.56,195.1 2061.69,195.99 2061.83,196.91 2061.96,197.84 2062.1,198.79 2062.23,199.75 2062.23,199.76 2062.37,200.76 2062.5,201.77 2062.64,202.81 2062.77,203.87 2062.91,204.95 2063.04,206.06 2063.07,206.31 2063.18,207.18 2063.32,208.34 2063.45,209.52 2063.59,210.72 2063.72,211.95 2063.86,213.2 2063.92,213.8 2063.99,214.49 2064.13,215.8 2064.26,217.13 2064.4,218.5 2064.53,219.89 2064.67,221.32 2064.76,222.34 2064.8,222.77 2064.94,224.26 2065.08,225.77 2065.21,227.32 2065.35,228.9 2065.48,230.51 2065.61,232.06 2065.62,232.15 2065.75,233.83 2065.89,235.54 2066.02,237.29 2066.16,239.07 2066.29,240.88 2066.43,242.73 2066.45,243.07 2066.56,244.62 2066.7,246.68 2066.84,248.98 2066.97,251.51 2067.11,254.27 2067.24,257.24 2067.3,258.56 2067.38,260.42 2067.51,263.8 2067.65,267.36 2067.78,271.11 2067.92,275.03 2068.05,279.11 2068.14,281.89 2068.19,283.34 2068.32,287.72 2068.46,292.24 2068.6,296.89 2068.73,301.66 2068.87,306.53 2068.99,311.02 2069,311.51 2069.14,316.59 2069.27,321.74 2069.41,326.98 2069.54,332.28 2069.68,338.12 2069.81,345.58 2069.83,346.74 2069.95,354.31 2070.08,363.85 2070.22,373.76 2070.36,383.6 2070.49,392.9 2070.63,401.24 2070.68,404.06 2070.76,408.16 2070.9,413.22 2071.03,415.96 2071.17,415.82 2071.3,412.07 2071.44,405.19 2071.52,399.65 2071.57,395.85 2071.71,384.69 2071.84,372.37 2071.98,359.54 2072.12,346.86 2072.25,334.97 2072.37,325.9 2072.39,324.55 2072.52,316.23 2072.66,310.54 2072.79,305.76 2072.93,301.12 2073.06,296.63 2073.2,292.29 2073.21,291.87 2073.33,288.1 2073.47,284.05 2073.6,280.13 2073.74,276.35 2073.88,272.7 2074.01,269.19 2074.06,268.03 2074.15,265.8 2074.28,262.53 2074.42,259.39 2074.55,256.37 2074.69,253.46 2074.82,250.67 2074.9,249.1 2074.96,247.99 2075.09,245.41 2075.23,242.94 2075.36,240.57 2075.5,238.31 2075.64,236.14 2075.75,234.43 2075.77,234.06 2075.91,232.07 2076.04,230.18 2076.18,228.36 2076.31,226.64 2076.45,224.99 2076.58,223.42 2076.59,223.33 2076.72,221.91 2076.85,220.44 2076.99,218.99 2077.12,217.56 2077.26,216.15 2077.4,214.76 2077.44,214.36 2077.53,213.39 2077.67,212.04 2077.8,210.71 2077.94,209.4 2078.07,208.11 2078.21,206.84 2078.28,206.17 2078.34,205.59 2078.48,204.36 2078.61,203.15 2078.75,201.96 2078.88,200.79 2079.02,199.63 2079.13,198.75 2079.16,198.5 2079.29,197.38 2079.43,196.29 2079.56,195.21 2079.7,194.15 2079.83,193.12 2079.97,192.1 2079.97,192.08 2080.1,191.1 2080.24,190.12 2080.37,189.15 2080.51,188.21 2080.64,187.29 2080.78,186.38 2080.81,186.15 2080.92,185.49 2081.05,184.62 2081.19,183.77 2081.32,182.94 2081.46,182.13 2081.59,181.33 2081.66,180.95 2081.73,180.55 2081.86,179.8 2082,179.06 2082.13,178.33 2082.27,177.63 2082.4,176.94 2082.5,176.45 2082.54,176.27 2082.68,175.62 2082.81,174.99 2082.95,174.38 2083.08,173.78 2083.22,173.2 2083.35,172.65 2083.35,172.64 2083.49,172.09 2083.62,171.57 2083.76,171.06 2083.89,170.57 2084.03,170.09 2084.16,169.63 2084.19,169.54 2084.3,169.19 2084.44,168.77 2084.57,168.36 2084.71,167.98 2084.84,167.6 2084.98,167.23 2085.04,167.06 2085.11,166.86 2085.25,166.5 2085.38,166.14 2085.52,165.78 2085.65,165.43 2085.79,165.08 2085.88,164.83 2085.92,164.73 2086.06,164.38 2086.2,164.04 2086.33,163.7 2086.47,163.36 2086.6,163.03 2086.73,162.72 2086.74,162.69 2086.87,162.37 2087.01,162.04 2087.14,161.72 2087.28,161.4 2087.41,161.08 2087.55,160.76 2087.57,160.71 2087.68,160.45 2087.82,160.14 2087.96,159.84 2088.09,159.53 2088.23,159.23 2088.36,158.93 2088.42,158.81 2088.5,158.64 2088.63,158.34 2088.77,158.05 2088.9,157.77 2089.04,157.48 2089.17,157.2 2089.26,157.01 2089.31,156.92 2089.44,156.64 2089.58,156.36 2089.72,156.09 2089.85,155.82 2089.99,155.55 2090.11,155.32 2090.12,155.29 2090.26,155.02 2090.39,154.76 2090.53,154.51 2090.66,154.25 2090.8,154 2090.93,153.75 2090.95,153.71 2091.07,153.5 2091.2,153.25 2091.34,153.01 2091.8,152.2 2092.64,150.77 2093.49,149.43 2094.33,148.16 2095.18,146.97 2096.02,145.85 2096.86,144.8 2097.71,143.81 2098.55,142.87 2099.4,142 2100.24,141.17 2101.09,140.39 2101.93,139.65 2102.78,138.95 2103.62,138.28 2104.47,137.64 2105.31,137.02 2106.16,136.41 2107,135.81 2107.85,135.23 2108.69,134.66 2109.54,134.1 2110.38,133.55 2111.23,133.02 2112.07,132.49 2112.91,131.98 2113.76,131.48 2114.6,131 2115.45,130.52 2116.29,130.06 2117.14,129.6 2117.98,129.16 2118.83,128.73 2119.67,128.3 2120.52,127.89 2121.36,127.49 2122.21,127.1 2123.05,126.72 2123.9,126.34 2124.74,125.98 2125.59,125.63 2126.43,125.28 2127.28,124.95 2128.12,124.62 2128.96,124.3 2129.81,123.99 2130.65,123.69 2131.5,123.39 2132.34,123.11 2133.19,122.83 2134.03,122.56 2134.88,122.3 2135.72,122.04 2136.57,121.79 2137.41,121.55 2138.26,121.31 2139.1,121.08 2139.95,120.86 2140.79,120.64 2141.64,120.43 2142.48,120.22 2143.33,120.02 2144.17,119.82 2145.01,119.63 2145.86,119.43 2146.7,119.25 2147.55,119.06 2148.39,118.87 2149.24,118.69 2150.08,118.51 2150.93,118.33 2151.77,118.16 2152.62,117.99 2153.46,117.82 2154.31,117.65 2155.15,117.48 2156,117.32 2156.84,117.16 2157.69,117 2158.53,116.85 2159.38,116.69 2160.22,116.54 2161.06,116.39 2161.91,116.24 2162.75,116.1 2163.6,115.95 2164.44,115.81 2165.29,115.67 2166.13,115.53 2166.98,115.4 2167.82,115.26 2168.67,115.13 2169.51,115 2170.36,114.87 2171.2,114.75 2172.05,114.62 2172.89,114.5 2173.74,114.38 2174.58,114.26 2175.43,114.14 2176.27,114.02 2177.12,113.91 2177.96,113.8 2178.8,113.69 2179.65,113.58 2180.49,113.47 2181.34,113.36 2182.18,113.25 2183.03,113.15 2183.87,113.05 2184.72,112.95 2185.56,112.85 2186.41,112.75 2187.25,112.65 2188.1,112.55 2188.94,112.46 2189.79,112.37 2190.63,112.27 2191.48,112.18 2192.32,112.09 2193.17,112 2194.01,111.91 2194.85,111.83 2195.7,111.74 2196.54,111.66 2197.39,111.57 2198.23,111.49 2199.08,111.41 2199.92,111.33 2200.77,111.24 2201.61,111.17 2202.46,111.09 2203.3,111.01 2204.15,110.93 2204.99,110.86 2205.84,110.78 2206.68,110.71 2207.53,110.63 2208.37,110.56 2209.22,110.49 2210.06,110.42 2210.9,110.35 2211.75,110.28 2212.59,110.21 2213.44,110.14 2214.28,110.08 2215.13,110.01 2215.97,109.95 2216.82,109.88 2217.66,109.82 2218.51,109.75 2219.35,109.69 2220.2,109.63 2221.04,109.57 2221.89,109.51 2222.73,109.45 2223.58,109.39 2224.42,109.33 2225.27,109.27 2226.11,109.22 2226.95,109.16 2227.8,109.1 2228.64,109.05 2229.49,108.99 2230.33,108.94 2231.18,108.88 2232.02,108.83 2232.87,108.77 2233.71,108.72 2234.56,108.67 2235.4,108.62 2236.25,108.56 2237.09,108.51 2237.94,108.46 2238.78,108.41 2239.63,108.36 2240.47,108.31 2241.32,108.26 2242.16,108.21 2243,108.16 2243.85,108.11 2244.69,108.06 2245.54,108.01 2246.38,107.97 2247.23,107.92 2248.07,107.87 2248.92,107.82 2249.76,107.77 2250.61,107.73 2251.45,107.68 2252.3,107.63 2253.14,107.59 2253.99,107.54 2254.83,107.49 2255.68,107.44 2256.52,107.4 2257.37,107.35 2258.21,107.3 2259.05,107.26 2259.9,107.21 2260.74,107.16 2261.59,107.12 2262.43,107.07 2263.28,107.02 2264.12,106.98 2264.97,106.93 2265.81,106.89 2266.66,106.84 2267.5,106.79 2268.35,106.75 2269.19,106.7 2270.04,106.66 2270.88,106.61 2271.73,106.57 2272.57,106.52 2273.42,106.48 2274.26,106.44 2275.11,106.39 2275.95,106.35 2276.79,106.3 2277.64,106.26 2278.48,106.22 2279.33,106.17 2280.17,106.13 2281.02,106.09 2281.86,106.04 2282.71,106 2283.55,105.96 2284.4,105.92 2285.24,105.88 2286.09,105.83 2286.93,105.79 2287.78,105.75 2288.62,105.71 2289.47,105.67 2290.31,105.63 2291.16,105.59 2292,105.55 2292.84,105.51 2293.69,105.47 2294.53,105.43 2295.38,105.39 2296.22,105.35 2297.07,105.31 2297.91,105.27 2298.76,105.24 2299.6,105.2 2300.45,105.16 2301.29,105.12 2302.14,105.09 2302.98,105.05 2303.83,105.01 2304.67,104.97 2305.52,104.94 2306.36,104.9 2307.21,104.87 2308.05,104.83 2308.89,104.79 2309.74,104.76 2310.58,104.72 2311.43,104.69 2312.27,104.66 2313.12,104.62 2313.96,104.59 2314.81,104.55 2315.65,104.52 2316.5,104.49 2317.34,104.46 2318.19,104.42 2319.03,104.39 2319.88,104.36 2320.72,104.33 2321.57,104.3 2322.41,104.27 2323.26,104.23 2324.1,104.2" fill="none" stroke="#c050b0" stroke-width="2.6" stroke-linejoin="round" stroke-linecap="round"/>
<polyline points="1818.1,100.23 1818.94,100.24 1819.79,100.26 1820.63,100.28 1821.48,100.3 1822.32,100.31 1823.17,100.33 1824.01,100.35 1824.86,100.37 1825.7,100.4 1826.55,100.42 1827.39,100.44 1828.24,100.46 1829.08,100.49 1829.93,100.51 1830.77,100.54 1831.62,100.56 1832.46,100.59 1833.31,100.62 1834.15,100.65 1834.99,100.68 1835.84,100.7 1836.68,100.73 1837.53,100.76 1838.37,100.8 1839.22,100.83 1840.06,100.86 1840.91,100.89 1841.75,100.93 1842.6,100.96 1843.44,100.99 1844.29,101.03 1845.13,101.06 1845.98,101.1 1846.82,101.14 1847.67,101.17 1848.51,101.21 1849.36,101.25 1850.2,101.29 1851.04,101.33 1851.89,101.37 1852.73,101.41 1853.58,101.45 1854.42,101.49 1855.27,101.53 1856.11,101.57 1856.96,101.62 1857.8,101.66 1858.65,101.7 1859.49,101.75 1860.34,101.79 1861.18,101.84 1862.03,101.88 1862.87,101.93 1863.72,101.97 1864.56,102.02 1865.41,102.07 1866.25,102.11 1867.09,102.16 1867.94,102.21 1868.78,102.26 1869.63,102.31 1870.47,102.36 1871.32,102.41 1872.16,102.46 1873.01,102.51 1873.85,102.56 1874.7,102.61 1875.54,102.66 1876.39,102.71 1877.23,102.77 1878.08,102.82 1878.92,102.87 1879.77,102.93 1880.61,102.98 1881.46,103.03 1882.3,103.09 1883.15,103.14 1883.99,103.2 1884.83,103.25 1885.68,103.31 1886.52,103.36 1887.37,103.42 1888.21,103.48 1889.06,103.53 1889.9,103.59 1890.75,103.65 1891.59,103.7 1892.44,103.76 1893.28,103.82 1894.13,103.88 1894.97,103.93 1895.82,103.99 1896.66,104.05 1897.51,104.11 1898.35,104.17 1899.2,104.23 1900.04,104.29 1900.88,104.35 1901.73,104.41 1902.57,104.47 1903.42,104.53 1904.26,104.59 1905.11,104.65 1905.95,104.71 1906.8,104.77 1907.64,104.83 1908.49,104.89 1909.33,104.95 1910.18,105.01 1911.02,105.07 1911.87,105.14 1912.71,105.2 1913.56,105.26 1914.4,105.32 1915.25,105.38 1916.09,105.45 1916.93,105.51 1917.78,105.57 1918.62,105.64 1919.47,105.7 1920.31,105.77 1921.16,105.83 1922,105.9 1922.85,105.96 1923.69,106.03 1924.54,106.1 1925.38,106.17 1926.23,106.24 1927.07,106.3 1927.92,106.37 1928.76,106.44 1929.61,106.52 1930.45,106.59 1931.3,106.66 1932.14,106.73 1932.98,106.8 1933.83,106.88 1934.67,106.95 1935.52,107.03 1936.36,107.1 1937.21,107.18 1938.05,107.26 1938.9,107.34 1939.74,107.42 1940.59,107.5 1941.43,107.58 1942.28,107.66 1943.12,107.74 1943.97,107.82 1944.81,107.91 1945.66,107.99 1946.5,108.08 1947.35,108.17 1948.19,108.25 1949.03,108.34 1949.88,108.43 1950.72,108.52 1951.57,108.61 1952.41,108.71 1953.26,108.8 1954.1,108.89 1954.95,108.99 1955.79,109.08 1956.64,109.18 1957.48,109.28 1958.33,109.38 1959.17,109.48 1960.02,109.58 1960.86,109.69 1961.71,109.79 1962.55,109.9 1963.4,110 1964.24,110.11 1965.08,110.22 1965.93,110.33 1966.77,110.44 1967.62,110.55 1968.46,110.66 1969.31,110.78 1970.15,110.9 1971,111.01 1971.84,111.13 1972.69,111.25 1973.53,111.37 1974.38,111.5 1975.22,111.62 1976.07,111.75 1976.91,111.87 1977.76,112 1978.6,112.13 1979.45,112.26 1980.29,112.4 1981.14,112.53 1981.98,112.66 1982.82,112.8 1983.67,112.94 1984.51,113.08 1985.36,113.22 1986.2,113.37 1987.05,113.51 1987.89,113.66 1988.74,113.8 1989.58,113.95 1990.43,114.1 1991.27,114.26 1992.12,114.42 1992.96,114.58 1993.81,114.74 1994.65,114.92 1995.5,115.09 1996.34,115.27 1997.19,115.46 1998.03,115.65 1998.87,115.84 1999.72,116.05 2000.56,116.25 2001.41,116.46 2002.25,116.68 2003.1,116.9 2003.94,117.13 2004.79,117.36 2005.63,117.6 2006.48,117.84 2007.32,118.09 2008.17,118.35 2009.01,118.61 2009.86,118.88 2010.7,119.15 2011.55,119.43 2012.39,119.72 2013.24,120.01 2014.08,120.31 2014.92,120.62 2015.77,120.93 2016.61,121.25 2017.46,121.58 2018.3,121.91 2019.15,122.25 2019.99,122.6 2020.84,122.95 2021.68,123.31 2022.53,123.68 2023.37,124.06 2024.22,124.44 2025.06,124.83 2025.91,125.23 2026.75,125.64 2027.6,126.05 2028.44,126.47 2029.29,126.9 2030.13,127.34 2030.97,127.8 2031.82,128.28 2032.66,128.78 2033.51,129.31 2034.35,129.86 2035.2,130.44 2036.04,131.05 2036.89,131.69 2037.73,132.36 2038.58,133.07 2039.42,133.81 2040.27,134.59 2041.11,135.4 2041.96,136.26 2042.8,137.16 2043.65,138.11 2044.49,139.1 2045.34,140.13 2046.18,141.22 2047.02,142.35 2047.87,143.54 2048.71,144.78 2049.56,146.13 2050.4,147.71 2050.86,148.65 2051,148.94 2051.13,149.24 2051.25,149.51 2051.27,149.55 2051.4,149.85 2051.54,150.17 2051.67,150.49 2051.81,150.82 2051.94,151.15 2052.08,151.49 2052.09,151.52 2052.21,151.83 2052.35,152.18 2052.48,152.53 2052.62,152.89 2052.76,153.26 2052.89,153.63 2052.94,153.76 2053.03,154.01 2053.16,154.39 2053.3,154.78 2053.43,155.17 2053.57,155.57 2053.7,155.98 2053.78,156.22 2053.84,156.39 2053.97,156.8 2054.11,157.22 2054.24,157.65 2054.38,158.08 2054.52,158.52 2054.63,158.89 2054.65,158.97 2054.79,159.41 2054.92,159.87 2055.06,160.33 2055.19,160.79 2055.33,161.27 2055.46,161.74 2055.47,161.78 2055.6,162.22 2055.73,162.71 2055.87,163.21 2056,163.7 2056.14,164.21 2056.28,164.72 2056.32,164.88 2056.41,165.23 2056.55,165.75 2056.68,166.28 2056.82,166.81 2056.95,167.35 2057.09,167.89 2057.16,168.19 2057.22,168.44 2057.36,168.99 2057.49,169.55 2057.63,170.11 2057.76,170.68 2057.9,171.26 2058.01,171.71 2058.04,171.84 2058.17,172.42 2058.31,173.01 2058.44,173.61 2058.58,174.21 2058.71,174.82 2058.85,175.43 2058.85,175.45 2058.98,176.06 2059.12,176.69 2059.25,177.33 2059.39,177.98 2059.52,178.64 2059.66,179.31 2059.7,179.49 2059.8,179.99 2059.93,180.69 2060.07,181.4 2060.2,182.11 2060.34,182.85 2060.47,183.6 2060.54,183.98 2060.61,184.36 2060.74,185.13 2060.88,185.92 2061.01,186.73 2061.15,187.56 2061.28,188.4 2061.39,189.03 2061.42,189.25 2061.56,190.13 2061.69,191.02 2061.83,191.94 2061.96,192.87 2062.1,193.82 2062.23,194.78 2062.23,194.79 2062.37,195.79 2062.5,196.8 2062.64,197.84 2062.77,198.9 2062.91,199.98 2063.04,201.09 2063.07,201.34 2063.18,202.21 2063.32,203.37 2063.45,204.55 2063.59,205.75 2063.72,206.98 2063.86,208.23 2063.92,208.83 2063.99,209.52 2064.13,210.83 2064.26,212.16 2064.4,213.53 2064.53,214.92 2064.67,216.35 2064.76,217.37 2064.8,217.8 2064.94,219.29 2065.08,220.8 2065.21,222.35 2065.35,223.93 2065.48,225.54 2065.61,227.09 2065.62,227.18 2065.75,228.86 2065.89,230.57 2066.02,232.32 2066.16,234.1 2066.29,235.91 2066.43,237.76 2066.45,238.1 2066.56,239.65 2066.7,241.73 2066.84,244.09 2066.97,246.71 2067.11,249.57 2067.24,252.67 2067.3,254.04 2067.38,255.98 2067.51,259.5 2067.65,263.22 2067.78,267.1 2067.92,271.16 2068.05,275.36 2068.14,278.21 2068.19,279.69 2068.32,284.15 2068.46,288.71 2068.6,293.37 2068.73,298.11 2068.87,302.91 2068.99,307.29 2069,307.77 2069.14,312.66 2069.27,317.58 2069.41,322.51 2069.54,327.43 2069.68,332.7 2069.81,339.14 2069.83,340.12 2069.95,346.46 2070.08,354.33 2070.22,362.41 2070.36,370.36 2070.49,377.83 2070.63,384.49 2070.68,386.73 2070.76,389.99 2070.9,393.99 2071.03,396.15 2071.17,396.01 2071.3,392.74 2071.44,386.75 2071.52,381.91 2071.57,378.59 2071.71,368.83 2071.84,358.03 2071.98,346.74 2072.12,335.54 2072.25,324.98 2072.37,316.84 2072.39,315.62 2072.52,308.02 2072.66,302.64 2072.79,298.02 2072.93,293.53 2073.06,289.16 2073.2,284.93 2073.21,284.51 2073.33,280.81 2073.47,276.82 2073.6,272.95 2073.74,269.2 2073.88,265.57 2074.01,262.06 2074.06,260.89 2074.15,258.66 2074.28,255.37 2074.42,252.2 2074.55,249.14 2074.69,246.19 2074.82,243.34 2074.9,241.75 2074.96,240.6 2075.09,237.97 2075.23,235.44 2075.36,233.01 2075.5,230.68 2075.64,228.45 2075.75,226.7 2075.77,226.32 2075.91,224.28 2076.04,222.34 2076.18,220.48 2076.31,218.72 2076.45,217.05 2076.58,215.47 2076.59,215.38 2076.72,213.96 2076.85,212.49 2076.99,211.04 2077.12,209.61 2077.26,208.2 2077.4,206.81 2077.44,206.4 2077.53,205.44 2077.67,204.09 2077.8,202.76 2077.94,201.45 2078.07,200.16 2078.21,198.89 2078.28,198.22 2078.34,197.64 2078.48,196.41 2078.61,195.2 2078.75,194.01 2078.88,192.83 2079.02,191.68 2079.13,190.8 2079.16,190.55 2079.29,189.43 2079.43,188.34 2079.56,187.26 2079.7,186.2 2079.83,185.16 2079.97,184.15 2079.97,184.13 2080.1,183.15 2080.24,182.16 2080.37,181.2 2080.51,180.26 2080.64,179.33 2080.78,178.43 2080.81,178.2 2080.92,177.54 2081.05,176.67 2081.19,175.82 2081.32,174.99 2081.46,174.17 2081.59,173.38 2081.66,172.99 2081.73,172.6 2081.86,171.84 2082,171.1 2082.13,170.38 2082.27,169.68 2082.4,168.99 2082.5,168.5 2082.54,168.32 2082.68,167.67 2082.81,167.04 2082.95,166.42 2083.08,165.83 2083.22,165.25 2083.35,164.7 2083.35,164.69 2083.49,164.14 2083.62,163.61 2083.76,163.1 2083.89,162.61 2084.03,162.14 2084.16,161.68 2084.19,161.59 2084.3,161.24 2084.44,160.82 2084.57,160.41 2084.71,160.02 2084.84,159.65 2084.98,159.28 2085.04,159.11 2085.11,158.91 2085.25,158.55 2085.38,158.19 2085.52,157.83 2085.65,157.48 2085.79,157.12 2085.88,156.88 2085.92,156.77 2086.06,156.43 2086.2,156.09 2086.33,155.75 2086.47,155.41 2086.6,155.07 2086.73,154.76 2086.74,154.74 2086.87,154.41 2087.01,154.09 2087.14,153.77 2087.28,153.44 2087.41,153.13 2087.55,152.81 2087.57,152.76 2087.68,152.5 2087.82,152.19 2087.96,151.89 2088.09,151.58 2088.23,151.28 2088.36,150.98 2088.42,150.86 2088.5,150.69 2088.63,150.39 2088.77,150.1 2088.9,149.81 2089.04,149.53 2089.17,149.25 2089.26,149.06 2089.31,148.97 2089.44,148.69 2089.58,148.41 2089.72,148.14 2089.85,147.87 2089.99,147.6 2090.11,147.36 2090.12,147.34 2090.26,147.07 2090.39,146.81 2090.53,146.55 2090.66,146.3 2090.8,146.04 2090.93,145.79 2090.95,145.76 2091.07,145.54 2091.2,145.3 2091.34,145.05 2091.8,144.25 2092.64,142.82 2093.49,141.48 2094.33,140.21 2095.18,139.02 2096.02,137.9 2096.86,136.85 2097.71,135.86 2098.55,134.92 2099.4,134.04 2100.24,133.22 2101.09,132.43 2101.93,131.7 2102.78,130.99 2103.62,130.33 2104.47,129.69 2105.31,129.07 2106.16,128.46 2107,127.86 2107.85,127.27 2108.69,126.7 2109.54,126.14 2110.38,125.6 2111.23,125.06 2112.07,124.54 2112.91,124.03 2113.76,123.53 2114.6,123.04 2115.45,122.57 2116.29,122.1 2117.14,121.65 2117.98,121.21 2118.83,120.77 2119.67,120.35 2120.52,119.94 2121.36,119.54 2122.21,119.15 2123.05,118.76 2123.9,118.39 2124.74,118.03 2125.59,117.68 2126.43,117.33 2127.28,117 2128.12,116.67 2128.96,116.35 2129.81,116.04 2130.65,115.74 2131.5,115.44 2132.34,115.16 2133.19,114.88 2134.03,114.61 2134.88,114.34 2135.72,114.09 2136.57,113.84 2137.41,113.59 2138.26,113.36 2139.1,113.13 2139.95,112.9 2140.79,112.69 2141.64,112.47 2142.48,112.27 2143.33,112.07 2144.17,111.87 2145.01,111.68 2145.86,111.48 2146.7,111.29 2147.55,111.11 2148.39,110.92 2149.24,110.74 2150.08,110.56 2150.93,110.38 2151.77,110.21 2152.62,110.04 2153.46,109.87 2154.31,109.7 2155.15,109.53 2156,109.37 2156.84,109.21 2157.69,109.05 2158.53,108.89 2159.38,108.74 2160.22,108.59 2161.06,108.44 2161.91,108.29 2162.75,108.14 2163.6,108 2164.44,107.86 2165.29,107.72 2166.13,107.58 2166.98,107.45 2167.82,107.31 2168.67,107.18 2169.51,107.05 2170.36,106.92 2171.2,106.8 2172.05,106.67 2172.89,106.55 2173.74,106.43 2174.58,106.31 2175.43,106.19 2176.27,106.07 2177.12,105.96 2177.96,105.84 2178.8,105.73 2179.65,105.62 2180.49,105.52 2181.34,105.41 2182.18,105.3 2183.03,105.2 2183.87,105.1 2184.72,104.99 2185.56,104.89 2186.41,104.8 2187.25,104.7 2188.1,104.6 2188.94,104.51 2189.79,104.41 2190.63,104.32 2191.48,104.23 2192.32,104.14 2193.17,104.05 2194.01,103.96 2194.85,103.88 2195.7,103.79 2196.54,103.7 2197.39,103.62 2198.23,103.54 2199.08,103.45 2199.92,103.37 2200.77,103.29 2201.61,103.21 2202.46,103.13 2203.3,103.06 2204.15,102.98 2204.99,102.9 2205.84,102.83 2206.68,102.75 2207.53,102.68 2208.37,102.61 2209.22,102.54 2210.06,102.47 2210.9,102.4 2211.75,102.33 2212.59,102.26 2213.44,102.19 2214.28,102.13 2215.13,102.06 2215.97,101.99 2216.82,101.93 2217.66,101.87 2218.51,101.8 2219.35,101.74 2220.2,101.68 2221.04,101.62 2221.89,101.56 2222.73,101.5 2223.58,101.44 2224.42,101.38 2225.27,101.32 2226.11,101.26 2226.95,101.21 2227.8,101.15 2228.64,101.09 2229.49,101.04 2230.33,100.98 2231.18,100.93 2232.02,100.88 2232.87,100.82 2233.71,100.77 2234.56,100.72 2235.4,100.66 2236.25,100.61 2237.09,100.56 2237.94,100.51 2238.78,100.46 2239.63,100.41 2240.47,100.36 2241.32,100.31 2242.16,100.26 2243,100.21 2243.85,100.16 2244.69,100.11 2245.54,100.06 2246.38,100.01 2247.23,99.97 2248.07,99.92 2248.92,99.87 2249.76,99.82 2250.61,99.78 2251.45,99.73 2252.3,99.68 2253.14,99.63 2253.99,99.59 2254.83,99.54 2255.68,99.49 2256.52,99.45 2257.37,99.4 2258.21,99.35 2259.05,99.31 2259.9,99.26 2260.74,99.21 2261.59,99.17 2262.43,99.12 2263.28,99.07 2264.12,99.03 2264.97,98.98 2265.81,98.93 2266.66,98.89 2267.5,98.84 2268.35,98.8 2269.19,98.75 2270.04,98.71 2270.88,98.66 2271.73,98.62 2272.57,98.57 2273.42,98.53 2274.26,98.48 2275.11,98.44 2275.95,98.4 2276.79,98.35 2277.64,98.31 2278.48,98.26 2279.33,98.22 2280.17,98.18 2281.02,98.14 2281.86,98.09 2282.71,98.05 2283.55,98.01 2284.4,97.97 2285.24,97.92 2286.09,97.88 2286.93,97.84 2287.78,97.8 2288.62,97.76 2289.47,97.72 2290.31,97.68 2291.16,97.64 2292,97.6 2292.84,97.56 2293.69,97.52 2294.53,97.48 2295.38,97.44 2296.22,97.4 2297.07,97.36 2297.91,97.32 2298.76,97.28 2299.6,97.25 2300.45,97.21 2301.29,97.17 2302.14,97.13 2302.98,97.1 2303.83,97.06 2304.67,97.02 2305.52,96.99 2306.36,96.95 2307.21,96.91 2308.05,96.88 2308.89,96.84 2309.74,96.81 2310.58,96.77 2311.43,96.74 2312.27,96.7 2313.12,96.67 2313.96,96.64 2314.81,96.6 2315.65,96.57 2316.5,96.54 2317.34,96.5 2318.19,96.47 2319.03,96.44 2319.88,96.41 2320.72,96.38 2321.57,96.34 2322.41,96.31 2323.26,96.28 2324.1,96.25" fill="none" stroke="#8a8a2a" stroke-width="2.6" stroke-linejoin="round" stroke-linecap="round"/>
<polyline points="1818.1,103.21 1818.94,103.23 1819.79,103.24 1820.63,103.26 1821.48,103.28 1822.32,103.3 1823.17,103.32 1824.01,103.34 1824.86,103.36 1825.7,103.38 1826.55,103.4 1827.39,103.42 1828.24,103.45 1829.08,103.47 1829.93,103.5 1830.77,103.52 1831.62,103.55 1832.46,103.57 1833.31,103.6 1834.15,103.63 1834.99,103.66 1835.84,103.69 1836.68,103.72 1837.53,103.75 1838.37,103.78 1839.22,103.81 1840.06,103.84 1840.91,103.87 1841.75,103.91 1842.6,103.94 1843.44,103.98 1844.29,104.01 1845.13,104.05 1845.98,104.08 1846.82,104.12 1847.67,104.16 1848.51,104.19 1849.36,104.23 1850.2,104.27 1851.04,104.31 1851.89,104.35 1852.73,104.39 1853.58,104.43 1854.42,104.47 1855.27,104.51 1856.11,104.56 1856.96,104.6 1857.8,104.64 1858.65,104.68 1859.49,104.73 1860.34,104.77 1861.18,104.82 1862.03,104.86 1862.87,104.91 1863.72,104.96 1864.56,105 1865.41,105.05 1866.25,105.1 1867.09,105.14 1867.94,105.19 1868.78,105.24 1869.63,105.29 1870.47,105.34 1871.32,105.39 1872.16,105.44 1873.01,105.49 1873.85,105.54 1874.7,105.59 1875.54,105.64 1876.39,105.7 1877.23,105.75 1878.08,105.8 1878.92,105.85 1879.77,105.91 1880.61,105.96 1881.46,106.02 1882.3,106.07 1883.15,106.12 1883.99,106.18 1884.83,106.23 1885.68,106.29 1886.52,106.35 1887.37,106.4 1888.21,106.46 1889.06,106.51 1889.9,106.57 1890.75,106.63 1891.59,106.68 1892.44,106.74 1893.28,106.8 1894.13,106.86 1894.97,106.92 1895.82,106.97 1896.66,107.03 1897.51,107.09 1898.35,107.15 1899.2,107.21 1900.04,107.27 1900.88,107.33 1901.73,107.39 1902.57,107.45 1903.42,107.51 1904.26,107.57 1905.11,107.63 1905.95,107.69 1906.8,107.75 1907.64,107.81 1908.49,107.87 1909.33,107.93 1910.18,107.99 1911.02,108.06 1911.87,108.12 1912.71,108.18 1913.56,108.24 1914.4,108.3 1915.25,108.37 1916.09,108.43 1916.93,108.49 1917.78,108.56 1918.62,108.62 1919.47,108.68 1920.31,108.75 1921.16,108.81 1922,108.88 1922.85,108.95 1923.69,109.01 1924.54,109.08 1925.38,109.15 1926.23,109.22 1927.07,109.29 1927.92,109.36 1928.76,109.43 1929.61,109.5 1930.45,109.57 1931.3,109.64 1932.14,109.71 1932.98,109.79 1933.83,109.86 1934.67,109.94 1935.52,110.01 1936.36,110.09 1937.21,110.16 1938.05,110.24 1938.9,110.32 1939.74,110.4 1940.59,110.48 1941.43,110.56 1942.28,110.64 1943.12,110.72 1943.97,110.81 1944.81,110.89 1945.66,110.98 1946.5,111.06 1947.35,111.15 1948.19,111.24 1949.03,111.32 1949.88,111.41 1950.72,111.5 1951.57,111.59 1952.41,111.69 1953.26,111.78 1954.1,111.87 1954.95,111.97 1955.79,112.07 1956.64,112.16 1957.48,112.26 1958.33,112.36 1959.17,112.46 1960.02,112.56 1960.86,112.67 1961.71,112.77 1962.55,112.88 1963.4,112.98 1964.24,113.09 1965.08,113.2 1965.93,113.31 1966.77,113.42 1967.62,113.53 1968.46,113.65 1969.31,113.76 1970.15,113.88 1971,114 1971.84,114.11 1972.69,114.23 1973.53,114.36 1974.38,114.48 1975.22,114.6 1976.07,114.73 1976.91,114.86 1977.76,114.98 1978.6,115.11 1979.45,115.24 1980.29,115.38 1981.14,115.51 1981.98,115.65 1982.82,115.78 1983.67,115.92 1984.51,116.06 1985.36,116.2 1986.2,116.35 1987.05,116.49 1987.89,116.64 1988.74,116.79 1989.58,116.94 1990.43,117.09 1991.27,117.24 1992.12,117.4 1992.96,117.56 1993.81,117.73 1994.65,117.9 1995.5,118.07 1996.34,118.25 1997.19,118.44 1998.03,118.63 1998.87,118.83 1999.72,119.03 2000.56,119.23 2001.41,119.44 2002.25,119.66 2003.1,119.88 2003.94,120.11 2004.79,120.34 2005.63,120.58 2006.48,120.83 2007.32,121.08 2008.17,121.33 2009.01,121.59 2009.86,121.86 2010.7,122.14 2011.55,122.42 2012.39,122.7 2013.24,123 2014.08,123.3 2014.92,123.6 2015.77,123.91 2016.61,124.23 2017.46,124.56 2018.3,124.89 2019.15,125.23 2019.99,125.58 2020.84,125.93 2021.68,126.29 2022.53,126.66 2023.37,127.04 2024.22,127.42 2025.06,127.81 2025.91,128.21 2026.75,128.62 2027.6,129.03 2028.44,129.45 2029.29,129.88 2030.13,130.32 2030.97,130.78 2031.82,131.26 2032.66,131.76 2033.51,132.29 2034.35,132.84 2035.2,133.42 2036.04,134.03 2036.89,134.67 2037.73,135.34 2038.58,136.05 2039.42,136.79 2040.27,137.57 2041.11,138.39 2041.96,139.24 2042.8,140.14 2043.65,141.09 2044.49,142.08 2045.34,143.11 2046.18,144.2 2047.02,145.33 2047.87,146.52 2048.71,147.76 2049.56,149.11 2050.4,150.69 2050.86,151.63 2051,151.93 2051.13,152.22 2051.25,152.49 2051.27,152.53 2051.4,152.84 2051.54,153.15 2051.67,153.47 2051.81,153.8 2051.94,154.13 2052.08,154.47 2052.09,154.51 2052.21,154.81 2052.35,155.16 2052.48,155.52 2052.62,155.88 2052.76,156.24 2052.89,156.61 2052.94,156.74 2053.03,156.99 2053.16,157.37 2053.3,157.76 2053.43,158.15 2053.57,158.55 2053.7,158.96 2053.78,159.2 2053.84,159.37 2053.97,159.78 2054.11,160.21 2054.24,160.63 2054.38,161.07 2054.52,161.5 2054.63,161.87 2054.65,161.95 2054.79,162.4 2054.92,162.85 2055.06,163.31 2055.19,163.78 2055.33,164.25 2055.46,164.72 2055.47,164.76 2055.6,165.21 2055.73,165.69 2055.87,166.19 2056,166.69 2056.14,167.19 2056.28,167.7 2056.32,167.86 2056.41,168.22 2056.55,168.74 2056.68,169.26 2056.82,169.79 2056.95,170.33 2057.09,170.87 2057.16,171.17 2057.22,171.42 2057.36,171.97 2057.49,172.53 2057.63,173.1 2057.76,173.67 2057.9,174.24 2058.01,174.7 2058.04,174.82 2058.17,175.41 2058.31,176 2058.44,176.59 2058.58,177.19 2058.71,177.8 2058.85,178.42 2058.85,178.43 2058.98,179.04 2059.12,179.67 2059.25,180.31 2059.39,180.96 2059.52,181.62 2059.66,182.29 2059.7,182.47 2059.8,182.98 2059.93,183.67 2060.07,184.38 2060.2,185.1 2060.34,185.83 2060.47,186.58 2060.54,186.96 2060.61,187.34 2060.74,188.11 2060.88,188.91 2061.01,189.71 2061.15,190.54 2061.28,191.38 2061.39,192.02 2061.42,192.24 2061.56,193.11 2061.69,194.01 2061.83,194.92 2061.96,195.85 2062.1,196.8 2062.23,197.76 2062.23,197.78 2062.37,198.77 2062.5,199.78 2062.64,200.82 2062.77,201.88 2062.91,202.96 2063.04,204.07 2063.07,204.32 2063.18,205.2 2063.32,206.35 2063.45,207.53 2063.59,208.73 2063.72,209.96 2063.86,211.22 2063.92,211.81 2063.99,212.5 2064.13,213.81 2064.26,215.15 2064.4,216.51 2064.53,217.91 2064.67,219.33 2064.76,220.35 2064.8,220.79 2064.94,222.27 2065.08,223.78 2065.21,225.33 2065.35,226.91 2065.48,228.52 2065.61,230.07 2065.62,230.16 2065.75,231.84 2065.89,233.55 2066.02,235.3 2066.16,237.08 2066.29,238.89 2066.43,240.74 2066.45,241.09 2066.56,242.63 2066.7,244.7 2066.84,247.03 2066.97,249.61 2067.11,252.42 2067.24,255.45 2067.3,256.8 2067.38,258.7 2067.51,262.15 2067.65,265.79 2067.78,269.61 2067.92,273.59 2068.05,277.73 2068.14,280.55 2068.19,282.02 2068.32,286.44 2068.46,290.98 2068.6,295.63 2068.73,300.39 2068.87,305.23 2068.99,309.65 2069,310.14 2069.14,315.13 2069.27,320.16 2069.41,325.24 2069.54,330.36 2069.68,335.9 2069.81,342.82 2069.83,343.89 2069.95,350.8 2070.08,359.46 2070.22,368.39 2070.36,377.21 2070.49,385.54 2070.63,392.98 2070.68,395.49 2070.76,399.14 2070.9,403.63 2071.03,406.06 2071.17,405.92 2071.3,402.45 2071.44,396.09 2071.52,390.96 2071.57,387.44 2071.71,377.1 2071.84,365.66 2071.98,353.74 2072.12,341.92 2072.25,330.8 2072.37,322.28 2072.39,321 2072.52,313.1 2072.66,307.59 2072.79,302.9 2072.93,298.34 2073.06,293.92 2073.2,289.64 2073.21,289.22 2073.33,285.49 2073.47,281.47 2073.6,277.58 2073.74,273.82 2073.88,270.18 2074.01,266.67 2074.06,265.5 2074.15,263.27 2074.28,260 2074.42,256.84 2074.55,253.79 2074.69,250.86 2074.82,248.04 2074.9,246.46 2074.96,245.32 2075.09,242.72 2075.23,240.21 2075.36,237.81 2075.5,235.51 2075.64,233.3 2075.75,231.57 2075.77,231.2 2075.91,229.18 2076.04,227.26 2076.18,225.42 2076.31,223.68 2076.45,222.01 2076.58,220.43 2076.59,220.35 2076.72,218.93 2076.85,217.46 2076.99,216.01 2077.12,214.58 2077.26,213.17 2077.4,211.78 2077.44,211.37 2077.53,210.41 2077.67,209.06 2077.8,207.73 2077.94,206.42 2078.07,205.13 2078.21,203.86 2078.28,203.19 2078.34,202.61 2078.48,201.38 2078.61,200.17 2078.75,198.98 2078.88,197.8 2079.02,196.65 2079.13,195.77 2079.16,195.52 2079.29,194.4 2079.43,193.31 2079.56,192.23 2079.7,191.17 2079.83,190.13 2079.97,189.12 2079.97,189.1 2080.1,188.12 2080.24,187.13 2080.37,186.17 2080.51,185.23 2080.64,184.3 2080.78,183.4 2080.81,183.17 2080.92,182.51 2081.05,181.64 2081.19,180.79 2081.32,179.96 2081.46,179.14 2081.59,178.35 2081.66,177.96 2081.73,177.57 2081.86,176.81 2082,176.07 2082.13,175.35 2082.27,174.65 2082.4,173.96 2082.5,173.47 2082.54,173.29 2082.68,172.64 2082.81,172.01 2082.95,171.39 2083.08,170.8 2083.22,170.22 2083.35,169.67 2083.35,169.66 2083.49,169.11 2083.62,168.58 2083.76,168.07 2083.89,167.58 2084.03,167.11 2084.16,166.65 2084.19,166.56 2084.3,166.21 2084.44,165.79 2084.57,165.38 2084.71,164.99 2084.84,164.62 2084.98,164.25 2085.04,164.08 2085.11,163.88 2085.25,163.52 2085.38,163.16 2085.52,162.8 2085.65,162.45 2085.79,162.09 2085.88,161.85 2085.92,161.74 2086.06,161.4 2086.2,161.06 2086.33,160.72 2086.47,160.38 2086.6,160.04 2086.73,159.73 2086.74,159.71 2086.87,159.38 2087.01,159.06 2087.14,158.74 2087.28,158.41 2087.41,158.1 2087.55,157.78 2087.57,157.73 2087.68,157.47 2087.82,157.16 2087.96,156.86 2088.09,156.55 2088.23,156.25 2088.36,155.95 2088.42,155.83 2088.5,155.66 2088.63,155.36 2088.77,155.07 2088.9,154.78 2089.04,154.5 2089.17,154.22 2089.26,154.03 2089.31,153.94 2089.44,153.66 2089.58,153.38 2089.72,153.11 2089.85,152.84 2089.99,152.57 2090.11,152.33 2090.12,152.31 2090.26,152.04 2090.39,151.78 2090.53,151.52 2090.66,151.27 2090.8,151.01 2090.93,150.76 2090.95,150.73 2091.07,150.51 2091.2,150.27 2091.34,150.02 2091.8,149.22 2092.64,147.79 2093.49,146.45 2094.33,145.18 2095.18,143.99 2096.02,142.87 2096.86,141.82 2097.71,140.83 2098.55,139.89 2099.4,139.01 2100.24,138.19 2101.09,137.4 2101.93,136.67 2102.78,135.96 2103.62,135.3 2104.47,134.66 2105.31,134.04 2106.16,133.43 2107,132.83 2107.85,132.24 2108.69,131.67 2109.54,131.11 2110.38,130.57 2111.23,130.03 2112.07,129.51 2112.91,129 2113.76,128.5 2114.6,128.01 2115.45,127.54 2116.29,127.07 2117.14,126.62 2117.98,126.18 2118.83,125.74 2119.67,125.32 2120.52,124.91 2121.36,124.51 2122.21,124.12 2123.05,123.73 2123.9,123.36 2124.74,123 2125.59,122.65 2126.43,122.3 2127.28,121.97 2128.12,121.64 2128.96,121.32 2129.81,121.01 2130.65,120.71 2131.5,120.41 2132.34,120.13 2133.19,119.85 2134.03,119.58 2134.88,119.31 2135.72,119.06 2136.57,118.81 2137.41,118.56 2138.26,118.33 2139.1,118.1 2139.95,117.87 2140.79,117.66 2141.64,117.44 2142.48,117.24 2143.33,117.04 2144.17,116.84 2145.01,116.65 2145.86,116.45 2146.7,116.26 2147.55,116.08 2148.39,115.89 2149.24,115.71 2150.08,115.53 2150.93,115.35 2151.77,115.18 2152.62,115.01 2153.46,114.84 2154.31,114.67 2155.15,114.5 2156,114.34 2156.84,114.18 2157.69,114.02 2158.53,113.86 2159.38,113.71 2160.22,113.56 2161.06,113.41 2161.91,113.26 2162.75,113.11 2163.6,112.97 2164.44,112.83 2165.29,112.69 2166.13,112.55 2166.98,112.42 2167.82,112.28 2168.67,112.15 2169.51,112.02 2170.36,111.89 2171.2,111.77 2172.05,111.64 2172.89,111.52 2173.74,111.4 2174.58,111.28 2175.43,111.16 2176.27,111.04 2177.12,110.93 2177.96,110.81 2178.8,110.7 2179.65,110.59 2180.49,110.49 2181.34,110.38 2182.18,110.27 2183.03,110.17 2183.87,110.07 2184.72,109.96 2185.56,109.86 2186.41,109.77 2187.25,109.67 2188.1,109.57 2188.94,109.48 2189.79,109.38 2190.63,109.29 2191.48,109.2 2192.32,109.11 2193.17,109.02 2194.01,108.93 2194.85,108.85 2195.7,108.76 2196.54,108.67 2197.39,108.59 2198.23,108.51 2199.08,108.42 2199.92,108.34 2200.77,108.26 2201.61,108.18 2202.46,108.1 2203.3,108.03 2204.15,107.95 2204.99,107.87 2205.84,107.8 2206.68,107.72 2207.53,107.65 2208.37,107.58 2209.22,107.51 2210.06,107.44 2210.9,107.37 2211.75,107.3 2212.59,107.23 2213.44,107.16 2214.28,107.1 2215.13,107.03 2215.97,106.96 2216.82,106.9 2217.66,106.84 2218.51,106.77 2219.35,106.71 2220.2,106.65 2221.04,106.59 2221.89,106.53 2222.73,106.47 2223.58,106.41 2224.42,106.35 2225.27,106.29 2226.11,106.23 2226.95,106.18 2227.8,106.12 2228.64,106.06 2229.49,106.01 2230.33,105.95 2231.18,105.9 2232.02,105.85 2232.87,105.79 2233.71,105.74 2234.56,105.69 2235.4,105.63 2236.25,105.58 2237.09,105.53 2237.94,105.48 2238.78,105.43 2239.63,105.38 2240.47,105.33 2241.32,105.28 2242.16,105.23 2243,105.18 2243.85,105.13 2244.69,105.08 2245.54,105.03 2246.38,104.98 2247.23,104.94 2248.07,104.89 2248.92,104.84 2249.76,104.79 2250.61,104.75 2251.45,104.7 2252.3,104.65 2253.14,104.6 2253.99,104.56 2254.83,104.51 2255.68,104.46 2256.52,104.42 2257.37,104.37 2258.21,104.32 2259.05,104.28 2259.9,104.23 2260.74,104.18 2261.59,104.14 2262.43,104.09 2263.28,104.04 2264.12,104 2264.97,103.95 2265.81,103.9 2266.66,103.86 2267.5,103.81 2268.35,103.77 2269.19,103.72 2270.04,103.68 2270.88,103.63 2271.73,103.59 2272.57,103.54 2273.42,103.5 2274.26,103.45 2275.11,103.41 2275.95,103.37 2276.79,103.32 2277.64,103.28 2278.48,103.23 2279.33,103.19 2280.17,103.15 2281.02,103.11 2281.86,103.06 2282.71,103.02 2283.55,102.98 2284.4,102.94 2285.24,102.89 2286.09,102.85 2286.93,102.81 2287.78,102.77 2288.62,102.73 2289.47,102.69 2290.31,102.65 2291.16,102.61 2292,102.57 2292.84,102.53 2293.69,102.49 2294.53,102.45 2295.38,102.41 2296.22,102.37 2297.07,102.33 2297.91,102.29 2298.76,102.25 2299.6,102.22 2300.45,102.18 2301.29,102.14 2302.14,102.1 2302.98,102.07 2303.83,102.03 2304.67,101.99 2305.52,101.96 2306.36,101.92 2307.21,101.88 2308.05,101.85 2308.89,101.81 2309.74,101.78 2310.58,101.74 2311.43,101.71 2312.27,101.67 2313.12,101.64 2313.96,101.61 2314.81,101.57 2315.65,101.54 2316.5,101.51 2317.34,101.47 2318.19,101.44 2319.03,101.41 2319.88,101.38 2320.72,101.35 2321.57,101.31 2322.41,101.28 2323.26,101.25 2324.1,101.22" fill="none" stroke="#ee2a8a" stroke-width="2.6" stroke-linejoin="round" stroke-linecap="round"/>
<polyline points="1818.1,99.73 1818.94,99.75 1819.79,99.76 1820.63,99.78 1821.48,99.8 1822.32,99.82 1823.17,99.84 1824.01,99.86 1824.86,99.88 1825.7,99.9 1826.55,99.92 1827.39,99.94 1828.24,99.97 1829.08,99.99 1829.93,100.02 1830.77,100.04 1831.62,100.07 1832.46,100.09 1833.31,100.12 1834.15,100.15 1834.99,100.18 1835.84,100.21 1836.68,100.24 1837.53,100.27 1838.37,100.3 1839.22,100.33 1840.06,100.36 1840.91,100.4 1841.75,100.43 1842.6,100.46 1843.44,100.5 1844.29,100.53 1845.13,100.57 1845.98,100.6 1846.82,100.64 1847.67,100.68 1848.51,100.71 1849.36,100.75 1850.2,100.79 1851.04,100.83 1851.89,100.87 1852.73,100.91 1853.58,100.95 1854.42,100.99 1855.27,101.03 1856.11,101.08 1856.96,101.12 1857.8,101.16 1858.65,101.21 1859.49,101.25 1860.34,101.29 1861.18,101.34 1862.03,101.38 1862.87,101.43 1863.72,101.48 1864.56,101.52 1865.41,101.57 1866.25,101.62 1867.09,101.67 1867.94,101.71 1868.78,101.76 1869.63,101.81 1870.47,101.86 1871.32,101.91 1872.16,101.96 1873.01,102.01 1873.85,102.06 1874.7,102.11 1875.54,102.17 1876.39,102.22 1877.23,102.27 1878.08,102.32 1878.92,102.38 1879.77,102.43 1880.61,102.48 1881.46,102.54 1882.3,102.59 1883.15,102.64 1883.99,102.7 1884.83,102.75 1885.68,102.81 1886.52,102.87 1887.37,102.92 1888.21,102.98 1889.06,103.03 1889.9,103.09 1890.75,103.15 1891.59,103.21 1892.44,103.26 1893.28,103.32 1894.13,103.38 1894.97,103.44 1895.82,103.5 1896.66,103.55 1897.51,103.61 1898.35,103.67 1899.2,103.73 1900.04,103.79 1900.88,103.85 1901.73,103.91 1902.57,103.97 1903.42,104.03 1904.26,104.09 1905.11,104.15 1905.95,104.21 1906.8,104.27 1907.64,104.33 1908.49,104.39 1909.33,104.45 1910.18,104.52 1911.02,104.58 1911.87,104.64 1912.71,104.7 1913.56,104.76 1914.4,104.82 1915.25,104.89 1916.09,104.95 1916.93,105.01 1917.78,105.08 1918.62,105.14 1919.47,105.21 1920.31,105.27 1921.16,105.34 1922,105.4 1922.85,105.47 1923.69,105.53 1924.54,105.6 1925.38,105.67 1926.23,105.74 1927.07,105.81 1927.92,105.88 1928.76,105.95 1929.61,106.02 1930.45,106.09 1931.3,106.16 1932.14,106.23 1932.98,106.31 1933.83,106.38 1934.67,106.46 1935.52,106.53 1936.36,106.61 1937.21,106.68 1938.05,106.76 1938.9,106.84 1939.74,106.92 1940.59,107 1941.43,107.08 1942.28,107.16 1943.12,107.24 1943.97,107.33 1944.81,107.41 1945.66,107.5 1946.5,107.58 1947.35,107.67 1948.19,107.76 1949.03,107.84 1949.88,107.93 1950.72,108.02 1951.57,108.12 1952.41,108.21 1953.26,108.3 1954.1,108.4 1954.95,108.49 1955.79,108.59 1956.64,108.69 1957.48,108.78 1958.33,108.88 1959.17,108.98 1960.02,109.09 1960.86,109.19 1961.71,109.29 1962.55,109.4 1963.4,109.5 1964.24,109.61 1965.08,109.72 1965.93,109.83 1966.77,109.94 1967.62,110.05 1968.46,110.17 1969.31,110.28 1970.15,110.4 1971,110.52 1971.84,110.64 1972.69,110.76 1973.53,110.88 1974.38,111 1975.22,111.12 1976.07,111.25 1976.91,111.38 1977.76,111.5 1978.6,111.63 1979.45,111.77 1980.29,111.9 1981.14,112.03 1981.98,112.17 1982.82,112.3 1983.67,112.44 1984.51,112.58 1985.36,112.73 1986.2,112.87 1987.05,113.01 1987.89,113.16 1988.74,113.31 1989.58,113.46 1990.43,113.61 1991.27,113.76 1992.12,113.92 1992.96,114.08 1993.81,114.25 1994.65,114.42 1995.5,114.59 1996.34,114.78 1997.19,114.96 1998.03,115.15 1998.87,115.35 1999.72,115.55 2000.56,115.75 2001.41,115.96 2002.25,116.18 2003.1,116.4 2003.94,116.63 2004.79,116.86 2005.63,117.1 2006.48,117.35 2007.32,117.6 2008.17,117.85 2009.01,118.11 2009.86,118.38 2010.7,118.66 2011.55,118.94 2012.39,119.22 2013.24,119.52 2014.08,119.82 2014.92,120.12 2015.77,120.43 2016.61,120.75 2017.46,121.08 2018.3,121.41 2019.15,121.75 2019.99,122.1 2020.84,122.45 2021.68,122.82 2022.53,123.18 2023.37,123.56 2024.22,123.94 2025.06,124.33 2025.91,124.73 2026.75,125.14 2027.6,125.55 2028.44,125.97 2029.29,126.4 2030.13,126.84 2030.97,127.3 2031.82,127.78 2032.66,128.28 2033.51,128.81 2034.35,129.36 2035.2,129.94 2036.04,130.55 2036.89,131.19 2037.73,131.86 2038.58,132.57 2039.42,133.31 2040.27,134.09 2041.11,134.91 2041.96,135.77 2042.8,136.67 2043.65,137.61 2044.49,138.6 2045.34,139.63 2046.18,140.72 2047.02,141.85 2047.87,143.04 2048.71,144.28 2049.56,145.63 2050.4,147.21 2050.86,148.15 2051,148.45 2051.13,148.74 2051.25,149.01 2051.27,149.05 2051.4,149.36 2051.54,149.67 2051.67,149.99 2051.81,150.32 2051.94,150.65 2052.08,150.99 2052.09,151.03 2052.21,151.33 2052.35,151.68 2052.48,152.04 2052.62,152.4 2052.76,152.76 2052.89,153.13 2052.94,153.26 2053.03,153.51 2053.16,153.89 2053.3,154.28 2053.43,154.67 2053.57,155.07 2053.7,155.48 2053.78,155.72 2053.84,155.89 2053.97,156.31 2054.11,156.73 2054.24,157.15 2054.38,157.59 2054.52,158.02 2054.63,158.39 2054.65,158.47 2054.79,158.92 2054.92,159.37 2055.06,159.83 2055.19,160.3 2055.33,160.77 2055.46,161.25 2055.47,161.28 2055.6,161.73 2055.73,162.22 2055.87,162.71 2056,163.21 2056.14,163.71 2056.28,164.22 2056.32,164.38 2056.41,164.74 2056.55,165.26 2056.68,165.78 2056.82,166.31 2056.95,166.85 2057.09,167.39 2057.16,167.69 2057.22,167.94 2057.36,168.49 2057.49,169.05 2057.63,169.62 2057.76,170.19 2057.9,170.76 2058.01,171.22 2058.04,171.34 2058.17,171.93 2058.31,172.52 2058.44,173.11 2058.58,173.72 2058.71,174.32 2058.85,174.94 2058.85,174.95 2058.98,175.56 2059.12,176.19 2059.25,176.83 2059.39,177.48 2059.52,178.14 2059.66,178.81 2059.7,178.99 2059.8,179.5 2059.93,180.19 2060.07,180.9 2060.2,181.62 2060.34,182.35 2060.47,183.1 2060.54,183.48 2060.61,183.86 2060.74,184.64 2060.88,185.43 2061.01,186.24 2061.15,187.06 2061.28,187.9 2061.39,188.54 2061.42,188.76 2061.56,189.63 2061.69,190.53 2061.83,191.44 2061.96,192.37 2062.1,193.33 2062.23,194.28 2062.23,194.3 2062.37,195.29 2062.5,196.31 2062.64,197.34 2062.77,198.4 2062.91,199.48 2063.04,200.59 2063.07,200.84 2063.18,201.72 2063.32,202.87 2063.45,204.05 2063.59,205.25 2063.72,206.48 2063.86,207.74 2063.92,208.33 2063.99,209.02 2064.13,210.33 2064.26,211.67 2064.4,213.03 2064.53,214.43 2064.67,215.85 2064.76,216.87 2064.8,217.31 2064.94,218.79 2065.08,220.31 2065.21,221.85 2065.35,223.43 2065.48,225.04 2065.61,226.59 2065.62,226.69 2065.75,228.36 2065.89,230.07 2066.02,231.82 2066.16,233.6 2066.29,235.41 2066.43,237.27 2066.45,237.61 2066.56,239.16 2066.7,241.28 2066.84,243.73 2066.97,246.5 2067.11,249.55 2067.24,252.86 2067.3,254.33 2067.38,256.41 2067.51,260.18 2067.65,264.14 2067.78,268.28 2067.92,272.56 2068.05,276.96 2068.14,279.94 2068.19,281.47 2068.32,286.06 2068.46,290.71 2068.6,295.39 2068.73,300.08 2068.87,304.75 2068.99,308.94 2069,309.39 2069.14,313.98 2069.27,318.48 2069.41,322.88 2069.54,327.15 2069.68,331.51 2069.81,336.49 2069.83,337.23 2069.95,341.93 2070.08,347.61 2070.22,353.32 2070.36,358.85 2070.49,363.99 2070.63,368.52 2070.68,370.04 2070.76,372.24 2070.9,374.92 2071.03,376.37 2071.17,376.14 2071.3,372.95 2071.44,367.11 2071.52,362.39 2071.57,359.15 2071.71,349.62 2071.84,339.07 2071.98,328.04 2072.12,317.08 2072.25,306.74 2072.37,298.76 2072.39,297.56 2072.52,290.09 2072.66,284.76 2072.79,280.17 2072.93,275.7 2073.06,271.36 2073.2,267.14 2073.21,266.73 2073.33,263.04 2073.47,259.06 2073.6,255.2 2073.74,251.46 2073.88,247.83 2074.01,244.31 2074.06,243.15 2074.15,240.91 2074.28,237.63 2074.42,234.45 2074.55,231.38 2074.69,228.42 2074.82,225.56 2074.9,223.96 2074.96,222.82 2075.09,220.17 2075.23,217.63 2075.36,215.19 2075.5,212.85 2075.64,210.61 2075.75,208.85 2075.77,208.46 2075.91,206.42 2076.04,204.46 2076.18,202.6 2076.31,200.84 2076.45,199.16 2076.58,197.57 2076.59,197.49 2076.72,196.07 2076.85,194.6 2076.99,193.15 2077.12,191.72 2077.26,190.31 2077.4,188.92 2077.44,188.51 2077.53,187.55 2077.67,186.2 2077.8,184.87 2077.94,183.56 2078.07,182.27 2078.21,181 2078.28,180.33 2078.34,179.75 2078.48,178.52 2078.61,177.31 2078.75,176.11 2078.88,174.94 2079.02,173.79 2079.13,172.91 2079.16,172.65 2079.29,171.54 2079.43,170.44 2079.56,169.37 2079.7,168.31 2079.83,167.27 2079.97,166.25 2079.97,166.24 2080.1,165.25 2080.24,164.27 2080.37,163.31 2080.51,162.37 2080.64,161.44 2080.78,160.54 2080.81,160.31 2080.92,159.65 2081.05,158.78 2081.19,157.93 2081.32,157.1 2081.46,156.28 2081.59,155.49 2081.66,155.1 2081.73,154.71 2081.86,153.95 2082,153.21 2082.13,152.49 2082.27,151.78 2082.4,151.1 2082.5,150.61 2082.54,150.43 2082.68,149.78 2082.81,149.15 2082.95,148.53 2083.08,147.93 2083.22,147.36 2083.35,146.81 2083.35,146.79 2083.49,146.25 2083.62,145.72 2083.76,145.21 2083.89,144.72 2084.03,144.25 2084.16,143.79 2084.19,143.69 2084.3,143.35 2084.44,142.93 2084.57,142.52 2084.71,142.13 2084.84,141.76 2084.98,141.39 2085.04,141.22 2085.11,141.02 2085.25,140.66 2085.38,140.3 2085.52,139.94 2085.65,139.58 2085.79,139.23 2085.88,138.99 2085.92,138.88 2086.06,138.54 2086.2,138.19 2086.33,137.85 2086.47,137.52 2086.6,137.18 2086.73,136.87 2086.74,136.85 2086.87,136.52 2087.01,136.2 2087.14,135.87 2087.28,135.55 2087.41,135.24 2087.55,134.92 2087.57,134.87 2087.68,134.61 2087.82,134.3 2087.96,133.99 2088.09,133.69 2088.23,133.39 2088.36,133.09 2088.42,132.97 2088.5,132.79 2088.63,132.5 2088.77,132.21 2088.9,131.92 2089.04,131.64 2089.17,131.35 2089.26,131.17 2089.31,131.07 2089.44,130.8 2089.58,130.52 2089.72,130.25 2089.85,129.98 2089.99,129.71 2090.11,129.47 2090.12,129.44 2090.26,129.18 2090.39,128.92 2090.53,128.66 2090.66,128.41 2090.8,128.15 2090.93,127.9 2090.95,127.87 2091.07,127.65 2091.2,127.41 2091.34,127.16 2091.8,126.36 2092.64,124.93 2093.49,123.59 2094.33,122.32 2095.18,121.13 2096.02,120.01 2096.86,118.96 2097.71,117.96 2098.55,117.03 2099.4,116.15 2100.24,115.32 2101.09,114.54 2101.93,113.8 2102.78,113.1 2103.62,112.44 2104.47,111.8 2105.31,111.17 2106.16,110.56 2107,109.97 2107.85,109.38 2108.69,108.81 2109.54,108.25 2110.38,107.71 2111.23,107.17 2112.07,106.65 2112.91,106.14 2113.76,105.64 2114.6,105.15 2115.45,104.68 2116.29,104.21 2117.14,103.76 2117.98,103.31 2118.83,102.88 2119.67,102.46 2120.52,102.05 2121.36,101.65 2122.21,101.25 2123.05,100.87 2123.9,100.5 2124.74,100.14 2125.59,99.78 2126.43,99.44 2127.28,99.1 2128.12,98.78 2128.96,98.46 2129.81,98.15 2130.65,97.85 2131.5,97.55 2132.34,97.26 2133.19,96.99 2134.03,96.71 2134.88,96.45 2135.72,96.19 2136.57,95.94 2137.41,95.7 2138.26,95.47 2139.1,95.24 2139.95,95.01 2140.79,94.79 2141.64,94.58 2142.48,94.38 2143.33,94.18 2144.17,93.98 2145.01,93.78 2145.86,93.59 2146.7,93.4 2147.55,93.21 2148.39,93.03 2149.24,92.85 2150.08,92.67 2150.93,92.49 2151.77,92.32 2152.62,92.14 2153.46,91.97 2154.31,91.81 2155.15,91.64 2156,91.48 2156.84,91.32 2157.69,91.16 2158.53,91 2159.38,90.85 2160.22,90.7 2161.06,90.55 2161.91,90.4 2162.75,90.25 2163.6,90.11 2164.44,89.97 2165.29,89.83 2166.13,89.69 2166.98,89.55 2167.82,89.42 2168.67,89.29 2169.51,89.16 2170.36,89.03 2171.2,88.9 2172.05,88.78 2172.89,88.66 2173.74,88.53 2174.58,88.41 2175.43,88.3 2176.27,88.18 2177.12,88.07 2177.96,87.95 2178.8,87.84 2179.65,87.73 2180.49,87.62 2181.34,87.52 2182.18,87.41 2183.03,87.31 2183.87,87.2 2184.72,87.1 2185.56,87 2186.41,86.9 2187.25,86.81 2188.1,86.71 2188.94,86.62 2189.79,86.52 2190.63,86.43 2191.48,86.34 2192.32,86.25 2193.17,86.16 2194.01,86.07 2194.85,85.98 2195.7,85.9 2196.54,85.81 2197.39,85.73 2198.23,85.65 2199.08,85.56 2199.92,85.48 2200.77,85.4 2201.61,85.32 2202.46,85.24 2203.3,85.16 2204.15,85.09 2204.99,85.01 2205.84,84.94 2206.68,84.86 2207.53,84.79 2208.37,84.72 2209.22,84.65 2210.06,84.57 2210.9,84.5 2211.75,84.44 2212.59,84.37 2213.44,84.3 2214.28,84.23 2215.13,84.17 2215.97,84.1 2216.82,84.04 2217.66,83.97 2218.51,83.91 2219.35,83.85 2220.2,83.79 2221.04,83.73 2221.89,83.66 2222.73,83.6 2223.58,83.55 2224.42,83.49 2225.27,83.43 2226.11,83.37 2226.95,83.31 2227.8,83.26 2228.64,83.2 2229.49,83.15 2230.33,83.09 2231.18,83.04 2232.02,82.98 2232.87,82.93 2233.71,82.88 2234.56,82.82 2235.4,82.77 2236.25,82.72 2237.09,82.67 2237.94,82.62 2238.78,82.57 2239.63,82.52 2240.47,82.47 2241.32,82.42 2242.16,82.37 2243,82.32 2243.85,82.27 2244.69,82.22 2245.54,82.17 2246.38,82.12 2247.23,82.07 2248.07,82.03 2248.92,81.98 2249.76,81.93 2250.61,81.88 2251.45,81.84 2252.3,81.79 2253.14,81.74 2253.99,81.69 2254.83,81.65 2255.68,81.6 2256.52,81.55 2257.37,81.51 2258.21,81.46 2259.05,81.41 2259.9,81.37 2260.74,81.32 2261.59,81.27 2262.43,81.23 2263.28,81.18 2264.12,81.13 2264.97,81.09 2265.81,81.04 2266.66,81 2267.5,80.95 2268.35,80.9 2269.19,80.86 2270.04,80.81 2270.88,80.77 2271.73,80.72 2272.57,80.68 2273.42,80.64 2274.26,80.59 2275.11,80.55 2275.95,80.5 2276.79,80.46 2277.64,80.42 2278.48,80.37 2279.33,80.33 2280.17,80.29 2281.02,80.24 2281.86,80.2 2282.71,80.16 2283.55,80.12 2284.4,80.07 2285.24,80.03 2286.09,79.99 2286.93,79.95 2287.78,79.91 2288.62,79.87 2289.47,79.83 2290.31,79.79 2291.16,79.75 2292,79.71 2292.84,79.67 2293.69,79.63 2294.53,79.59 2295.38,79.55 2296.22,79.51 2297.07,79.47 2297.91,79.43 2298.76,79.39 2299.6,79.35 2300.45,79.32 2301.29,79.28 2302.14,79.24 2302.98,79.2 2303.83,79.17 2304.67,79.13 2305.52,79.09 2306.36,79.06 2307.21,79.02 2308.05,78.99 2308.89,78.95 2309.74,78.92 2310.58,78.88 2311.43,78.85 2312.27,78.81 2313.12,78.78 2313.96,78.74 2314.81,78.71 2315.65,78.68 2316.5,78.64 2317.34,78.61 2318.19,78.58 2319.03,78.55 2319.88,78.52 2320.72,78.48 2321.57,78.45 2322.41,78.42 2323.26,78.39 2324.1,78.36" fill="none" stroke="#2a2a8a" stroke-width="2.6" stroke-linejoin="round" stroke-linecap="round"/>
<polyline points="1818.1,97.74 1818.94,97.76 1819.79,97.78 1820.63,97.79 1821.48,97.81 1822.32,97.83 1823.17,97.85 1824.01,97.87 1824.86,97.89 1825.7,97.91 1826.55,97.93 1827.39,97.96 1828.24,97.98 1829.08,98 1829.93,98.03 1830.77,98.05 1831.62,98.08 1832.46,98.11 1833.31,98.13 1834.15,98.16 1834.99,98.19 1835.84,98.22 1836.68,98.25 1837.53,98.28 1838.37,98.31 1839.22,98.34 1840.06,98.37 1840.91,98.41 1841.75,98.44 1842.6,98.47 1843.44,98.51 1844.29,98.54 1845.13,98.58 1845.98,98.62 1846.82,98.65 1847.67,98.69 1848.51,98.73 1849.36,98.76 1850.2,98.8 1851.04,98.84 1851.89,98.88 1852.73,98.92 1853.58,98.96 1854.42,99 1855.27,99.05 1856.11,99.09 1856.96,99.13 1857.8,99.17 1858.65,99.22 1859.49,99.26 1860.34,99.31 1861.18,99.35 1862.03,99.4 1862.87,99.44 1863.72,99.49 1864.56,99.54 1865.41,99.58 1866.25,99.63 1867.09,99.68 1867.94,99.73 1868.78,99.77 1869.63,99.82 1870.47,99.87 1871.32,99.92 1872.16,99.97 1873.01,100.02 1873.85,100.07 1874.7,100.13 1875.54,100.18 1876.39,100.23 1877.23,100.28 1878.08,100.33 1878.92,100.39 1879.77,100.44 1880.61,100.49 1881.46,100.55 1882.3,100.6 1883.15,100.66 1883.99,100.71 1884.83,100.77 1885.68,100.82 1886.52,100.88 1887.37,100.93 1888.21,100.99 1889.06,101.05 1889.9,101.1 1890.75,101.16 1891.59,101.22 1892.44,101.28 1893.28,101.33 1894.13,101.39 1894.97,101.45 1895.82,101.51 1896.66,101.57 1897.51,101.62 1898.35,101.68 1899.2,101.74 1900.04,101.8 1900.88,101.86 1901.73,101.92 1902.57,101.98 1903.42,102.04 1904.26,102.1 1905.11,102.16 1905.95,102.22 1906.8,102.28 1907.64,102.34 1908.49,102.41 1909.33,102.47 1910.18,102.53 1911.02,102.59 1911.87,102.65 1912.71,102.71 1913.56,102.77 1914.4,102.84 1915.25,102.9 1916.09,102.96 1916.93,103.02 1917.78,103.09 1918.62,103.15 1919.47,103.22 1920.31,103.28 1921.16,103.35 1922,103.41 1922.85,103.48 1923.69,103.55 1924.54,103.61 1925.38,103.68 1926.23,103.75 1927.07,103.82 1927.92,103.89 1928.76,103.96 1929.61,104.03 1930.45,104.1 1931.3,104.17 1932.14,104.25 1932.98,104.32 1933.83,104.39 1934.67,104.47 1935.52,104.54 1936.36,104.62 1937.21,104.7 1938.05,104.77 1938.9,104.85 1939.74,104.93 1940.59,105.01 1941.43,105.09 1942.28,105.17 1943.12,105.26 1943.97,105.34 1944.81,105.42 1945.66,105.51 1946.5,105.59 1947.35,105.68 1948.19,105.77 1949.03,105.86 1949.88,105.95 1950.72,106.04 1951.57,106.13 1952.41,106.22 1953.26,106.31 1954.1,106.41 1954.95,106.5 1955.79,106.6 1956.64,106.7 1957.48,106.8 1958.33,106.9 1959.17,107 1960.02,107.1 1960.86,107.2 1961.71,107.3 1962.55,107.41 1963.4,107.52 1964.24,107.62 1965.08,107.73 1965.93,107.84 1966.77,107.95 1967.62,108.07 1968.46,108.18 1969.31,108.29 1970.15,108.41 1971,108.53 1971.84,108.65 1972.69,108.77 1973.53,108.89 1974.38,109.01 1975.22,109.14 1976.07,109.26 1976.91,109.39 1977.76,109.52 1978.6,109.65 1979.45,109.78 1980.29,109.91 1981.14,110.04 1981.98,110.18 1982.82,110.32 1983.67,110.46 1984.51,110.6 1985.36,110.74 1986.2,110.88 1987.05,111.02 1987.89,111.17 1988.74,111.32 1989.58,111.47 1990.43,111.62 1991.27,111.77 1992.12,111.93 1992.96,112.09 1993.81,112.26 1994.65,112.43 1995.5,112.61 1996.34,112.79 1997.19,112.97 1998.03,113.16 1998.87,113.36 1999.72,113.56 2000.56,113.77 2001.41,113.98 2002.25,114.19 2003.1,114.42 2003.94,114.64 2004.79,114.88 2005.63,115.11 2006.48,115.36 2007.32,115.61 2008.17,115.86 2009.01,116.13 2009.86,116.39 2010.7,116.67 2011.55,116.95 2012.39,117.24 2013.24,117.53 2014.08,117.83 2014.92,118.13 2015.77,118.45 2016.61,118.77 2017.46,119.09 2018.3,119.43 2019.15,119.77 2019.99,120.11 2020.84,120.47 2021.68,120.83 2022.53,121.2 2023.37,121.57 2024.22,121.95 2025.06,122.35 2025.91,122.74 2026.75,123.15 2027.6,123.56 2028.44,123.99 2029.29,124.41 2030.13,124.85 2030.97,125.31 2031.82,125.79 2032.66,126.29 2033.51,126.82 2034.35,127.37 2035.2,127.95 2036.04,128.56 2036.89,129.2 2037.73,129.87 2038.58,130.58 2039.42,131.32 2040.27,132.1 2041.11,132.92 2041.96,133.78 2042.8,134.68 2043.65,135.62 2044.49,136.61 2045.34,137.65 2046.18,138.73 2047.02,139.86 2047.87,141.05 2048.71,142.29 2049.56,143.65 2050.4,145.22 2050.86,146.17 2051,146.46 2051.13,146.76 2051.25,147.02 2051.27,147.06 2051.4,147.37 2051.54,147.68 2051.67,148.01 2051.81,148.33 2051.94,148.66 2052.08,149 2052.09,149.04 2052.21,149.35 2052.35,149.69 2052.48,150.05 2052.62,150.41 2052.76,150.77 2052.89,151.15 2052.94,151.28 2053.03,151.52 2053.16,151.91 2053.3,152.29 2053.43,152.69 2053.57,153.09 2053.7,153.49 2053.78,153.73 2053.84,153.9 2053.97,154.32 2054.11,154.74 2054.24,155.17 2054.38,155.6 2054.52,156.04 2054.63,156.4 2054.65,156.48 2054.79,156.93 2054.92,157.38 2055.06,157.84 2055.19,158.31 2055.33,158.78 2055.46,159.26 2055.47,159.29 2055.6,159.74 2055.73,160.23 2055.87,160.72 2056,161.22 2056.14,161.72 2056.28,162.23 2056.32,162.39 2056.41,162.75 2056.55,163.27 2056.68,163.79 2056.82,164.33 2056.95,164.86 2057.09,165.41 2057.16,165.7 2057.22,165.95 2057.36,166.51 2057.49,167.06 2057.63,167.63 2057.76,168.2 2057.9,168.77 2058.01,169.23 2058.04,169.35 2058.17,169.94 2058.31,170.53 2058.44,171.13 2058.58,171.73 2058.71,172.33 2058.85,172.95 2058.85,172.97 2058.98,173.57 2059.12,174.2 2059.25,174.84 2059.39,175.49 2059.52,176.15 2059.66,176.83 2059.7,177.01 2059.8,177.51 2059.93,178.2 2060.07,178.91 2060.2,179.63 2060.34,180.36 2060.47,181.11 2060.54,181.49 2060.61,181.87 2060.74,182.65 2060.88,183.44 2061.01,184.25 2061.15,185.07 2061.28,185.91 2061.39,186.55 2061.42,186.77 2061.56,187.65 2061.69,188.54 2061.83,189.45 2061.96,190.38 2062.1,191.34 2062.23,192.29 2062.23,192.31 2062.37,193.3 2062.5,194.32 2062.64,195.35 2062.77,196.41 2062.91,197.49 2063.04,198.6 2063.07,198.85 2063.18,199.73 2063.32,200.88 2063.45,202.06 2063.59,203.26 2063.72,204.49 2063.86,205.75 2063.92,206.34 2063.99,207.03 2064.13,208.34 2064.26,209.68 2064.4,211.04 2064.53,212.44 2064.67,213.86 2064.76,214.88 2064.8,215.32 2064.94,216.8 2065.08,218.32 2065.21,219.86 2065.35,221.44 2065.48,223.05 2065.61,224.6 2065.62,224.7 2065.75,226.37 2065.89,228.09 2066.02,229.83 2066.16,231.61 2066.29,233.43 2066.43,235.28 2066.45,235.62 2066.56,237.17 2066.7,239.26 2066.84,241.65 2066.97,244.32 2067.11,247.25 2067.24,250.42 2067.3,251.83 2067.38,253.82 2067.51,257.42 2067.65,261.22 2067.78,265.19 2067.92,269.33 2068.05,273.6 2068.14,276.49 2068.19,277.99 2068.32,282.5 2068.46,287.09 2068.6,291.75 2068.73,296.48 2068.87,301.24 2068.99,305.54 2069,306.02 2069.14,310.8 2069.27,315.58 2069.41,320.32 2069.54,325.02 2069.68,329.97 2069.81,335.86 2069.83,336.75 2069.95,342.47 2070.08,349.5 2070.22,356.67 2070.36,363.68 2070.49,370.24 2070.63,376.07 2070.68,378.04 2070.76,380.88 2070.9,384.37 2071.03,386.25 2071.17,386.1 2071.3,383.12 2071.44,377.64 2071.52,373.21 2071.57,370.17 2071.71,361.22 2071.84,351.3 2071.98,340.91 2072.12,330.57 2072.25,320.78 2072.37,313.19 2072.39,312.05 2072.52,304.88 2072.66,299.7 2072.79,295.19 2072.93,290.79 2073.06,286.5 2073.2,282.33 2073.21,281.93 2073.33,278.27 2073.47,274.32 2073.6,270.48 2073.74,266.75 2073.88,263.13 2074.01,259.62 2074.06,258.46 2074.15,256.22 2074.28,252.92 2074.42,249.72 2074.55,246.64 2074.69,243.66 2074.82,240.78 2074.9,239.16 2074.96,238 2075.09,235.33 2075.23,232.76 2075.36,230.29 2075.5,227.92 2075.64,225.65 2075.75,223.86 2075.77,223.48 2075.91,221.4 2076.04,219.43 2076.18,217.55 2076.31,215.77 2076.45,214.08 2076.58,212.49 2076.59,212.4 2076.72,210.98 2076.85,209.51 2076.99,208.06 2077.12,206.63 2077.26,205.22 2077.4,203.83 2077.44,203.42 2077.53,202.46 2077.67,201.11 2077.8,199.78 2077.94,198.47 2078.07,197.18 2078.21,195.91 2078.28,195.24 2078.34,194.66 2078.48,193.43 2078.61,192.22 2078.75,191.02 2078.88,189.85 2079.02,188.7 2079.13,187.82 2079.16,187.56 2079.29,186.45 2079.43,185.35 2079.56,184.28 2079.7,183.22 2079.83,182.18 2079.97,181.16 2079.97,181.15 2080.1,180.16 2080.24,179.18 2080.37,178.22 2080.51,177.28 2080.64,176.35 2080.78,175.45 2080.81,175.22 2080.92,174.56 2081.05,173.69 2081.19,172.84 2081.32,172.01 2081.46,171.19 2081.59,170.4 2081.66,170.01 2081.73,169.62 2081.86,168.86 2082,168.12 2082.13,167.4 2082.27,166.69 2082.4,166.01 2082.5,165.52 2082.54,165.34 2082.68,164.69 2082.81,164.06 2082.95,163.44 2083.08,162.84 2083.22,162.27 2083.35,161.72 2083.35,161.7 2083.49,161.16 2083.62,160.63 2083.76,160.12 2083.89,159.63 2084.03,159.16 2084.16,158.7 2084.19,158.6 2084.3,158.26 2084.44,157.84 2084.57,157.43 2084.71,157.04 2084.84,156.67 2084.98,156.3 2085.04,156.13 2085.11,155.93 2085.25,155.57 2085.38,155.21 2085.52,154.85 2085.65,154.49 2085.79,154.14 2085.88,153.9 2085.92,153.79 2086.06,153.45 2086.2,153.1 2086.33,152.76 2086.47,152.43 2086.6,152.09 2086.73,151.78 2086.74,151.76 2086.87,151.43 2087.01,151.11 2087.14,150.78 2087.28,150.46 2087.41,150.15 2087.55,149.83 2087.57,149.78 2087.68,149.52 2087.82,149.21 2087.96,148.9 2088.09,148.6 2088.23,148.3 2088.36,148 2088.42,147.88 2088.5,147.7 2088.63,147.41 2088.77,147.12 2088.9,146.83 2089.04,146.55 2089.17,146.26 2089.26,146.08 2089.31,145.98 2089.44,145.71 2089.58,145.43 2089.72,145.16 2089.85,144.89 2089.99,144.62 2090.11,144.38 2090.12,144.35 2090.26,144.09 2090.39,143.83 2090.53,143.57 2090.66,143.32 2090.8,143.06 2090.93,142.81 2090.95,142.78 2091.07,142.56 2091.2,142.32 2091.34,142.07 2091.8,141.27 2092.64,139.84 2093.49,138.5 2094.33,137.23 2095.18,136.04 2096.02,134.92 2096.86,133.87 2097.71,132.87 2098.55,131.94 2099.4,131.06 2100.24,130.23 2101.09,129.45 2101.93,128.71 2102.78,128.01 2103.62,127.35 2104.47,126.71 2105.31,126.08 2106.16,125.47 2107,124.88 2107.85,124.29 2108.69,123.72 2109.54,123.16 2110.38,122.62 2111.23,122.08 2112.07,121.56 2112.91,121.05 2113.76,120.55 2114.6,120.06 2115.45,119.59 2116.29,119.12 2117.14,118.67 2117.98,118.22 2118.83,117.79 2119.67,117.37 2120.52,116.96 2121.36,116.56 2122.21,116.16 2123.05,115.78 2123.9,115.41 2124.74,115.05 2125.59,114.69 2126.43,114.35 2127.28,114.01 2128.12,113.69 2128.96,113.37 2129.81,113.06 2130.65,112.76 2131.5,112.46 2132.34,112.17 2133.19,111.9 2134.03,111.62 2134.88,111.36 2135.72,111.1 2136.57,110.85 2137.41,110.61 2138.26,110.38 2139.1,110.15 2139.95,109.92 2140.79,109.7 2141.64,109.49 2142.48,109.29 2143.33,109.09 2144.17,108.89 2145.01,108.69 2145.86,108.5 2146.7,108.31 2147.55,108.12 2148.39,107.94 2149.24,107.76 2150.08,107.58 2150.93,107.4 2151.77,107.23 2152.62,107.05 2153.46,106.88 2154.31,106.72 2155.15,106.55 2156,106.39 2156.84,106.23 2157.69,106.07 2158.53,105.91 2159.38,105.76 2160.22,105.61 2161.06,105.46 2161.91,105.31 2162.75,105.16 2163.6,105.02 2164.44,104.88 2165.29,104.74 2166.13,104.6 2166.98,104.46 2167.82,104.33 2168.67,104.2 2169.51,104.07 2170.36,103.94 2171.2,103.81 2172.05,103.69 2172.89,103.57 2173.74,103.44 2174.58,103.32 2175.43,103.21 2176.27,103.09 2177.12,102.98 2177.96,102.86 2178.8,102.75 2179.65,102.64 2180.49,102.53 2181.34,102.43 2182.18,102.32 2183.03,102.22 2183.87,102.11 2184.72,102.01 2185.56,101.91 2186.41,101.81 2187.25,101.72 2188.1,101.62 2188.94,101.53 2189.79,101.43 2190.63,101.34 2191.48,101.25 2192.32,101.16 2193.17,101.07 2194.01,100.98 2194.85,100.89 2195.7,100.81 2196.54,100.72 2197.39,100.64 2198.23,100.56 2199.08,100.47 2199.92,100.39 2200.77,100.31 2201.61,100.23 2202.46,100.15 2203.3,100.07 2204.15,100 2204.99,99.92 2205.84,99.85 2206.68,99.77 2207.53,99.7 2208.37,99.63 2209.22,99.56 2210.06,99.48 2210.9,99.41 2211.75,99.35 2212.59,99.28 2213.44,99.21 2214.28,99.14 2215.13,99.08 2215.97,99.01 2216.82,98.95 2217.66,98.88 2218.51,98.82 2219.35,98.76 2220.2,98.7 2221.04,98.64 2221.89,98.57 2222.73,98.51 2223.58,98.46 2224.42,98.4 2225.27,98.34 2226.11,98.28 2226.95,98.22 2227.8,98.17 2228.64,98.11 2229.49,98.06 2230.33,98 2231.18,97.95 2232.02,97.89 2232.87,97.84 2233.71,97.79 2234.56,97.73 2235.4,97.68 2236.25,97.63 2237.09,97.58 2237.94,97.53 2238.78,97.48 2239.63,97.43 2240.47,97.38 2241.32,97.33 2242.16,97.28 2243,97.23 2243.85,97.18 2244.69,97.13 2245.54,97.08 2246.38,97.03 2247.23,96.98 2248.07,96.94 2248.92,96.89 2249.76,96.84 2250.61,96.79 2251.45,96.75 2252.3,96.7 2253.14,96.65 2253.99,96.6 2254.83,96.56 2255.68,96.51 2256.52,96.46 2257.37,96.42 2258.21,96.37 2259.05,96.32 2259.9,96.28 2260.74,96.23 2261.59,96.18 2262.43,96.14 2263.28,96.09 2264.12,96.04 2264.97,96 2265.81,95.95 2266.66,95.91 2267.5,95.86 2268.35,95.81 2269.19,95.77 2270.04,95.72 2270.88,95.68 2271.73,95.63 2272.57,95.59 2273.42,95.55 2274.26,95.5 2275.11,95.46 2275.95,95.41 2276.79,95.37 2277.64,95.33 2278.48,95.28 2279.33,95.24 2280.17,95.2 2281.02,95.15 2281.86,95.11 2282.71,95.07 2283.55,95.03 2284.4,94.98 2285.24,94.94 2286.09,94.9 2286.93,94.86 2287.78,94.82 2288.62,94.78 2289.47,94.74 2290.31,94.7 2291.16,94.66 2292,94.62 2292.84,94.58 2293.69,94.54 2294.53,94.5 2295.38,94.46 2296.22,94.42 2297.07,94.38 2297.91,94.34 2298.76,94.3 2299.6,94.26 2300.45,94.23 2301.29,94.19 2302.14,94.15 2302.98,94.11 2303.83,94.08 2304.67,94.04 2305.52,94 2306.36,93.97 2307.21,93.93 2308.05,93.9 2308.89,93.86 2309.74,93.83 2310.58,93.79 2311.43,93.76 2312.27,93.72 2313.12,93.69 2313.96,93.65 2314.81,93.62 2315.65,93.59 2316.5,93.55 2317.34,93.52 2318.19,93.49 2319.03,93.46 2319.88,93.43 2320.72,93.39 2321.57,93.36 2322.41,93.33 2323.26,93.3 2324.1,93.27" fill="none" stroke="#8b2a2a" stroke-width="2.6" stroke-linejoin="round" stroke-linecap="round"/>
<polyline points="1818.1,105.2 1818.94,105.2 1819.79,105.2 1820.63,105.21 1821.48,105.21 1822.32,105.22 1823.17,105.23 1824.01,105.24 1824.86,105.25 1825.7,105.27 1826.55,105.29 1827.39,105.3 1828.24,105.32 1829.08,105.35 1829.93,105.37 1830.77,105.39 1831.62,105.42 1832.46,105.45 1833.31,105.48 1834.15,105.51 1834.99,105.54 1835.84,105.58 1836.68,105.61 1837.53,105.65 1838.37,105.69 1839.22,105.73 1840.06,105.77 1840.91,105.81 1841.75,105.86 1842.6,105.9 1843.44,105.95 1844.29,106 1845.13,106.05 1845.98,106.1 1846.82,106.15 1847.67,106.21 1848.51,106.26 1849.36,106.32 1850.2,106.38 1851.04,106.44 1851.89,106.5 1852.73,106.56 1853.58,106.62 1854.42,106.68 1855.27,106.75 1856.11,106.82 1856.96,106.88 1857.8,106.95 1858.65,107.02 1859.49,107.09 1860.34,107.16 1861.18,107.24 1862.03,107.31 1862.87,107.39 1863.72,107.46 1864.56,107.54 1865.41,107.62 1866.25,107.7 1867.09,107.78 1867.94,107.86 1868.78,107.94 1869.63,108.02 1870.47,108.11 1871.32,108.19 1872.16,108.28 1873.01,108.36 1873.85,108.45 1874.7,108.54 1875.54,108.63 1876.39,108.72 1877.23,108.81 1878.08,108.9 1878.92,108.99 1879.77,109.09 1880.61,109.18 1881.46,109.28 1882.3,109.37 1883.15,109.47 1883.99,109.56 1884.83,109.66 1885.68,109.76 1886.52,109.86 1887.37,109.96 1888.21,110.06 1889.06,110.16 1889.9,110.26 1890.75,110.36 1891.59,110.46 1892.44,110.56 1893.28,110.67 1894.13,110.77 1894.97,110.87 1895.82,110.98 1896.66,111.08 1897.51,111.19 1898.35,111.3 1899.2,111.4 1900.04,111.51 1900.88,111.62 1901.73,111.72 1902.57,111.83 1903.42,111.94 1904.26,112.05 1905.11,112.16 1905.95,112.27 1906.8,112.38 1907.64,112.49 1908.49,112.6 1909.33,112.71 1910.18,112.82 1911.02,112.93 1911.87,113.04 1912.71,113.15 1913.56,113.26 1914.4,113.38 1915.25,113.51 1916.09,113.63 1916.93,113.77 1917.78,113.91 1918.62,114.05 1919.47,114.2 1920.31,114.35 1921.16,114.51 1922,114.67 1922.85,114.83 1923.69,115 1924.54,115.18 1925.38,115.35 1926.23,115.53 1927.07,115.72 1927.92,115.9 1928.76,116.09 1929.61,116.29 1930.45,116.48 1931.3,116.68 1932.14,116.89 1932.98,117.09 1933.83,117.3 1934.67,117.51 1935.52,117.72 1936.36,117.94 1937.21,118.16 1938.05,118.37 1938.9,118.6 1939.74,118.82 1940.59,119.04 1941.43,119.27 1942.28,119.5 1943.12,119.73 1943.97,119.96 1944.81,120.19 1945.66,120.42 1946.5,120.65 1947.35,120.89 1948.19,121.12 1949.03,121.36 1949.88,121.59 1950.72,121.83 1951.57,122.06 1952.41,122.3 1953.26,122.54 1954.1,122.79 1954.95,123.03 1955.79,123.29 1956.64,123.54 1957.48,123.8 1958.33,124.06 1959.17,124.33 1960.02,124.59 1960.86,124.86 1961.71,125.14 1962.55,125.42 1963.4,125.7 1964.24,125.98 1965.08,126.26 1965.93,126.55 1966.77,126.84 1967.62,127.14 1968.46,127.43 1969.31,127.73 1970.15,128.04 1971,128.34 1971.84,128.65 1972.69,128.96 1973.53,129.27 1974.38,129.58 1975.22,129.9 1976.07,130.22 1976.91,130.54 1977.76,130.86 1978.6,131.19 1979.45,131.51 1980.29,131.84 1981.14,132.17 1981.98,132.5 1982.82,132.84 1983.67,133.18 1984.51,133.51 1985.36,133.85 1986.2,134.19 1987.05,134.54 1987.89,134.88 1988.74,135.23 1989.58,135.57 1990.43,135.92 1991.27,136.27 1992.12,136.62 1992.96,136.96 1993.81,137.31 1994.65,137.66 1995.5,138 1996.34,138.35 1997.19,138.7 1998.03,139.05 1998.87,139.4 1999.72,139.76 2000.56,140.12 2001.41,140.48 2002.25,140.85 2003.1,141.22 2003.94,141.59 2004.79,141.97 2005.63,142.36 2006.48,142.75 2007.32,143.15 2008.17,143.56 2009.01,143.97 2009.86,144.4 2010.7,144.83 2011.55,145.27 2012.39,145.72 2013.24,146.18 2014.08,146.65 2014.92,147.13 2015.77,147.62 2016.61,148.12 2017.46,148.64 2018.3,149.17 2019.15,149.71 2019.99,150.26 2020.84,150.83 2021.68,151.42 2022.53,152.03 2023.37,152.66 2024.22,153.31 2025.06,153.97 2025.91,154.66 2026.75,155.37 2027.6,156.1 2028.44,156.86 2029.29,157.64 2030.13,158.44 2030.97,159.27 2031.82,160.12 2032.66,161 2033.51,161.91 2034.35,162.85 2035.2,163.81 2036.04,164.8 2036.89,165.83 2037.73,166.88 2038.58,167.97 2039.42,169.08 2040.27,170.26 2041.11,171.52 2041.96,172.85 2042.8,174.25 2043.65,175.73 2044.49,177.28 2045.34,178.9 2046.18,180.6 2047.02,182.37 2047.87,184.22 2048.71,186.13 2049.56,188.12 2050.4,190.18 2050.86,191.32 2051,191.67 2051.13,192.01 2051.25,192.31 2051.27,192.36 2051.4,192.71 2051.54,193.06 2051.67,193.41 2051.81,193.77 2051.94,194.12 2052.08,194.48 2052.09,194.52 2052.21,194.84 2052.35,195.2 2052.48,195.56 2052.62,195.93 2052.76,196.3 2052.89,196.66 2052.94,196.79 2053.03,197.04 2053.16,197.41 2053.3,197.78 2053.43,198.16 2053.57,198.54 2053.7,198.92 2053.78,199.14 2053.84,199.3 2053.97,199.69 2054.11,200.08 2054.24,200.47 2054.38,200.87 2054.52,201.27 2054.63,201.6 2054.65,201.67 2054.79,202.08 2054.92,202.5 2055.06,202.91 2055.19,203.33 2055.33,203.76 2055.46,204.19 2055.47,204.22 2055.6,204.63 2055.73,205.07 2055.87,205.52 2056,205.97 2056.14,206.43 2056.28,206.9 2056.32,207.04 2056.41,207.37 2056.55,207.85 2056.68,208.34 2056.82,208.83 2056.95,209.33 2057.09,209.84 2057.16,210.12 2057.22,210.35 2057.36,210.87 2057.49,211.4 2057.63,211.94 2057.76,212.49 2057.9,213.04 2058.01,213.49 2058.04,213.61 2058.17,214.18 2058.31,214.76 2058.44,215.35 2058.58,215.95 2058.71,216.56 2058.85,217.18 2058.85,217.2 2058.98,217.81 2059.12,218.46 2059.25,219.11 2059.39,219.77 2059.52,220.44 2059.66,221.12 2059.7,221.31 2059.8,221.82 2059.93,222.52 2060.07,223.24 2060.2,223.97 2060.34,224.71 2060.47,225.46 2060.54,225.85 2060.61,226.24 2060.74,227.05 2060.88,227.89 2061.01,228.77 2061.15,229.67 2061.28,230.61 2061.39,231.34 2061.42,231.59 2061.56,232.59 2061.69,233.62 2061.83,234.69 2061.96,235.78 2062.1,236.91 2062.23,238.04 2062.23,238.06 2062.37,239.24 2062.5,240.45 2062.64,241.69 2062.77,242.96 2062.91,244.25 2063.04,245.57 2063.07,245.87 2063.18,246.92 2063.32,248.3 2063.45,249.69 2063.59,251.12 2063.72,252.57 2063.86,254.04 2063.92,254.73 2063.99,255.54 2064.13,257.06 2064.26,258.61 2064.4,260.18 2064.53,261.77 2064.67,263.38 2064.76,264.53 2064.8,265.01 2064.94,266.67 2065.08,268.35 2065.21,270.04 2065.35,271.76 2065.48,273.5 2065.61,275.17 2065.62,275.27 2065.75,277.12 2065.89,279.06 2066.02,281.07 2066.16,283.16 2066.29,285.33 2066.43,287.57 2066.45,287.98 2066.56,289.87 2066.7,292.24 2066.84,294.67 2066.97,297.16 2067.11,299.7 2067.24,302.3 2067.3,303.41 2067.38,304.94 2067.51,307.63 2067.65,310.36 2067.78,313.13 2067.92,315.94 2068.05,318.78 2068.14,320.67 2068.19,321.65 2068.32,324.54 2068.46,327.46 2068.6,330.4 2068.73,333.68 2068.87,337.38 2068.99,341.03 2069,341.45 2069.14,345.79 2069.27,350.35 2069.41,355.06 2069.54,359.83 2069.68,364.6 2069.81,369.29 2069.83,369.94 2069.95,373.84 2070.08,378.17 2070.22,382.21 2070.36,385.89 2070.49,389.14 2070.63,391.87 2070.68,392.77 2070.76,394.04 2070.9,395.55 2071.03,396.34 2071.17,396.15 2071.3,393.98 2071.44,389.96 2071.52,386.68 2071.57,384.42 2071.71,377.69 2071.84,370.11 2071.98,362.01 2072.12,353.73 2072.25,345.58 2072.37,338.96 2072.39,337.92 2072.52,331.07 2072.66,325.29 2072.79,319.8 2072.93,314.27 2073.06,308.73 2073.2,303.22 2073.21,302.68 2073.33,297.77 2073.47,292.42 2073.6,287.2 2073.74,282.15 2073.88,277.3 2074.01,272.69 2074.06,271.18 2074.15,268.34 2074.28,264.3 2074.42,260.6 2074.55,257.27 2074.69,254.33 2074.82,251.51 2074.9,249.9 2074.96,248.73 2075.09,245.99 2075.23,243.31 2075.36,240.69 2075.5,238.13 2075.64,235.65 2075.75,233.68 2075.77,233.24 2075.91,230.93 2076.04,228.7 2076.18,226.57 2076.31,224.55 2076.45,222.65 2076.58,220.86 2076.59,220.76 2076.72,219.19 2076.85,217.66 2076.99,216.27 2077.12,215.02 2077.26,213.92 2077.4,212.98 2077.44,212.73 2077.53,212.2 2077.67,211.6 2077.8,211.1 2077.94,210.62 2078.07,210.15 2078.21,209.7 2078.28,209.46 2078.34,209.25 2078.48,208.82 2078.61,208.4 2078.75,207.99 2078.88,207.59 2079.02,207.2 2079.13,206.91 2079.16,206.83 2079.29,206.46 2079.43,206.11 2079.56,205.76 2079.7,205.42 2079.83,205.1 2079.97,204.78 2079.97,204.78 2080.1,204.47 2080.24,204.17 2080.37,203.88 2080.51,203.6 2080.64,203.33 2080.78,203.06 2080.81,202.99 2080.92,202.8 2081.05,202.55 2081.19,202.3 2081.32,202.06 2081.46,201.83 2081.59,201.61 2081.66,201.5 2081.73,201.39 2081.86,201.17 2082,200.96 2082.13,200.76 2082.27,200.56 2082.4,200.37 2082.5,200.23 2082.54,200.18 2082.68,199.99 2082.81,199.81 2082.95,199.63 2083.08,199.45 2083.22,199.28 2083.35,199.12 2083.35,199.11 2083.49,198.95 2083.62,198.78 2083.76,198.62 2083.89,198.46 2084.03,198.3 2084.16,198.15 2084.19,198.11 2084.3,197.99 2084.44,197.84 2084.57,197.68 2084.71,197.53 2084.84,197.38 2084.98,197.22 2085.04,197.15 2085.11,197.07 2085.25,196.91 2085.38,196.76 2085.52,196.6 2085.65,196.44 2085.79,196.28 2085.88,196.17 2085.92,196.12 2086.06,195.95 2086.2,195.78 2086.33,195.61 2086.47,195.44 2086.6,195.27 2086.73,195.1 2086.74,195.09 2086.87,194.9 2087.01,194.72 2087.14,194.52 2087.28,194.33 2087.41,194.13 2087.55,193.92 2087.57,193.89 2087.68,193.71 2087.82,193.49 2087.96,193.27 2088.09,193.04 2088.23,192.81 2088.36,192.57 2088.42,192.47 2088.5,192.32 2088.63,192.07 2088.77,191.82 2088.9,191.56 2089.04,191.3 2089.17,191.03 2089.26,190.85 2089.31,190.76 2089.44,190.49 2089.58,190.21 2089.72,189.93 2089.85,189.65 2089.99,189.36 2090.11,189.11 2090.12,189.07 2090.26,188.78 2090.39,188.49 2090.53,188.2 2090.66,187.9 2090.8,187.6 2090.93,187.3 2090.95,187.26 2091.07,187 2091.2,186.7 2091.34,186.39 2091.8,185.36 2092.64,183.44 2093.49,181.54 2094.33,179.7 2095.18,177.96 2096.02,176.35 2096.86,174.92 2097.71,173.7 2098.55,172.73 2099.4,172.06 2100.24,171.69 2101.09,171.41 2101.93,171.17 2102.78,170.98 2103.62,170.85 2104.47,170.8 2105.31,171.08 2106.16,171.81 2107,172.76 2107.85,173.72 2108.69,174.47 2109.54,174.78 2110.38,174.18 2111.23,172.55 2112.07,170.19 2112.91,167.44 2113.76,164.62 2114.6,162.06 2115.45,160.07 2116.29,158.98 2117.14,158.88 2117.98,158.94 2118.83,159.03 2119.67,159.16 2120.52,159.3 2121.36,159.44 2122.21,159.58 2123.05,159.71 2123.9,159.8 2124.74,159.86 2125.59,159.82 2126.43,159.34 2127.28,158.41 2128.12,157.13 2128.96,155.6 2129.81,153.92 2130.65,152.18 2131.5,150.49 2132.34,148.93 2133.19,147.6 2134.03,146.61 2134.88,146.04 2135.72,145.98 2136.57,146.24 2137.41,146.73 2138.26,147.4 2139.1,148.21 2139.95,149.12 2140.79,150.06 2141.64,150.99 2142.48,151.88 2143.33,152.66 2144.17,153.29 2145.01,153.72 2145.86,153.9 2146.7,153.69 2147.55,152.94 2148.39,151.73 2149.24,150.15 2150.08,148.29 2150.93,146.24 2151.77,144.08 2152.62,141.9 2153.46,139.8 2154.31,137.84 2155.15,136.14 2156,134.77 2156.84,133.8 2157.69,133.06 2158.53,132.42 2159.38,131.88 2160.22,131.39 2161.06,130.94 2161.91,130.51 2162.75,130.06 2163.6,129.58 2164.44,129.04 2165.29,128.41 2166.13,127.67 2166.98,126.77 2167.82,125.35 2168.67,123.47 2169.51,121.38 2170.36,119.34 2171.2,117.58 2172.05,116.36 2172.89,115.71 2173.74,115.14 2174.58,114.62 2175.43,114.14 2176.27,113.7 2177.12,113.3 2177.96,112.93 2178.8,112.59 2179.65,112.27 2180.49,111.98 2181.34,111.7 2182.18,111.44 2183.03,111.2 2183.87,110.96 2184.72,110.72 2185.56,110.49 2186.41,110.26 2187.25,110.02 2188.1,109.78 2188.94,109.52 2189.79,109.25 2190.63,108.96 2191.48,108.68 2192.32,108.4 2193.17,108.11 2194.01,107.83 2194.85,107.55 2195.7,107.27 2196.54,106.99 2197.39,106.72 2198.23,106.45 2199.08,106.18 2199.92,105.91 2200.77,105.65 2201.61,105.39 2202.46,105.13 2203.3,104.88 2204.15,104.63 2204.99,104.39 2205.84,104.16 2206.68,103.92 2207.53,103.7 2208.37,103.48 2209.22,103.26 2210.06,103.05 2210.9,102.85 2211.75,102.66 2212.59,102.47 2213.44,102.29 2214.28,102.12 2215.13,101.94 2215.97,101.78 2216.82,101.61 2217.66,101.45 2218.51,101.29 2219.35,101.13 2220.2,100.97 2221.04,100.81 2221.89,100.66 2222.73,100.51 2223.58,100.36 2224.42,100.21 2225.27,100.07 2226.11,99.93 2226.95,99.78 2227.8,99.64 2228.64,99.51 2229.49,99.37 2230.33,99.24 2231.18,99.1 2232.02,98.97 2232.87,98.84 2233.71,98.72 2234.56,98.59 2235.4,98.46 2236.25,98.34 2237.09,98.22 2237.94,98.1 2238.78,97.98 2239.63,97.86 2240.47,97.74 2241.32,97.63 2242.16,97.51 2243,97.4 2243.85,97.29 2244.69,97.18 2245.54,97.07 2246.38,96.96 2247.23,96.85 2248.07,96.74 2248.92,96.63 2249.76,96.53 2250.61,96.42 2251.45,96.32 2252.3,96.22 2253.14,96.11 2253.99,96.01 2254.83,95.91 2255.68,95.81 2256.52,95.71 2257.37,95.61 2258.21,95.51 2259.05,95.41 2259.9,95.31 2260.74,95.21 2261.59,95.11 2262.43,95.02 2263.28,94.92 2264.12,94.82 2264.97,94.72 2265.81,94.63 2266.66,94.53 2267.5,94.44 2268.35,94.34 2269.19,94.25 2270.04,94.15 2270.88,94.06 2271.73,93.96 2272.57,93.87 2273.42,93.78 2274.26,93.68 2275.11,93.59 2275.95,93.5 2276.79,93.41 2277.64,93.32 2278.48,93.23 2279.33,93.14 2280.17,93.05 2281.02,92.96 2281.86,92.87 2282.71,92.79 2283.55,92.7 2284.4,92.61 2285.24,92.53 2286.09,92.44 2286.93,92.35 2287.78,92.27 2288.62,92.19 2289.47,92.1 2290.31,92.02 2291.16,91.94 2292,91.86 2292.84,91.78 2293.69,91.7 2294.53,91.62 2295.38,91.54 2296.22,91.46 2297.07,91.38 2297.91,91.3 2298.76,91.23 2299.6,91.15 2300.45,91.08 2301.29,91 2302.14,90.93 2302.98,90.86 2303.83,90.78 2304.67,90.71 2305.52,90.64 2306.36,90.57 2307.21,90.5 2308.05,90.44 2308.89,90.37 2309.74,90.3 2310.58,90.24 2311.43,90.17 2312.27,90.11 2313.12,90.04 2313.96,89.98 2314.81,89.92 2315.65,89.86 2316.5,89.8 2317.34,89.74 2318.19,89.68 2319.03,89.62 2319.88,89.56 2320.72,89.51 2321.57,89.45 2322.41,89.4 2323.26,89.35 2324.1,89.29" fill="none" stroke="#1f9a48" stroke-width="2.6" stroke-linejoin="round" stroke-linecap="round"/>
<polyline points="1818.1,309.96 1818.94,309.98 1819.79,310.01 1820.63,310.04 1821.48,310.07 1822.32,310.1 1823.17,310.13 1824.01,310.16 1824.86,310.2 1825.7,310.24 1826.55,310.28 1827.39,310.32 1828.24,310.37 1829.08,310.41 1829.93,310.46 1830.77,310.51 1831.62,310.56 1832.46,310.62 1833.31,310.67 1834.15,310.73 1834.99,310.79 1835.84,310.85 1836.68,310.91 1837.53,310.98 1838.37,311.04 1839.22,311.11 1840.06,311.18 1840.91,311.25 1841.75,311.33 1842.6,311.4 1843.44,311.48 1844.29,311.55 1845.13,311.63 1845.98,311.71 1846.82,311.79 1847.67,311.88 1848.51,311.96 1849.36,312.05 1850.2,312.14 1851.04,312.23 1851.89,312.32 1852.73,312.41 1853.58,312.51 1854.42,312.6 1855.27,312.7 1856.11,312.79 1856.96,312.89 1857.8,312.99 1858.65,313.1 1859.49,313.2 1860.34,313.3 1861.18,313.41 1862.03,313.52 1862.87,313.62 1863.72,313.73 1864.56,313.84 1865.41,313.96 1866.25,314.07 1867.09,314.18 1867.94,314.3 1868.78,314.41 1869.63,314.53 1870.47,314.65 1871.32,314.77 1872.16,314.89 1873.01,315.01 1873.85,315.13 1874.7,315.25 1875.54,315.38 1876.39,315.5 1877.23,315.63 1878.08,315.76 1878.92,315.88 1879.77,316.01 1880.61,316.14 1881.46,316.27 1882.3,316.4 1883.15,316.54 1883.99,316.67 1884.83,316.8 1885.68,316.94 1886.52,317.07 1887.37,317.21 1888.21,317.34 1889.06,317.48 1889.9,317.62 1890.75,317.76 1891.59,317.9 1892.44,318.04 1893.28,318.18 1894.13,318.32 1894.97,318.46 1895.82,318.6 1896.66,318.74 1897.51,318.89 1898.35,319.03 1899.2,319.17 1900.04,319.32 1900.88,319.46 1901.73,319.61 1902.57,319.75 1903.42,319.9 1904.26,320.05 1905.11,320.19 1905.95,320.34 1906.8,320.49 1907.64,320.64 1908.49,320.78 1909.33,320.93 1910.18,321.08 1911.02,321.23 1911.87,321.38 1912.71,321.53 1913.56,321.68 1914.4,321.83 1915.25,321.98 1916.09,322.13 1916.93,322.29 1917.78,322.44 1918.62,322.6 1919.47,322.77 1920.31,322.93 1921.16,323.1 1922,323.27 1922.85,323.44 1923.69,323.61 1924.54,323.79 1925.38,323.97 1926.23,324.15 1927.07,324.33 1927.92,324.52 1928.76,324.71 1929.61,324.9 1930.45,325.09 1931.3,325.29 1932.14,325.48 1932.98,325.68 1933.83,325.89 1934.67,326.09 1935.52,326.3 1936.36,326.51 1937.21,326.72 1938.05,326.93 1938.9,327.15 1939.74,327.37 1940.59,327.59 1941.43,327.81 1942.28,328.04 1943.12,328.26 1943.97,328.49 1944.81,328.73 1945.66,328.96 1946.5,329.2 1947.35,329.44 1948.19,329.68 1949.03,329.92 1949.88,330.17 1950.72,330.42 1951.57,330.67 1952.41,330.92 1953.26,331.17 1954.1,331.43 1954.95,331.69 1955.79,331.95 1956.64,332.21 1957.48,332.48 1958.33,332.75 1959.17,333.02 1960.02,333.29 1960.86,333.56 1961.71,333.84 1962.55,334.12 1963.4,334.4 1964.24,334.68 1965.08,334.97 1965.93,335.25 1966.77,335.54 1967.62,335.83 1968.46,336.13 1969.31,336.42 1970.15,336.72 1971,337.02 1971.84,337.32 1972.69,337.63 1973.53,337.94 1974.38,338.24 1975.22,338.55 1976.07,338.87 1976.91,339.18 1977.76,339.5 1978.6,339.82 1979.45,340.14 1980.29,340.46 1981.14,340.79 1981.98,341.11 1982.82,341.44 1983.67,341.77 1984.51,342.11 1985.36,342.44 1986.2,342.78 1987.05,343.12 1987.89,343.46 1988.74,343.81 1989.58,344.15 1990.43,344.49 1991.27,344.84 1992.12,345.18 1992.96,345.53 1993.81,345.88 1994.65,346.22 1995.5,346.58 1996.34,346.93 1997.19,347.28 1998.03,347.64 1998.87,348 1999.72,348.37 2000.56,348.74 2001.41,349.11 2002.25,349.49 2003.1,349.87 2003.94,350.26 2004.79,350.65 2005.63,351.05 2006.48,351.45 2007.32,351.87 2008.17,352.28 2009.01,352.71 2009.86,353.14 2010.7,353.58 2011.55,354.03 2012.39,354.48 2013.24,354.95 2014.08,355.42 2014.92,355.9 2015.77,356.4 2016.61,356.9 2017.46,357.41 2018.3,357.94 2019.15,358.47 2019.99,359.01 2020.84,359.57 2021.68,360.14 2022.53,360.72 2023.37,361.31 2024.22,361.92 2025.06,362.54 2025.91,363.17 2026.75,363.82 2027.6,364.48 2028.44,365.15 2029.29,365.84 2030.13,366.54 2030.97,367.26 2031.82,368 2032.66,368.75 2033.51,369.52 2034.35,370.3 2035.2,371.1 2036.04,371.92 2036.89,372.75 2037.73,373.61 2038.58,374.5 2039.42,375.46 2040.27,376.47 2041.11,377.56 2041.96,378.71 2042.8,379.93 2043.65,381.23 2044.49,382.6 2045.34,384.06 2046.18,385.59 2047.02,387.21 2047.87,388.91 2048.71,390.71 2049.56,392.59 2050.4,394.57 2050.86,395.68 2051,396.02 2051.13,396.35 2051.25,396.65 2051.27,396.69 2051.4,397.04 2051.54,397.38 2051.67,397.73 2051.81,398.08 2051.94,398.43 2052.08,398.79 2052.09,398.83 2052.21,399.15 2052.35,399.51 2052.48,399.87 2052.62,400.24 2052.76,400.6 2052.89,400.98 2052.94,401.11 2053.03,401.35 2053.16,401.73 2053.3,402.1 2053.43,402.49 2053.57,402.87 2053.7,403.26 2053.78,403.49 2053.84,403.65 2053.97,404.04 2054.11,404.44 2054.24,404.84 2054.38,405.24 2054.52,405.64 2054.63,405.98 2054.65,406.05 2054.79,406.46 2054.92,406.87 2055.06,407.29 2055.19,407.7 2055.33,408.13 2055.46,408.55 2055.47,408.58 2055.6,408.98 2055.73,409.41 2055.87,409.84 2056,410.27 2056.14,410.71 2056.28,411.15 2056.32,411.29 2056.41,411.6 2056.55,412.05 2056.68,412.5 2056.82,412.95 2056.95,413.41 2057.09,413.87 2057.16,414.14 2057.22,414.36 2057.36,414.86 2057.49,415.37 2057.63,415.91 2057.76,416.45 2057.9,417.02 2058.01,417.47 2058.04,417.6 2058.17,418.19 2058.31,418.8 2058.44,419.43 2058.58,420.07 2058.71,420.72 2058.85,421.39 2058.85,421.41 2058.98,422.08 2059.12,422.78 2059.25,423.5 2059.39,424.23 2059.52,424.97 2059.66,425.73 2059.7,425.94 2059.8,426.51 2059.93,427.3 2060.07,428.1 2060.2,428.92 2060.34,429.75 2060.47,430.59 2060.54,431.03 2060.61,431.46 2060.74,432.33 2060.88,433.22 2061.01,434.12 2061.15,435.03 2061.28,435.96 2061.39,436.67 2061.42,436.91 2061.56,437.86 2061.69,438.83 2061.83,439.82 2061.96,440.81 2062.1,441.82 2062.23,442.83 2062.23,442.84 2062.37,443.88 2062.5,444.93 2062.64,445.99 2062.77,447.06 2062.91,448.15 2063.04,449.25 2063.07,449.5 2063.18,450.36 2063.32,451.49 2063.45,452.62 2063.59,453.77 2063.72,454.93 2063.86,456.11 2063.92,456.66 2063.99,457.29 2064.13,458.49 2064.26,459.7 2064.4,460.92 2064.53,462.15 2064.67,463.41 2064.76,464.33 2064.8,464.72 2064.94,466.06 2065.08,467.44 2065.21,468.86 2065.35,470.33 2065.48,471.83 2065.61,473.28 2065.62,473.37 2065.75,474.95 2065.89,476.58 2066.02,478.24 2066.16,479.94 2066.29,481.68 2066.43,483.46 2066.45,483.78 2066.56,485.27 2066.7,487.13 2066.84,489.02 2066.97,490.96 2067.11,492.93 2067.24,494.94 2067.3,495.8 2067.38,496.99 2067.51,499.07 2067.65,501.2 2067.78,503.36 2067.92,505.56 2068.05,507.8 2068.14,509.3 2068.19,510.07 2068.32,512.38 2068.46,514.73 2068.6,517.11 2068.73,519.54 2068.87,522 2068.99,524.24 2069,524.49 2069.14,527.02 2069.27,529.59 2069.41,532.19 2069.54,534.83 2069.68,537.73 2069.81,541.38 2069.83,541.94 2069.95,545.61 2070.08,550.22 2070.22,554.99 2070.36,559.71 2070.49,564.17 2070.63,568.16 2070.68,569.51 2070.76,571.47 2070.9,573.88 2071.03,575.19 2071.17,575.2 2071.3,573.98 2071.44,571.73 2071.52,569.89 2071.57,568.61 2071.71,564.82 2071.84,560.54 2071.98,555.95 2072.12,551.22 2072.25,546.55 2072.37,542.72 2072.39,542.12 2072.52,538.1 2072.66,534.66 2072.79,531.31 2072.93,527.89 2073.06,524.39 2073.2,520.84 2073.21,520.48 2073.33,517.24 2073.47,513.6 2073.6,509.94 2073.74,506.27 2073.88,502.6 2074.01,498.95 2074.06,497.71 2074.15,495.32 2074.28,491.72 2074.42,488.17 2074.55,484.69 2074.69,481.28 2074.82,477.95 2074.9,476.06 2074.96,474.71 2075.09,471.59 2075.23,468.58 2075.36,465.71 2075.5,462.97 2075.64,460.4 2075.75,458.42 2075.77,457.99 2075.91,455.76 2076.04,453.72 2076.18,451.89 2076.31,450.27 2076.45,448.87 2076.58,447.72 2076.59,447.66 2076.72,446.8 2076.85,445.93 2076.99,445.09 2077.12,444.25 2077.26,443.44 2077.4,442.64 2077.44,442.4 2077.53,441.85 2077.67,441.08 2077.8,440.32 2077.94,439.58 2078.07,438.85 2078.21,438.13 2078.28,437.76 2078.34,437.43 2078.48,436.75 2078.61,436.07 2078.75,435.41 2078.88,434.76 2079.02,434.13 2079.13,433.64 2079.16,433.51 2079.29,432.9 2079.43,432.3 2079.56,431.71 2079.7,431.14 2079.83,430.58 2079.97,430.03 2079.97,430.02 2080.1,429.49 2080.24,428.96 2080.37,428.45 2080.51,427.94 2080.64,427.45 2080.78,426.96 2080.81,426.84 2080.92,426.49 2081.05,426.03 2081.19,425.57 2081.32,425.13 2081.46,424.7 2081.59,424.27 2081.66,424.06 2081.73,423.86 2081.86,423.45 2082,423.05 2082.13,422.67 2082.27,422.29 2082.4,421.91 2082.5,421.65 2082.54,421.55 2082.68,421.2 2082.81,420.85 2082.95,420.51 2083.08,420.18 2083.22,419.85 2083.35,419.54 2083.35,419.54 2083.49,419.23 2083.62,418.92 2083.76,418.63 2083.89,418.34 2084.03,418.05 2084.16,417.77 2084.19,417.71 2084.3,417.5 2084.44,417.23 2084.57,416.97 2084.71,416.72 2084.84,416.47 2084.98,416.22 2085.04,416.11 2085.11,415.98 2085.25,415.75 2085.38,415.51 2085.52,415.29 2085.65,415.06 2085.79,414.85 2085.88,414.7 2085.92,414.63 2086.06,414.42 2086.2,414.21 2086.33,414.01 2086.47,413.8 2086.6,413.6 2086.73,413.42 2086.74,413.41 2086.87,413.21 2087.01,413.02 2087.14,412.83 2087.28,412.65 2087.41,412.46 2087.55,412.28 2087.57,412.25 2087.68,412.1 2087.82,411.92 2087.96,411.74 2088.09,411.57 2088.23,411.4 2088.36,411.23 2088.42,411.16 2088.5,411.06 2088.63,410.89 2088.77,410.73 2088.9,410.57 2089.04,410.41 2089.17,410.25 2089.26,410.14 2089.31,410.09 2089.44,409.94 2089.58,409.78 2089.72,409.63 2089.85,409.48 2089.99,409.33 2090.11,409.21 2090.12,409.19 2090.26,409.05 2090.39,408.9 2090.53,408.76 2090.66,408.62 2090.8,408.49 2090.93,408.35 2090.95,408.33 2091.07,408.22 2091.2,408.08 2091.34,407.95 2091.8,407.52 2092.64,406.77 2093.49,406.06 2094.33,405.4 2095.18,404.78 2096.02,404.2 2096.86,403.64 2097.71,403.11 2098.55,402.59 2099.4,402.09 2100.24,401.6 2101.09,401.1 2101.93,400.6 2102.78,400.1 2103.62,399.57 2104.47,399.03 2105.31,398.46 2106.16,397.86 2107,397.22 2107.85,396.54 2108.69,395.82 2109.54,395.03 2110.38,394.19 2111.23,393.29 2112.07,392.29 2112.91,391.2 2113.76,390.02 2114.6,388.78 2115.45,387.48 2116.29,386.15 2117.14,384.81 2117.98,383.45 2118.83,382.11 2119.67,380.8 2120.52,379.53 2121.36,378.31 2122.21,377.08 2123.05,375.82 2123.9,374.53 2124.74,373.23 2125.59,371.91 2126.43,370.6 2127.28,369.29 2128.12,368 2128.96,366.75 2129.81,365.52 2130.65,364.35 2131.5,363.23 2132.34,362.17 2133.19,361.19 2134.03,360.29 2134.88,359.48 2135.72,358.78 2136.57,358.15 2137.41,357.54 2138.26,356.96 2139.1,356.39 2139.95,355.84 2140.79,355.31 2141.64,354.79 2142.48,354.29 2143.33,353.81 2144.17,353.34 2145.01,352.89 2145.86,352.45 2146.7,352.03 2147.55,351.62 2148.39,351.22 2149.24,350.84 2150.08,350.47 2150.93,350.11 2151.77,349.76 2152.62,349.41 2153.46,349.08 2154.31,348.76 2155.15,348.45 2156,348.14 2156.84,347.85 2157.69,347.56 2158.53,347.27 2159.38,346.99 2160.22,346.72 2161.06,346.45 2161.91,346.17 2162.75,345.9 2163.6,345.62 2164.44,345.35 2165.29,345.07 2166.13,344.79 2166.98,344.52 2167.82,344.25 2168.67,343.97 2169.51,343.7 2170.36,343.44 2171.2,343.17 2172.05,342.91 2172.89,342.66 2173.74,342.4 2174.58,342.16 2175.43,341.92 2176.27,341.68 2177.12,341.45 2177.96,341.23 2178.8,341.01 2179.65,340.8 2180.49,340.6 2181.34,340.4 2182.18,340.22 2183.03,340.05 2183.87,339.88 2184.72,339.72 2185.56,339.58 2186.41,339.44 2187.25,339.32 2188.1,339.21 2188.94,339.11 2189.79,339.02 2190.63,338.95 2191.48,338.89 2192.32,338.84 2193.17,338.81 2194.01,338.79 2194.85,338.79 2195.7,338.79 2196.54,338.79 2197.39,338.79 2198.23,338.79 2199.08,338.79 2199.92,338.79 2200.77,338.79 2201.61,338.79 2202.46,338.79 2203.3,338.79 2204.15,338.79 2204.99,338.79 2205.84,338.79 2206.68,338.79 2207.53,338.79 2208.37,338.79 2209.22,338.79 2210.06,338.79 2210.9,338.79 2211.75,338.79 2212.59,338.79 2213.44,338.79 2214.28,338.79 2215.13,338.79 2215.97,338.79 2216.82,338.79 2217.66,338.79 2218.51,338.79 2219.35,338.79 2220.2,338.79 2221.04,338.79 2221.89,338.79 2222.73,338.79 2223.58,338.79 2224.42,338.79 2225.27,338.79 2226.11,338.79 2226.95,338.79 2227.8,338.79 2228.64,338.79 2229.49,338.79 2230.33,338.79 2231.18,338.79 2232.02,338.79 2232.87,338.79 2233.71,338.79 2234.56,338.79 2235.4,338.77 2236.25,338.74 2237.09,338.7 2237.94,338.64 2238.78,338.57 2239.63,338.5 2240.47,338.41 2241.32,338.3 2242.16,338.19 2243,338.07 2243.85,337.94 2244.69,337.81 2245.54,337.66 2246.38,337.51 2247.23,337.35 2248.07,337.18 2248.92,337.01 2249.76,336.83 2250.61,336.65 2251.45,336.47 2252.3,336.28 2253.14,336.08 2253.99,335.89 2254.83,335.69 2255.68,335.49 2256.52,335.29 2257.37,335.09 2258.21,334.89 2259.05,334.69 2259.9,334.48 2260.74,334.29 2261.59,334.09 2262.43,333.9 2263.28,333.7 2264.12,333.52 2264.97,333.33 2265.81,333.16 2266.66,332.98 2267.5,332.81 2268.35,332.65 2269.19,332.5 2270.04,332.35 2270.88,332.21 2271.73,332.08 2272.57,331.95 2273.42,331.84 2274.26,331.73 2275.11,331.63 2275.95,331.52 2276.79,331.41 2277.64,331.31 2278.48,331.2 2279.33,331.1 2280.17,330.99 2281.02,330.89 2281.86,330.79 2282.71,330.68 2283.55,330.58 2284.4,330.48 2285.24,330.38 2286.09,330.28 2286.93,330.18 2287.78,330.08 2288.62,329.99 2289.47,329.89 2290.31,329.79 2291.16,329.7 2292,329.61 2292.84,329.51 2293.69,329.42 2294.53,329.33 2295.38,329.24 2296.22,329.15 2297.07,329.06 2297.91,328.97 2298.76,328.89 2299.6,328.8 2300.45,328.72 2301.29,328.63 2302.14,328.55 2302.98,328.47 2303.83,328.39 2304.67,328.31 2305.52,328.23 2306.36,328.16 2307.21,328.08 2308.05,328.01 2308.89,327.93 2309.74,327.86 2310.58,327.79 2311.43,327.72 2312.27,327.65 2313.12,327.59 2313.96,327.52 2314.81,327.46 2315.65,327.4 2316.5,327.34 2317.34,327.28 2318.19,327.22 2319.03,327.16 2319.88,327.11 2320.72,327.06 2321.57,327.01 2322.41,326.96 2323.26,326.91 2324.1,326.86" fill="none" stroke="#111111" stroke-width="2.6" stroke-linejoin="round" stroke-linecap="round"/>
<rect x="1813.5" y="37.8" width="519.8" height="542.7" fill="none" stroke="#111" stroke-width="3.5"/>
<path d="M1818.1 580.5v9.5M1868.7 580.5v9.5M1919.3 580.5v9.5M1969.9 580.5v9.5M2020.5 580.5v9.5M2071.1 580.5v9.5M2121.7 580.5v9.5M2172.3 580.5v9.5M2222.9 580.5v9.5M2273.5 580.5v9.5M2324.1 580.5v9.5" stroke="#111" stroke-width="3" fill="none"/>
<path d="M1843.4 580.5v6M1894 580.5v6M1944.6 580.5v6M1995.2 580.5v6M2045.8 580.5v6M2096.4 580.5v6M2147 580.5v6M2197.6 580.5v6M2248.2 580.5v6M2298.8 580.5v6" stroke="#111" stroke-width="3" fill="none"/>
<path d="M1818.1 37.8v8.5M1868.7 37.8v8.5M1919.3 37.8v8.5M1969.9 37.8v8.5M2020.5 37.8v8.5M2071.1 37.8v8.5M2121.7 37.8v8.5M2172.3 37.8v8.5M2222.9 37.8v8.5M2273.5 37.8v8.5M2324.1 37.8v8.5" stroke="#111" stroke-width="3" fill="none"/>
<path d="M1843.4 37.8v5.5M1894 37.8v5.5M1944.6 37.8v5.5M1995.2 37.8v5.5M2045.8 37.8v5.5M2096.4 37.8v5.5M2147 37.8v5.5M2197.6 37.8v5.5M2248.2 37.8v5.5M2298.8 37.8v5.5" stroke="#111" stroke-width="3" fill="none"/>
<path d="M1813.5 535.6h-9.5M1813.5 436.2h-9.5M1813.5 336.8h-9.5M1813.5 237.4h-9.5M1813.5 138h-9.5M1813.5 38.6h-9.5" stroke="#111" stroke-width="3" fill="none"/>
<path d="M1813.5 575.16h-5M1813.5 565.52h-5M1813.5 557.65h-5M1813.5 551h-5M1813.5 545.23h-5M1813.5 540.15h-5M1813.5 505.68h-5M1813.5 488.17h-5M1813.5 475.76h-5M1813.5 466.12h-5M1813.5 458.25h-5M1813.5 451.6h-5M1813.5 445.83h-5M1813.5 440.75h-5M1813.5 406.28h-5M1813.5 388.77h-5M1813.5 376.36h-5M1813.5 366.72h-5M1813.5 358.85h-5M1813.5 352.2h-5M1813.5 346.43h-5M1813.5 341.35h-5M1813.5 306.88h-5M1813.5 289.37h-5M1813.5 276.96h-5M1813.5 267.32h-5M1813.5 259.45h-5M1813.5 252.8h-5M1813.5 247.03h-5M1813.5 241.95h-5M1813.5 207.48h-5M1813.5 189.97h-5M1813.5 177.56h-5M1813.5 167.92h-5M1813.5 160.05h-5M1813.5 153.4h-5M1813.5 147.63h-5M1813.5 142.55h-5M1813.5 108.08h-5M1813.5 90.57h-5M1813.5 78.16h-5M1813.5 68.52h-5M1813.5 60.65h-5M1813.5 54h-5M1813.5 48.23h-5M1813.5 43.15h-5" stroke="#111" stroke-width="3" fill="none"/>
<path d="M2333.3 535.6h-9M2333.3 436.2h-9M2333.3 336.8h-9M2333.3 237.4h-9M2333.3 138h-9M2333.3 38.6h-9" stroke="#111" stroke-width="3" fill="none"/>
<path d="M2333.3 575.16h-5M2333.3 565.52h-5M2333.3 557.65h-5M2333.3 551h-5M2333.3 545.23h-5M2333.3 540.15h-5M2333.3 505.68h-5M2333.3 488.17h-5M2333.3 475.76h-5M2333.3 466.12h-5M2333.3 458.25h-5M2333.3 451.6h-5M2333.3 445.83h-5M2333.3 440.75h-5M2333.3 406.28h-5M2333.3 388.77h-5M2333.3 376.36h-5M2333.3 366.72h-5M2333.3 358.85h-5M2333.3 352.2h-5M2333.3 346.43h-5M2333.3 341.35h-5M2333.3 306.88h-5M2333.3 289.37h-5M2333.3 276.96h-5M2333.3 267.32h-5M2333.3 259.45h-5M2333.3 252.8h-5M2333.3 247.03h-5M2333.3 241.95h-5M2333.3 207.48h-5M2333.3 189.97h-5M2333.3 177.56h-5M2333.3 167.92h-5M2333.3 160.05h-5M2333.3 153.4h-5M2333.3 147.63h-5M2333.3 142.55h-5M2333.3 108.08h-5M2333.3 90.57h-5M2333.3 78.16h-5M2333.3 68.52h-5M2333.3 60.65h-5M2333.3 54h-5M2333.3 48.23h-5M2333.3 43.15h-5" stroke="#111" stroke-width="3" fill="none"/>
<text x="1740.46" y="546.47" font-family="'Liberation Sans', Arial, sans-serif" font-size="31.5" fill="#111">10</text>
<text x="1775.49" y="529.67" font-family="'Liberation Sans', Arial, sans-serif" font-size="18.5" fill="#111">-11</text>
<text x="1738.88" y="447.07" font-family="'Liberation Sans', Arial, sans-serif" font-size="31.5" fill="#111">10</text>
<text x="1773.91" y="430.27" font-family="'Liberation Sans', Arial, sans-serif" font-size="18.5" fill="#111">-10</text>
<text x="1749.34" y="347.67" font-family="'Liberation Sans', Arial, sans-serif" font-size="31.5" fill="#111">10</text>
<text x="1784.37" y="330.87" font-family="'Liberation Sans', Arial, sans-serif" font-size="18.5" fill="#111">-9</text>
<text x="1749.25" y="248.27" font-family="'Liberation Sans', Arial, sans-serif" font-size="31.5" fill="#111">10</text>
<text x="1784.28" y="231.47" font-family="'Liberation Sans', Arial, sans-serif" font-size="18.5" fill="#111">-8</text>
<text x="1749.43" y="148.87" font-family="'Liberation Sans', Arial, sans-serif" font-size="31.5" fill="#111">10</text>
<text x="1784.46" y="132.07" font-family="'Liberation Sans', Arial, sans-serif" font-size="18.5" fill="#111">-7</text>
<text x="1749.25" y="49.47" font-family="'Liberation Sans', Arial, sans-serif" font-size="31.5" fill="#111">10</text>
<text x="1784.28" y="32.67" font-family="'Liberation Sans', Arial, sans-serif" font-size="18.5" fill="#111">-6</text>
<text x="1803.74" y="618.71" font-family="'Liberation Sans', Arial, sans-serif" font-size="32.1" fill="#111">-5</text>
<text x="1854.17" y="618.87" font-family="'Liberation Sans', Arial, sans-serif" font-size="32.1" fill="#111">-4</text>
<text x="1904.94" y="618.87" font-family="'Liberation Sans', Arial, sans-serif" font-size="32.1" fill="#111">-3</text>
<text x="1955.7" y="619.03" font-family="'Liberation Sans', Arial, sans-serif" font-size="32.1" fill="#111">-2</text>
<text x="2006.22" y="618.87" font-family="'Liberation Sans', Arial, sans-serif" font-size="32.1" fill="#111">-1</text>
<text x="2062.11" y="618.87" font-family="'Liberation Sans', Arial, sans-serif" font-size="32.1" fill="#111">0</text>
<text x="2112.31" y="618.87" font-family="'Liberation Sans', Arial, sans-serif" font-size="32.1" fill="#111">1</text>
<text x="2163.39" y="619.03" font-family="'Liberation Sans', Arial, sans-serif" font-size="32.1" fill="#111">2</text>
<text x="2213.99" y="618.87" font-family="'Liberation Sans', Arial, sans-serif" font-size="32.1" fill="#111">3</text>
<text x="2264.75" y="618.87" font-family="'Liberation Sans', Arial, sans-serif" font-size="32.1" fill="#111">4</text>
<text x="2315.19" y="618.71" font-family="'Liberation Sans', Arial, sans-serif" font-size="32.1" fill="#111">5</text>
<text transform="translate(1725.35 428.57) rotate(-90)" x="0" y="0" font-family="'Liberation Serif', 'Times New Roman', serif" font-size="50" fill="#111" textLength="242.8" lengthAdjust="spacingAndGlyphs">Current (A)</text>
<text x="1978.19" y="678.02" font-family="'Liberation Serif', 'Times New Roman', serif" font-size="51.54" fill="#111" textLength="237.89" lengthAdjust="spacingAndGlyphs">Voltage (V)</text>
<text x="1646.42" y="79.89" font-family="'Liberation Serif', 'Times New Roman', serif" font-size="67.47" fill="#111" textLength="75.84" lengthAdjust="spacingAndGlyphs">(c)</text>
<line x1="1818.4" y1="340.3" x2="1865.4" y2="340.3" stroke="#3a9a5a" stroke-width="4"/>
<text x="1870.71" y="347.1" font-family="'Liberation Sans', Arial, sans-serif" font-size="18.8" font-weight="bold" fill="#2a9a4a" textLength="68.03" lengthAdjust="spacingAndGlyphs">700 nm</text>
<line x1="1818.4" y1="365.7" x2="1865.4" y2="365.7" stroke="#ee2a8a" stroke-width="4"/>
<text x="1870.81" y="372.5" font-family="'Liberation Sans', Arial, sans-serif" font-size="18.8" font-weight="bold" fill="#ee2a8a" textLength="68.03" lengthAdjust="spacingAndGlyphs">650 nm</text>
<line x1="1818.4" y1="391" x2="1865.4" y2="391" stroke="#9b3535" stroke-width="4"/>
<text x="1870.81" y="397.8" font-family="'Liberation Sans', Arial, sans-serif" font-size="18.8" font-weight="bold" fill="#8b2a2a" textLength="68.03" lengthAdjust="spacingAndGlyphs">600 nm</text>
<line x1="1818.4" y1="416.4" x2="1865.4" y2="416.4" stroke="#2a2a8a" stroke-width="4"/>
<text x="1870.91" y="423.2" font-family="'Liberation Sans', Arial, sans-serif" font-size="18.8" font-weight="bold" fill="#2a2a8a" textLength="68.03" lengthAdjust="spacingAndGlyphs">550 nm</text>
<line x1="1818.4" y1="442.6" x2="1865.4" y2="442.6" stroke="#8a8a2a" stroke-width="4"/>
<text x="1870.91" y="449.4" font-family="'Liberation Sans', Arial, sans-serif" font-size="18.8" font-weight="bold" fill="#8a8a2a" textLength="68.03" lengthAdjust="spacingAndGlyphs">520 nm</text>
<line x1="1818.4" y1="468.4" x2="1865.4" y2="468.4" stroke="#c050b0" stroke-width="4"/>
<text x="1870.91" y="475.2" font-family="'Liberation Sans', Arial, sans-serif" font-size="18.8" font-weight="bold" fill="#c050b0" textLength="68.03" lengthAdjust="spacingAndGlyphs">500 nm</text>
<line x1="1818.4" y1="493.9" x2="1865.4" y2="493.9" stroke="#1a8a8a" stroke-width="4"/>
<text x="1871.2" y="500.7" font-family="'Liberation Sans', Arial, sans-serif" font-size="18.8" font-weight="bold" fill="#2a9a4a" textLength="68.03" lengthAdjust="spacingAndGlyphs">475 nm</text>
<line x1="1818.4" y1="519.2" x2="1865.4" y2="519.2" stroke="#3d4fb0" stroke-width="4"/>
<text x="1871.2" y="526" font-family="'Liberation Sans', Arial, sans-serif" font-size="18.8" font-weight="bold" fill="#3d4fb0" textLength="68.03" lengthAdjust="spacingAndGlyphs">450 nm</text>
<line x1="1818.4" y1="544.6" x2="1865.4" y2="544.6" stroke="#ee2b2b" stroke-width="4"/>
<text x="1871.2" y="551.4" font-family="'Liberation Sans', Arial, sans-serif" font-size="18.8" font-weight="bold" fill="#ee2b2b" textLength="68.03" lengthAdjust="spacingAndGlyphs">420 nm</text>
<line x1="1818.4" y1="570.3" x2="1865.4" y2="570.3" stroke="#111111" stroke-width="4"/>
<text x="1870.22" y="577.1" font-family="'Liberation Sans', Arial, sans-serif" font-size="18.8" font-weight="bold" fill="#222222" textLength="43.9" lengthAdjust="spacingAndGlyphs">Dark</text>
<rect x="186" y="719" width="87.6" height="552.3" fill="url(#spA)"/>
<rect x="273.6" y="719" width="302.2" height="552.3" fill="url(#spB)"/>
<rect x="575.8" y="719" width="139.2" height="552.3" fill="url(#spC)"/>
<g clip-path="url(#clipD)">
<polyline points="231.34,1248.94 246.46,1163.79 276.68,777.32 299.36,787.51 318.25,864.3 337.14,835.18 352.25,826.09 374.93,802.43 412.71,779.87 450.5,862.84 488.28,847.56 526.07,871.21 569.9,1258.04 684.76,1263.13" fill="none" stroke="#1a8e8e" stroke-width="3.2" stroke-linejoin="round" stroke-linecap="round"/>
<circle cx="231.34" cy="1248.94" r="11" fill="#fff" stroke="#222" stroke-width="1.8"/>
<circle cx="246.46" cy="1163.79" r="11" fill="#fff" stroke="#222" stroke-width="1.8"/>
<circle cx="276.68" cy="777.32" r="11" fill="#fff" stroke="#222" stroke-width="1.8"/>
<circle cx="299.36" cy="787.51" r="11" fill="#fff" stroke="#222" stroke-width="1.8"/>
<circle cx="318.25" cy="864.3" r="11" fill="#fff" stroke="#222" stroke-width="1.8"/>
<circle cx="337.14" cy="835.18" r="11" fill="#fff" stroke="#222" stroke-width="1.8"/>
<circle cx="352.25" cy="826.09" r="11" fill="#fff" stroke="#222" stroke-width="1.8"/>
<circle cx="374.93" cy="802.43" r="11" fill="#fff" stroke="#222" stroke-width="1.8"/>
<circle cx="412.71" cy="779.87" r="11" fill="#fff" stroke="#222" stroke-width="1.8"/>
<circle cx="450.5" cy="862.84" r="11" fill="#fff" stroke="#222" stroke-width="1.8"/>
<circle cx="488.28" cy="847.56" r="11" fill="#fff" stroke="#222" stroke-width="1.8"/>
<circle cx="526.07" cy="871.21" r="11" fill="#fff" stroke="#222" stroke-width="1.8"/>
<circle cx="569.9" cy="1258.04" r="11" fill="#fff" stroke="#222" stroke-width="1.8"/>
<circle cx="684.76" cy="1263.13" r="11" fill="#fff" stroke="#222" stroke-width="1.8"/>
</g>
<rect x="186" y="725.7" width="529" height="545.6" fill="none" stroke="#111" stroke-width="3.5"/>
<path d="M186 1271.3v10M299.36 1271.3v10M412.71 1271.3v10M526.07 1271.3v10M639.42 1271.3v10" stroke="#111" stroke-width="3" fill="none"/>
<path d="M242.68 1271.3v6M356.03 1271.3v6M469.39 1271.3v6M582.74 1271.3v6M696.1 1271.3v6" stroke="#111" stroke-width="3" fill="none"/>
<path d="M186 725.7v8M299.36 725.7v8M412.71 725.7v8M526.07 725.7v8M639.42 725.7v8" stroke="#111" stroke-width="3" fill="none"/>
<path d="M242.68 725.7v5M356.03 725.7v5M469.39 725.7v5M582.74 725.7v5M696.1 725.7v5" stroke="#111" stroke-width="3" fill="none"/>
<path d="M186 1271.5h-9M186 1198.72h-9M186 1125.94h-9M186 1053.16h-9M186 980.38h-9M186 907.6h-9M186 834.82h-9M186 762.04h-9" stroke="#111" stroke-width="3" fill="none"/>
<path d="M186 1235.11h-5M186 1162.33h-5M186 1089.55h-5M186 1016.77h-5M186 943.99h-5M186 871.21h-5M186 798.43h-5M186 725.65h-5" stroke="#111" stroke-width="3" fill="none"/>
<path d="M715 827.9h-8M715 965h-8M715 1101.4h-8M715 1238h-8" stroke="#111" stroke-width="3" fill="none"/>
<path d="M715 759.2h-4.5M715 896.5h-4.5M715 1033.8h-4.5M715 1170.4h-4.5" stroke="#111" stroke-width="3" fill="none"/>
<text x="154.1" y="1279.41" font-family="'Liberation Sans', Arial, sans-serif" font-size="32.5" fill="#111">0</text>
<text x="154.59" y="1206.8" font-family="'Liberation Sans', Arial, sans-serif" font-size="32.5" fill="#111">2</text>
<text x="153.94" y="1133.85" font-family="'Liberation Sans', Arial, sans-serif" font-size="32.5" fill="#111">4</text>
<text x="154.26" y="1061.07" font-family="'Liberation Sans', Arial, sans-serif" font-size="32.5" fill="#111">6</text>
<text x="154.26" y="988.29" font-family="'Liberation Sans', Arial, sans-serif" font-size="32.5" fill="#111">8</text>
<text x="136.06" y="915.51" font-family="'Liberation Sans', Arial, sans-serif" font-size="32.5" fill="#111">10</text>
<text x="136.55" y="842.89" font-family="'Liberation Sans', Arial, sans-serif" font-size="32.5" fill="#111">12</text>
<text x="135.9" y="769.95" font-family="'Liberation Sans', Arial, sans-serif" font-size="32.5" fill="#111">14</text>
<text x="157.61" y="1310.72" font-family="'Liberation Sans', Arial, sans-serif" font-size="33.4" fill="#111">300</text>
<text x="271.3" y="1310.72" font-family="'Liberation Sans', Arial, sans-serif" font-size="33.4" fill="#111">450</text>
<text x="384.15" y="1310.72" font-family="'Liberation Sans', Arial, sans-serif" font-size="33.4" fill="#111">600</text>
<text x="497.51" y="1310.72" font-family="'Liberation Sans', Arial, sans-serif" font-size="33.4" fill="#111">750</text>
<text x="610.95" y="1310.72" font-family="'Liberation Sans', Arial, sans-serif" font-size="33.4" fill="#111">900</text>
<text transform="translate(121.5 1093.25) rotate(-90)" x="0" y="0" font-family="'Liberation Serif', 'Times New Roman', serif" font-size="50.5" font-style="italic" fill="#111">R</text>
<text transform="translate(121.5 1062.97) rotate(-90)" x="0" y="0" font-family="'Liberation Serif', 'Times New Roman', serif" font-size="50.5" fill="#111" textLength="170.15" lengthAdjust="spacingAndGlyphs">λ (A/W)</text>
<text x="275.3" y="1359" font-family="'Liberation Serif', 'Times New Roman', serif" font-size="52.09" fill="#111" textLength="351.36" lengthAdjust="spacingAndGlyphs">Wavelength (nm)</text>
<text x="49.72" y="758.09" font-family="'Liberation Serif', 'Times New Roman', serif" font-size="67.47" fill="#111" textLength="77.2" lengthAdjust="spacingAndGlyphs">(d)</text>
<polyline points="1043.5,1112.9 1060.6,1093.1 1069.7,1080.4 1094,1062.4 1115.7,1035.3 1124.7,1024.5 1134.7,1015.4 1173.5,982.9 1188.8,963.1 1194.2,955.8 1223.1,926.9 1235.8,913.4 1240.3,908.9 1256.5,895.3 1274.8,877.6 1284.9,866.1 1295,856 1305.1,846.6 1311,840 1316.7,834.3 1333.3,815.5 1344.1,806.9 1355.6,792.4 1367.2,780.9 1374.4,769.3 1383.1,766.4 1391.8,766.4 1400.4,766.4 1407.6,768.6" fill="none" stroke="#7b2a8c" stroke-width="4" stroke-linejoin="round" stroke-linecap="round"/>
<line x1="1040" y1="1118" x2="963" y2="1192" stroke="#111" stroke-width="3.2"/>
<circle cx="1043.5" cy="1112.9" r="11" fill="url(#dotg)"/>
<circle cx="1060.6" cy="1093.1" r="11" fill="url(#dotg)"/>
<circle cx="1069.7" cy="1080.4" r="11" fill="url(#dotg)"/>
<circle cx="1094" cy="1062.4" r="11" fill="url(#dotg)"/>
<circle cx="1115.7" cy="1035.3" r="11" fill="url(#dotg)"/>
<circle cx="1124.7" cy="1024.5" r="11" fill="url(#dotg)"/>
<circle cx="1134.7" cy="1015.4" r="11" fill="url(#dotg)"/>
<circle cx="1173.5" cy="982.9" r="11" fill="url(#dotg)"/>
<circle cx="1188.8" cy="963.1" r="11" fill="url(#dotg)"/>
<circle cx="1194.2" cy="955.8" r="11" fill="url(#dotg)"/>
<circle cx="1223.1" cy="926.9" r="11" fill="url(#dotg)"/>
<circle cx="1235.8" cy="913.4" r="11" fill="url(#dotg)"/>
<circle cx="1240.3" cy="908.9" r="11" fill="url(#dotg)"/>
<circle cx="1256.5" cy="895.3" r="11" fill="url(#dotg)"/>
<circle cx="1274.8" cy="877.6" r="11" fill="url(#dotg)"/>
<circle cx="1284.9" cy="866.1" r="11" fill="url(#dotg)"/>
<circle cx="1295" cy="856" r="11" fill="url(#dotg)"/>
<circle cx="1305.1" cy="846.6" r="11" fill="url(#dotg)"/>
<circle cx="1311" cy="840" r="11" fill="url(#dotg)"/>
<circle cx="1316.7" cy="834.3" r="11" fill="url(#dotg)"/>
<circle cx="1333.3" cy="815.5" r="11" fill="url(#dotg)"/>
<circle cx="1344.1" cy="806.9" r="11" fill="url(#dotg)"/>
<circle cx="1355.6" cy="792.4" r="11" fill="url(#dotg)"/>
<circle cx="1367.2" cy="780.9" r="11" fill="url(#dotg)"/>
<circle cx="1374.4" cy="769.3" r="11" fill="url(#dotg)"/>
<circle cx="1383.1" cy="766.4" r="11" fill="url(#dotg)"/>
<circle cx="1391.8" cy="766.4" r="11" fill="url(#dotg)"/>
<circle cx="1400.4" cy="766.4" r="11" fill="url(#dotg)"/>
<circle cx="1407.6" cy="768.6" r="11" fill="url(#dotg)"/>
<path d="M1057.5 1123 L1364 1128" stroke="#111" stroke-width="5.5" stroke-dasharray="17 7" fill="none"/>
<path d="M1140.2 1205.3 L1402.7 1212" stroke="#111" stroke-width="5.5" stroke-dasharray="17 7" fill="none"/>
<path d="M1368.6 783 L1435 783" stroke="#111" stroke-width="5" stroke-dasharray="15 5" fill="none"/>
<line x1="1380" y1="788" x2="1380" y2="1129" stroke="#111" stroke-width="3.5"/>
<path d="M1367.5 808 L1380 786 L1392.5 808" fill="none" stroke="#111" stroke-width="4.2" stroke-linejoin="miter"/>
<path d="M1367.5 1109 L1380 1131 L1392.5 1109" fill="none" stroke="#111" stroke-width="4.2" stroke-linejoin="miter"/>
<line x1="1415.5" y1="788" x2="1415.5" y2="1212.5" stroke="#111" stroke-width="3.5"/>
<path d="M1403 808 L1415.5 786 L1428 808" fill="none" stroke="#111" stroke-width="4.2" stroke-linejoin="miter"/>
<path d="M1403 1192.5 L1415.5 1214.5 L1428 1192.5" fill="none" stroke="#111" stroke-width="4.2" stroke-linejoin="miter"/>
<polygon points="958.6,1173.5 964.24,1189.73 981.43,1190.08 967.73,1200.47 972.71,1216.92 958.6,1207.1 944.49,1216.92 949.47,1200.47 935.77,1190.08 952.96,1189.73" fill="#ee1c25"/>
<line x1="974.5" y1="1108.5" x2="1022" y2="1108.5" stroke="#111" stroke-width="4"/>
<path d="M1012 1097 L1026 1108.5 L1012 1120" fill="none" stroke="#111" stroke-width="4"/>
<line x1="1025" y1="1196.5" x2="978" y2="1196.5" stroke="#111" stroke-width="4"/>
<path d="M988 1184 L974 1196.5 L988 1209" fill="none" stroke="#111" stroke-width="4"/>
<path d="M893 716.5 H1457.5 V1244.6" fill="none" stroke="#111" stroke-width="3"/>
<path d="M893 715 V1244.6 H1459" fill="none" stroke="#111" stroke-width="4"/>
<path d="M893.4 1244.6v11.5M953.98 1244.6v11.5M1014.56 1244.6v11.5M1075.14 1244.6v11.5M1135.72 1244.6v11.5M1196.3 1244.6v11.5M1256.88 1244.6v11.5M1317.46 1244.6v11.5M1378.04 1244.6v11.5M1438.62 1244.6v11.5" stroke="#111" stroke-width="3" fill="none"/>
<path d="M911.64 1244.6v8M922.3 1244.6v8M929.87 1244.6v8M935.74 1244.6v8M940.54 1244.6v8M944.6 1244.6v8M948.11 1244.6v8M951.21 1244.6v8M972.22 1244.6v8M982.88 1244.6v8M990.45 1244.6v8M996.32 1244.6v8M1001.12 1244.6v8M1005.18 1244.6v8M1008.69 1244.6v8M1011.79 1244.6v8M1032.8 1244.6v8M1043.46 1244.6v8M1051.03 1244.6v8M1056.9 1244.6v8M1061.7 1244.6v8M1065.76 1244.6v8M1069.27 1244.6v8M1072.37 1244.6v8M1093.38 1244.6v8M1104.04 1244.6v8M1111.61 1244.6v8M1117.48 1244.6v8M1122.28 1244.6v8M1126.34 1244.6v8M1129.85 1244.6v8M1132.95 1244.6v8M1153.96 1244.6v8M1164.62 1244.6v8M1172.19 1244.6v8M1178.06 1244.6v8M1182.86 1244.6v8M1186.92 1244.6v8M1190.43 1244.6v8M1193.53 1244.6v8M1214.54 1244.6v8M1225.2 1244.6v8M1232.77 1244.6v8M1238.64 1244.6v8M1243.44 1244.6v8M1247.5 1244.6v8M1251.01 1244.6v8M1254.11 1244.6v8M1275.12 1244.6v8M1285.78 1244.6v8M1293.35 1244.6v8M1299.22 1244.6v8M1304.02 1244.6v8M1308.08 1244.6v8M1311.59 1244.6v8M1314.69 1244.6v8M1335.7 1244.6v8M1346.36 1244.6v8M1353.93 1244.6v8M1359.8 1244.6v8M1364.6 1244.6v8M1368.66 1244.6v8M1372.17 1244.6v8M1375.27 1244.6v8M1396.28 1244.6v8M1406.94 1244.6v8M1414.51 1244.6v8M1420.38 1244.6v8M1425.18 1244.6v8M1429.24 1244.6v8M1432.75 1244.6v8M1435.85 1244.6v8M1456.86 1244.6v8" stroke="#111" stroke-width="3" fill="none"/>
<path d="M893 1244.56h-9.5M893 1209.42h-9.5M893 1174.28h-9.5M893 1139.14h-9.5M893 1104h-9.5M893 1068.86h-9.5M893 1033.72h-9.5M893 998.58h-9.5M893 963.44h-9.5M893 928.3h-9.5M893 893.16h-9.5M893 858.02h-9.5M893 822.88h-9.5M893 787.74h-9.5M893 752.6h-9.5M893 717.46h-9.5" stroke="#111" stroke-width="3" fill="none"/>
<path d="M893 1233.98h-6M893 1227.79h-6M893 1223.4h-6M893 1220h-6M893 1217.22h-6M893 1214.86h-6M893 1212.83h-6M893 1211.03h-6M893 1198.84h-6M893 1192.65h-6M893 1188.26h-6M893 1184.86h-6M893 1182.08h-6M893 1179.72h-6M893 1177.69h-6M893 1175.89h-6M893 1163.7h-6M893 1157.51h-6M893 1153.12h-6M893 1149.72h-6M893 1146.94h-6M893 1144.58h-6M893 1142.55h-6M893 1140.75h-6M893 1128.56h-6M893 1122.37h-6M893 1117.98h-6M893 1114.58h-6M893 1111.8h-6M893 1109.44h-6M893 1107.41h-6M893 1105.61h-6M893 1093.42h-6M893 1087.23h-6M893 1082.84h-6M893 1079.44h-6M893 1076.66h-6M893 1074.3h-6M893 1072.27h-6M893 1070.47h-6M893 1058.28h-6M893 1052.09h-6M893 1047.7h-6M893 1044.3h-6M893 1041.52h-6M893 1039.16h-6M893 1037.13h-6M893 1035.33h-6M893 1023.14h-6M893 1016.95h-6M893 1012.56h-6M893 1009.16h-6M893 1006.38h-6M893 1004.02h-6M893 1001.99h-6M893 1000.19h-6M893 988h-6M893 981.81h-6M893 977.42h-6M893 974.02h-6M893 971.24h-6M893 968.88h-6M893 966.85h-6M893 965.05h-6M893 952.86h-6M893 946.67h-6M893 942.28h-6M893 938.88h-6M893 936.1h-6M893 933.74h-6M893 931.71h-6M893 929.91h-6M893 917.72h-6M893 911.53h-6M893 907.14h-6M893 903.74h-6M893 900.96h-6M893 898.6h-6M893 896.57h-6M893 894.77h-6M893 882.58h-6M893 876.39h-6M893 872h-6M893 868.6h-6M893 865.82h-6M893 863.46h-6M893 861.43h-6M893 859.63h-6M893 847.44h-6M893 841.25h-6M893 836.86h-6M893 833.46h-6M893 830.68h-6M893 828.32h-6M893 826.29h-6M893 824.49h-6M893 812.3h-6M893 806.11h-6M893 801.72h-6M893 798.32h-6M893 795.54h-6M893 793.18h-6M893 791.15h-6M893 789.35h-6M893 777.16h-6M893 770.97h-6M893 766.58h-6M893 763.18h-6M893 760.4h-6M893 758.04h-6M893 756.01h-6M893 754.21h-6M893 742.02h-6M893 735.83h-6M893 731.44h-6M893 728.04h-6M893 725.26h-6M893 722.9h-6M893 720.87h-6M893 719.07h-6" stroke="#111" stroke-width="3" fill="none"/>
<text x="821.9" y="766.75" font-family="'Liberation Sans', Arial, sans-serif" font-size="41" fill="#111" textLength="41.05" lengthAdjust="spacingAndGlyphs">10</text>
<text x="863.56" y="744.75" font-family="'Liberation Sans', Arial, sans-serif" font-size="19.5" fill="#111" textLength="12.47" lengthAdjust="spacingAndGlyphs">9</text>
<text x="822.13" y="837.02" font-family="'Liberation Sans', Arial, sans-serif" font-size="41" fill="#111" textLength="41.05" lengthAdjust="spacingAndGlyphs">10</text>
<text x="863.68" y="815.02" font-family="'Liberation Sans', Arial, sans-serif" font-size="19.5" fill="#111" textLength="12.47" lengthAdjust="spacingAndGlyphs">7</text>
<text x="821.68" y="907.31" font-family="'Liberation Sans', Arial, sans-serif" font-size="41" fill="#111" textLength="41.05" lengthAdjust="spacingAndGlyphs">10</text>
<text x="863.45" y="885.31" font-family="'Liberation Sans', Arial, sans-serif" font-size="19.5" fill="#111" textLength="12.47" lengthAdjust="spacingAndGlyphs">5</text>
<text x="821.68" y="977.59" font-family="'Liberation Sans', Arial, sans-serif" font-size="41" fill="#111" textLength="41.05" lengthAdjust="spacingAndGlyphs">10</text>
<text x="863.45" y="955.59" font-family="'Liberation Sans', Arial, sans-serif" font-size="19.5" fill="#111" textLength="12.47" lengthAdjust="spacingAndGlyphs">3</text>
<text x="822.58" y="1047.87" font-family="'Liberation Sans', Arial, sans-serif" font-size="41" fill="#111" textLength="41.05" lengthAdjust="spacingAndGlyphs">10</text>
<text x="863.56" y="1025.87" font-family="'Liberation Sans', Arial, sans-serif" font-size="19.5" fill="#111" textLength="12.47" lengthAdjust="spacingAndGlyphs">1</text>
<text x="814.39" y="1118.14" font-family="'Liberation Sans', Arial, sans-serif" font-size="41" fill="#111" textLength="41.05" lengthAdjust="spacingAndGlyphs">10</text>
<text x="856.05" y="1096.14" font-family="'Liberation Sans', Arial, sans-serif" font-size="19.5" fill="#111" textLength="19.94" lengthAdjust="spacingAndGlyphs">-1</text>
<text x="814.28" y="1188.42" font-family="'Liberation Sans', Arial, sans-serif" font-size="41" fill="#111" textLength="41.05" lengthAdjust="spacingAndGlyphs">10</text>
<text x="855.94" y="1166.42" font-family="'Liberation Sans', Arial, sans-serif" font-size="19.5" fill="#111" textLength="19.94" lengthAdjust="spacingAndGlyphs">-3</text>
<text x="814.28" y="1258.7" font-family="'Liberation Sans', Arial, sans-serif" font-size="41" fill="#111" textLength="41.05" lengthAdjust="spacingAndGlyphs">10</text>
<text x="855.94" y="1236.7" font-family="'Liberation Sans', Arial, sans-serif" font-size="19.5" fill="#111" textLength="19.94" lengthAdjust="spacingAndGlyphs">-5</text>
<text x="863.27" y="1299.64" font-family="'Liberation Sans', Arial, sans-serif" font-size="41" fill="#111" textLength="42.41" lengthAdjust="spacingAndGlyphs">10</text>
<text x="905.44" y="1277.35" font-family="'Liberation Sans', Arial, sans-serif" font-size="19.5" fill="#111" textLength="16.13" lengthAdjust="spacingAndGlyphs">-7</text>
<text x="984.34" y="1299.64" font-family="'Liberation Sans', Arial, sans-serif" font-size="41" fill="#111" textLength="42.41" lengthAdjust="spacingAndGlyphs">10</text>
<text x="1026.51" y="1277.35" font-family="'Liberation Sans', Arial, sans-serif" font-size="19.5" fill="#111" textLength="16.13" lengthAdjust="spacingAndGlyphs">-5</text>
<text x="1105.5" y="1299.64" font-family="'Liberation Sans', Arial, sans-serif" font-size="41" fill="#111" textLength="42.41" lengthAdjust="spacingAndGlyphs">10</text>
<text x="1147.67" y="1277.35" font-family="'Liberation Sans', Arial, sans-serif" font-size="19.5" fill="#111" textLength="16.13" lengthAdjust="spacingAndGlyphs">-3</text>
<text x="1226.7" y="1299.64" font-family="'Liberation Sans', Arial, sans-serif" font-size="41" fill="#111" textLength="42.41" lengthAdjust="spacingAndGlyphs">10</text>
<text x="1268.87" y="1277.35" font-family="'Liberation Sans', Arial, sans-serif" font-size="19.5" fill="#111" textLength="16.13" lengthAdjust="spacingAndGlyphs">-1</text>
<text x="1351.17" y="1299.64" font-family="'Liberation Sans', Arial, sans-serif" font-size="41" fill="#111" textLength="42.41" lengthAdjust="spacingAndGlyphs">10</text>
<text x="1392.8" y="1277.35" font-family="'Liberation Sans', Arial, sans-serif" font-size="19.5" fill="#111" textLength="10.09" lengthAdjust="spacingAndGlyphs">1</text>
<text transform="translate(795.7 1105.25) rotate(-90)" x="0" y="0" font-family="'Liberation Serif', 'Times New Roman', serif" font-size="50" font-style="italic" fill="#111">J</text>
<text transform="translate(795.7 1066.42) rotate(-90)" x="0" y="0" font-family="'Liberation Serif', 'Times New Roman', serif" font-size="50" fill="#111" textLength="172.07" lengthAdjust="spacingAndGlyphs">(mA/cm</text>
<text transform="translate(780.06 895.72) rotate(-90)" x="0" y="0" font-family="'Liberation Serif', 'Times New Roman', serif" font-size="36" fill="#111">2</text>
<text transform="translate(795.7 875.9) rotate(-90)" x="0" y="0" font-family="'Liberation Serif', 'Times New Roman', serif" font-size="50" fill="#111">)</text>
<text x="925.97" y="1360.3" font-family="'Liberation Serif', 'Times New Roman', serif" font-size="50.5" fill="#111" textLength="454.65" lengthAdjust="spacingAndGlyphs">Light Intensity (W/cm</text>
<text x="1379.42" y="1345.2" font-family="'Liberation Serif', 'Times New Roman', serif" font-size="35" fill="#111">2</text>
<text x="1395.48" y="1360.3" font-family="'Liberation Serif', 'Times New Roman', serif" font-size="50.5" fill="#111">)</text>
<text x="739.34" y="762.13" font-family="'Liberation Serif', 'Times New Roman', serif" font-size="68.68" fill="#111" textLength="73.02" lengthAdjust="spacingAndGlyphs">(e)</text>
<text x="897.96" y="1113" font-family="'Liberation Serif', 'Times New Roman', serif" font-size="49.92" font-style="italic" fill="#111" textLength="21.81" lengthAdjust="spacingAndGlyphs">J</text>
<text x="925.3" y="1081.18" font-family="'Liberation Serif', 'Times New Roman', serif" font-size="32.34" fill="#111" textLength="134.1" lengthAdjust="spacingAndGlyphs">measured</text>
<text x="920.3" y="1133" font-family="'Liberation Serif', 'Times New Roman', serif" font-size="38.33" fill="#111" textLength="54.75" lengthAdjust="spacingAndGlyphs">min</text>
<text x="1024.22" y="1208.31" font-family="'Liberation Serif', 'Times New Roman', serif" font-size="48.87" font-style="italic" fill="#111" textLength="23.14" lengthAdjust="spacingAndGlyphs">J</text>
<text x="1046.68" y="1228.61" font-family="'Liberation Serif', 'Times New Roman', serif" font-size="38.81" fill="#111" textLength="75.6" lengthAdjust="spacingAndGlyphs">noise</text>
<text x="1086.32" y="1106.6" font-family="'Liberation Serif', 'Times New Roman', serif" font-size="30.69" fill="#111" textLength="58.68" lengthAdjust="spacingAndGlyphs">LDR</text>
<text x="1146.89" y="1115.15" font-family="'Liberation Serif', 'Times New Roman', serif" font-size="25.11" fill="#111" textLength="97.1" lengthAdjust="spacingAndGlyphs">measured</text>
<text x="1251.04" y="1106.31" font-family="'Liberation Serif', 'Times New Roman', serif" font-size="28.51" fill="#111" textLength="115.49" lengthAdjust="spacingAndGlyphs">= 114 dB</text>
<text x="1089.37" y="1182.8" font-family="'Liberation Serif', 'Times New Roman', serif" font-size="36.79" fill="#111" textLength="68.63" lengthAdjust="spacingAndGlyphs">LDR</text>
<text x="1159.27" y="1191.71" font-family="'Liberation Serif', 'Times New Roman', serif" font-size="26.92" fill="#111" textLength="91.13" lengthAdjust="spacingAndGlyphs">expected</text>
<text x="1267.61" y="1182.46" font-family="'Liberation Serif', 'Times New Roman', serif" font-size="34.18" fill="#111" textLength="133.54" lengthAdjust="spacingAndGlyphs">= 144 dB</text>
<polyline points="1736.1,782.4 1748.72,782.4 1748.72,783.3 1764.14,783.3" fill="none" stroke="#3d4fb0" stroke-width="4" stroke-linejoin="round" stroke-linecap="round" stroke-linecap="butt" stroke-linejoin="miter"/>
<polyline points="1798.64,784.2 1811.26,784.2 1811.26,785.9 1826.68,785.9" fill="none" stroke="#3d4fb0" stroke-width="4" stroke-linejoin="round" stroke-linecap="round" stroke-linecap="butt" stroke-linejoin="miter"/>
<polyline points="1861.18,787.6 1873.79,787.6 1873.79,789.45 1889.21,789.45" fill="none" stroke="#3d4fb0" stroke-width="4" stroke-linejoin="round" stroke-linecap="round" stroke-linecap="butt" stroke-linejoin="miter"/>
<polyline points="1923.71,791.3 1936.33,791.3 1936.33,793.15 1951.75,793.15" fill="none" stroke="#3d4fb0" stroke-width="4" stroke-linejoin="round" stroke-linecap="round" stroke-linecap="butt" stroke-linejoin="miter"/>
<polyline points="1986.25,795 1998.87,795 1998.87,797 2014.29,797" fill="none" stroke="#3d4fb0" stroke-width="4" stroke-linejoin="round" stroke-linecap="round" stroke-linecap="butt" stroke-linejoin="miter"/>
<polyline points="2048.79,799 2089.55,799 2089.55,801 2139.37,801" fill="none" stroke="#3d4fb0" stroke-width="4" stroke-linejoin="round" stroke-linecap="round" stroke-linecap="butt" stroke-linejoin="miter"/>
<polygon points="1709.1,765.9 1736.6,782.4 1709.1,798.9" fill="#62b944"/>
<polygon points="1771.64,767.7 1799.14,784.2 1771.64,800.7" fill="#62b944"/>
<polygon points="1834.18,771.1 1861.68,787.6 1834.18,804.1" fill="#62b944"/>
<polygon points="1896.71,774.8 1924.21,791.3 1896.71,807.8" fill="#62b944"/>
<polygon points="1959.25,778.5 1986.75,795 1959.25,811.5" fill="#62b944"/>
<polygon points="2021.79,782.5 2049.29,799 2021.79,815.5" fill="#62b944"/>
<polygon points="2146.87,786.5 2174.37,803 2146.87,819.5" fill="#62b944"/>
<polyline points="1736.6,1211.7 1763.14,1211.7" fill="none" stroke="#9a30aa" stroke-width="3.2" stroke-linejoin="round" stroke-linecap="round" stroke-linecap="butt"/>
<polyline points="1799.14,1209.7 1825.68,1209.7" fill="none" stroke="#9a30aa" stroke-width="3.2" stroke-linejoin="round" stroke-linecap="round" stroke-linecap="butt"/>
<polyline points="1861.68,1206.2 1888.21,1206.2" fill="none" stroke="#9a30aa" stroke-width="3.2" stroke-linejoin="round" stroke-linecap="round" stroke-linecap="butt"/>
<polyline points="1924.21,1203.5 1950.75,1203.5" fill="none" stroke="#9a30aa" stroke-width="3.2" stroke-linejoin="round" stroke-linecap="round" stroke-linecap="butt"/>
<polyline points="1986.75,1201.15 2013.29,1201.15" fill="none" stroke="#9a30aa" stroke-width="3.2" stroke-linejoin="round" stroke-linecap="round" stroke-linecap="butt"/>
<polyline points="2049.29,1199.05 2138.37,1199.05" fill="none" stroke="#9a30aa" stroke-width="3.2" stroke-linejoin="round" stroke-linecap="round" stroke-linecap="butt"/>
<polygon points="1718.6,1196.1 1722.48,1205.56 1732.68,1206.33 1724.88,1212.94 1727.3,1222.87 1718.6,1217.5 1709.9,1222.87 1712.32,1212.94 1704.52,1206.33 1714.72,1205.56" fill="#fff" stroke="#9a30aa" stroke-width="2.1" stroke-linejoin="miter"/>
<polygon points="1781.14,1195.7 1785.02,1205.16 1795.21,1205.93 1787.41,1212.54 1789.84,1222.47 1781.14,1217.1 1772.44,1222.47 1774.86,1212.54 1767.06,1205.93 1777.26,1205.16" fill="#fff" stroke="#9a30aa" stroke-width="2.1" stroke-linejoin="miter"/>
<polygon points="1843.68,1192.1 1847.56,1201.56 1857.75,1202.33 1849.95,1208.94 1852.38,1218.87 1843.68,1213.5 1834.98,1218.87 1837.4,1208.94 1829.6,1202.33 1839.8,1201.56" fill="#fff" stroke="#9a30aa" stroke-width="2.1" stroke-linejoin="miter"/>
<polygon points="1906.21,1188.7 1910.09,1198.16 1920.29,1198.93 1912.49,1205.54 1914.91,1215.47 1906.21,1210.1 1897.51,1215.47 1899.94,1205.54 1892.14,1198.93 1902.33,1198.16" fill="#fff" stroke="#9a30aa" stroke-width="2.1" stroke-linejoin="miter"/>
<polygon points="1968.75,1186.7 1972.63,1196.16 1982.83,1196.93 1975.03,1203.54 1977.45,1213.47 1968.75,1208.1 1960.05,1213.47 1962.48,1203.54 1954.68,1196.93 1964.87,1196.16" fill="#fff" stroke="#9a30aa" stroke-width="2.1" stroke-linejoin="miter"/>
<polygon points="2031.29,1184 2035.17,1193.46 2045.37,1194.23 2037.57,1200.84 2039.99,1210.77 2031.29,1205.4 2022.59,1210.77 2025.01,1200.84 2017.21,1194.23 2027.41,1193.46" fill="#fff" stroke="#9a30aa" stroke-width="2.1" stroke-linejoin="miter"/>
<polygon points="2156.37,1182.5 2160.25,1191.96 2170.44,1192.73 2162.64,1199.34 2165.07,1209.27 2156.37,1203.9 2147.67,1209.27 2150.09,1199.34 2142.29,1192.73 2152.49,1191.96" fill="#fff" stroke="#9a30aa" stroke-width="2.1" stroke-linejoin="miter"/>
<ellipse cx="1967.2" cy="817.3" rx="37.5" ry="62.5" fill="none" stroke="#ee2228" stroke-width="4.2" stroke-dasharray="16 10"/>
<line x1="2001" y1="830.2" x2="2082" y2="830.2" stroke="#ee2228" stroke-width="4.2"/>
<line x1="2001" y1="824.5" x2="2001" y2="836.5" stroke="#ee2228" stroke-width="4"/>
<path d="M2061 818 L2084 830.2 L2061 842.4" fill="none" stroke="#ee2228" stroke-width="4.2"/>
<ellipse cx="1919.8" cy="1193" rx="36.5" ry="61.5" fill="none" stroke="#111" stroke-width="4.8" stroke-dasharray="17 11"/>
<line x1="1886.7" y1="1168.7" x2="1805" y2="1168.7" stroke="#111" stroke-width="4.8"/>
<line x1="1886.7" y1="1161.5" x2="1886.7" y2="1180" stroke="#111" stroke-width="4.2"/>
<path d="M1826 1156.5 L1803 1168.7 L1826 1181" fill="none" stroke="#111" stroke-width="4.8"/>
<rect x="1673.8" y="721.4" width="538.2" height="538.2" fill="none" stroke="#111" stroke-width="3.5"/>
<path d="M1718.6 1259.6v11M1807.94 1259.6v11M1897.28 1259.6v11M1986.62 1259.6v11M2075.96 1259.6v11M2165.3 1259.6v11" stroke="#111" stroke-width="3" fill="none"/>
<path d="M1763.27 1259.6v8M1852.61 1259.6v8M1941.95 1259.6v8M2031.29 1259.6v8M2120.63 1259.6v8" stroke="#111" stroke-width="3" fill="none"/>
<path d="M1718.6 721.4v10M1807.94 721.4v10M1897.28 721.4v10M1986.62 721.4v10M2075.96 721.4v10M2165.3 721.4v10" stroke="#111" stroke-width="3" fill="none"/>
<path d="M1763.27 721.4v7M1852.61 721.4v7M1941.95 721.4v7M2031.29 721.4v7M2120.63 721.4v7" stroke="#111" stroke-width="3" fill="none"/>
<path d="M1673.8 1259.6h-10M1673.8 1151.1h-10M1673.8 1042.6h-10M1673.8 934.1h-10M1673.8 825.6h-10" stroke="#111" stroke-width="3" fill="none"/>
<path d="M1673.8 1226.94h-6M1673.8 1207.83h-6M1673.8 1194.28h-6M1673.8 1183.76h-6M1673.8 1175.17h-6M1673.8 1167.91h-6M1673.8 1161.61h-6M1673.8 1156.06h-6M1673.8 1118.44h-6M1673.8 1099.33h-6M1673.8 1085.78h-6M1673.8 1075.26h-6M1673.8 1066.67h-6M1673.8 1059.41h-6M1673.8 1053.11h-6M1673.8 1047.56h-6M1673.8 1009.94h-6M1673.8 990.83h-6M1673.8 977.28h-6M1673.8 966.76h-6M1673.8 958.17h-6M1673.8 950.91h-6M1673.8 944.61h-6M1673.8 939.06h-6M1673.8 901.44h-6M1673.8 882.33h-6M1673.8 868.78h-6M1673.8 858.26h-6M1673.8 849.67h-6M1673.8 842.41h-6M1673.8 836.11h-6M1673.8 830.56h-6M1673.8 792.94h-6M1673.8 773.83h-6M1673.8 760.28h-6M1673.8 749.76h-6M1673.8 741.17h-6M1673.8 733.91h-6M1673.8 727.61h-6" stroke="#111" stroke-width="3" fill="none"/>
<path d="M2212 1259.8h9.5M2212 1181.3h9.5M2212 1102.8h9.5M2212 1024.3h9.5M2212 945.8h9.5M2212 867.3h9.5M2212 788.8h9.5" stroke="#111" stroke-width="3" fill="none"/>
<path d="M2212 1236.17h5.5M2212 1222.35h5.5M2212 1212.54h5.5M2212 1204.93h5.5M2212 1198.72h5.5M2212 1193.46h5.5M2212 1188.91h5.5M2212 1184.89h5.5M2212 1157.67h5.5M2212 1143.85h5.5M2212 1134.04h5.5M2212 1126.43h5.5M2212 1120.22h5.5M2212 1114.96h5.5M2212 1110.41h5.5M2212 1106.39h5.5M2212 1079.17h5.5M2212 1065.35h5.5M2212 1055.54h5.5M2212 1047.93h5.5M2212 1041.72h5.5M2212 1036.46h5.5M2212 1031.91h5.5M2212 1027.89h5.5M2212 1000.67h5.5M2212 986.85h5.5M2212 977.04h5.5M2212 969.43h5.5M2212 963.22h5.5M2212 957.96h5.5M2212 953.41h5.5M2212 949.39h5.5M2212 922.17h5.5M2212 908.35h5.5M2212 898.54h5.5M2212 890.93h5.5M2212 884.72h5.5M2212 879.46h5.5M2212 874.91h5.5M2212 870.89h5.5M2212 843.67h5.5M2212 829.85h5.5M2212 820.04h5.5M2212 812.43h5.5M2212 806.22h5.5M2212 800.96h5.5M2212 796.41h5.5M2212 792.39h5.5M2212 765.17h5.5M2212 751.35h5.5M2212 741.54h5.5M2212 733.93h5.5M2212 727.72h5.5M2212 722.46h5.5" stroke="#111" stroke-width="3" fill="none"/>
<text x="1599.01" y="1273.57" font-family="'Liberation Sans', Arial, sans-serif" font-size="40.5" fill="#111" textLength="41.45" lengthAdjust="spacingAndGlyphs">10</text>
<text x="1640.21" y="1252.07" font-family="'Liberation Sans', Arial, sans-serif" font-size="20.7" fill="#111" textLength="16.93" lengthAdjust="spacingAndGlyphs">-9</text>
<text x="1598.92" y="1165.07" font-family="'Liberation Sans', Arial, sans-serif" font-size="40.5" fill="#111" textLength="41.45" lengthAdjust="spacingAndGlyphs">10</text>
<text x="1640.11" y="1143.57" font-family="'Liberation Sans', Arial, sans-serif" font-size="20.7" fill="#111" textLength="16.93" lengthAdjust="spacingAndGlyphs">-8</text>
<text x="1599.11" y="1056.57" font-family="'Liberation Sans', Arial, sans-serif" font-size="40.5" fill="#111" textLength="41.45" lengthAdjust="spacingAndGlyphs">10</text>
<text x="1640.3" y="1035.07" font-family="'Liberation Sans', Arial, sans-serif" font-size="20.7" fill="#111" textLength="16.93" lengthAdjust="spacingAndGlyphs">-7</text>
<text x="1598.92" y="948.07" font-family="'Liberation Sans', Arial, sans-serif" font-size="40.5" fill="#111" textLength="41.45" lengthAdjust="spacingAndGlyphs">10</text>
<text x="1640.11" y="926.57" font-family="'Liberation Sans', Arial, sans-serif" font-size="20.7" fill="#111" textLength="16.93" lengthAdjust="spacingAndGlyphs">-6</text>
<text x="1598.92" y="839.57" font-family="'Liberation Sans', Arial, sans-serif" font-size="40.5" fill="#111" textLength="41.45" lengthAdjust="spacingAndGlyphs">10</text>
<text x="1640.11" y="818.07" font-family="'Liberation Sans', Arial, sans-serif" font-size="20.7" fill="#111" textLength="16.93" lengthAdjust="spacingAndGlyphs">-5</text>
<text x="2226.32" y="1272.91" font-family="'Liberation Sans', Arial, sans-serif" font-size="38" fill="#111" textLength="39.73" lengthAdjust="spacingAndGlyphs">10</text>
<text x="2266.92" y="1253.41" font-family="'Liberation Sans', Arial, sans-serif" font-size="19" fill="#111" textLength="25.81" lengthAdjust="spacingAndGlyphs">-12</text>
<text x="2226.32" y="1194.41" font-family="'Liberation Sans', Arial, sans-serif" font-size="38" fill="#111" textLength="39.73" lengthAdjust="spacingAndGlyphs">10</text>
<text x="2266.92" y="1174.91" font-family="'Liberation Sans', Arial, sans-serif" font-size="19" fill="#111" textLength="24.49" lengthAdjust="spacingAndGlyphs">-11</text>
<text x="2226.32" y="1115.91" font-family="'Liberation Sans', Arial, sans-serif" font-size="38" fill="#111" textLength="39.73" lengthAdjust="spacingAndGlyphs">10</text>
<text x="2266.92" y="1096.41" font-family="'Liberation Sans', Arial, sans-serif" font-size="19" fill="#111" textLength="25.81" lengthAdjust="spacingAndGlyphs">-10</text>
<text x="2226.32" y="1037.41" font-family="'Liberation Sans', Arial, sans-serif" font-size="38" fill="#111" textLength="39.73" lengthAdjust="spacingAndGlyphs">10</text>
<text x="2266.92" y="1017.91" font-family="'Liberation Sans', Arial, sans-serif" font-size="19" fill="#111" textLength="15.88" lengthAdjust="spacingAndGlyphs">-9</text>
<text x="2226.32" y="958.91" font-family="'Liberation Sans', Arial, sans-serif" font-size="38" fill="#111" textLength="39.73" lengthAdjust="spacingAndGlyphs">10</text>
<text x="2266.92" y="939.41" font-family="'Liberation Sans', Arial, sans-serif" font-size="19" fill="#111" textLength="15.88" lengthAdjust="spacingAndGlyphs">-8</text>
<text x="2226.32" y="880.41" font-family="'Liberation Sans', Arial, sans-serif" font-size="38" fill="#111" textLength="39.73" lengthAdjust="spacingAndGlyphs">10</text>
<text x="2266.92" y="860.91" font-family="'Liberation Sans', Arial, sans-serif" font-size="19" fill="#111" textLength="15.88" lengthAdjust="spacingAndGlyphs">-7</text>
<text x="2226.32" y="801.91" font-family="'Liberation Sans', Arial, sans-serif" font-size="38" fill="#111" textLength="39.73" lengthAdjust="spacingAndGlyphs">10</text>
<text x="2266.92" y="782.41" font-family="'Liberation Sans', Arial, sans-serif" font-size="19" fill="#111" textLength="15.88" lengthAdjust="spacingAndGlyphs">-6</text>
<text x="1708.31" y="1306.15" font-family="'Liberation Sans', Arial, sans-serif" font-size="38.7" fill="#111" textLength="20.45" lengthAdjust="spacingAndGlyphs">0</text>
<text x="1786.8" y="1306.15" font-family="'Liberation Sans', Arial, sans-serif" font-size="38.7" fill="#111" textLength="40.9" lengthAdjust="spacingAndGlyphs">10</text>
<text x="1876.6" y="1306.15" font-family="'Liberation Sans', Arial, sans-serif" font-size="38.7" fill="#111" textLength="40.9" lengthAdjust="spacingAndGlyphs">20</text>
<text x="1966.12" y="1306.15" font-family="'Liberation Sans', Arial, sans-serif" font-size="38.7" fill="#111" textLength="40.9" lengthAdjust="spacingAndGlyphs">30</text>
<text x="2055.83" y="1306.15" font-family="'Liberation Sans', Arial, sans-serif" font-size="38.7" fill="#111" textLength="40.9" lengthAdjust="spacingAndGlyphs">40</text>
<text x="2144.8" y="1306.15" font-family="'Liberation Sans', Arial, sans-serif" font-size="38.7" fill="#111" textLength="40.9" lengthAdjust="spacingAndGlyphs">50</text>
<text transform="translate(1577.99 1178.36) rotate(-90)" x="0" y="0" font-family="'Liberation Serif', 'Times New Roman', serif" font-size="51.21" fill="#111" textLength="349.65" lengthAdjust="spacingAndGlyphs">Dark current (A)</text>
<text transform="translate(2336.19 1187.95) rotate(-90)" x="0" y="0" font-family="'Liberation Serif', 'Times New Roman', serif" font-size="51.21" fill="#111" textLength="352.42" lengthAdjust="spacingAndGlyphs">Photocurrent (A)</text>
<text x="1927.68" y="1359.93" font-family="'Liberation Serif', 'Times New Roman', serif" font-size="51.03" fill="#111" textLength="84.22" lengthAdjust="spacingAndGlyphs">Day</text>
<text x="1560.1" y="753.15" font-family="'Liberation Serif', 'Times New Roman', serif" font-size="66.74" fill="#111">(f)</text></svg></body></html>
